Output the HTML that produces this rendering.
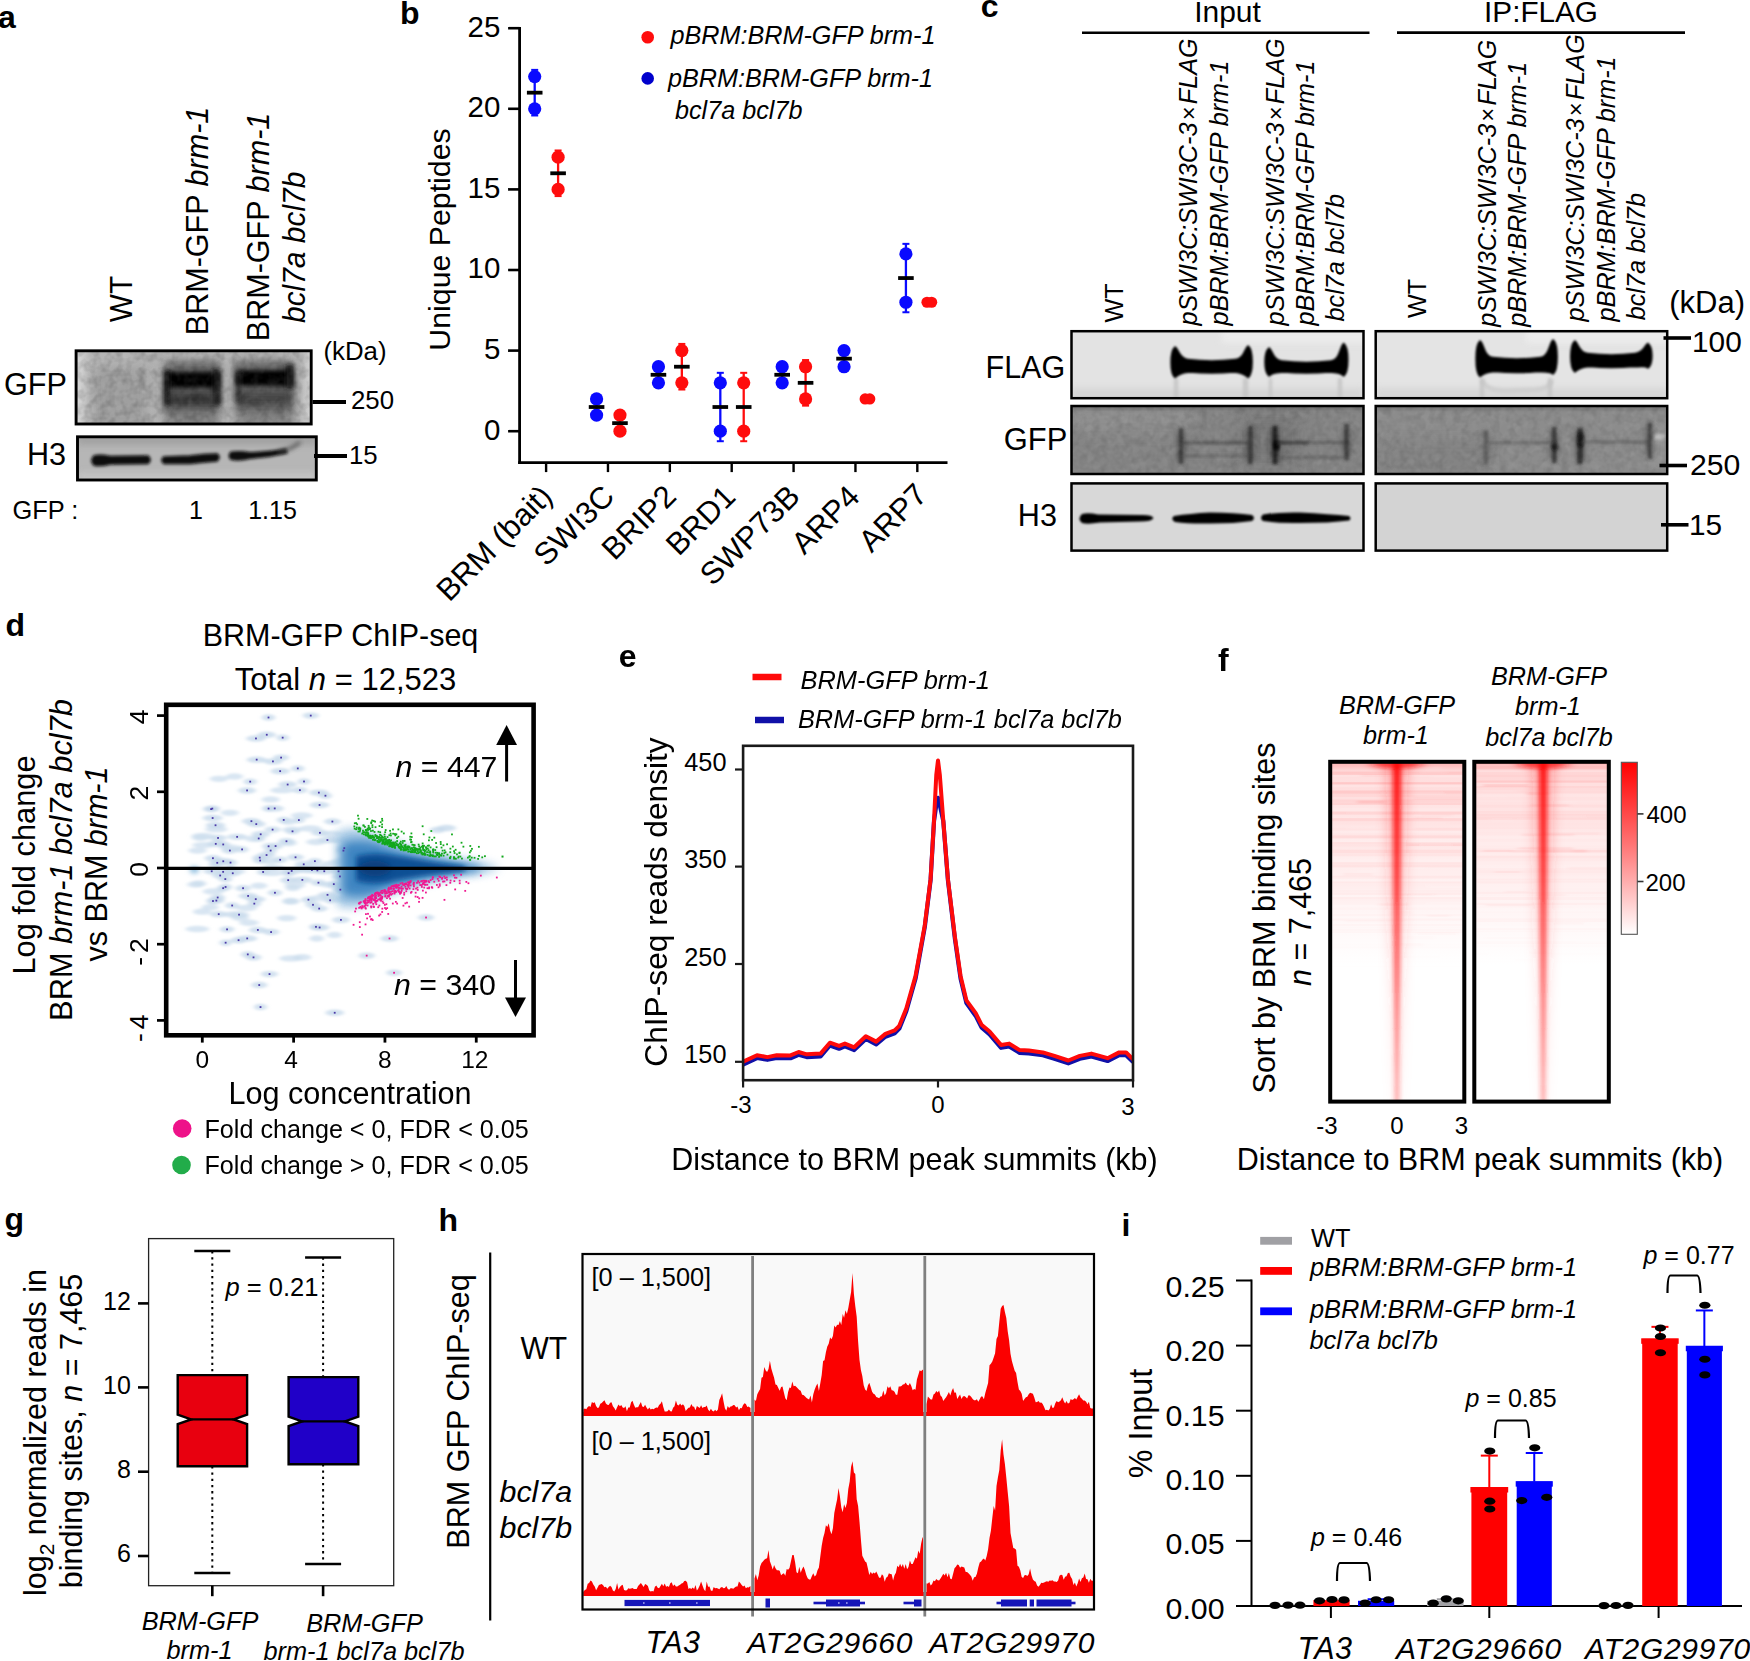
<!DOCTYPE html>
<html lang="en"><head><meta charset="utf-8"><title>Figure</title>
<style>
html,body{margin:0;padding:0;background:#fff;}
svg{display:block;}
text{font-family:'Liberation Sans', Arial, Helvetica, sans-serif;}
</style></head><body>
<svg width="1750" height="1661" viewBox="0 0 1750 1661">
<defs>
<filter id="fa1" filterUnits="userSpaceOnUse" x="50" y="330" width="300" height="170"><feGaussianBlur stdDeviation="1.5"/></filter>
<filter id="fa2" filterUnits="userSpaceOnUse" x="50" y="330" width="300" height="170"><feGaussianBlur stdDeviation="2.2"/></filter>
<filter id="fa3" filterUnits="userSpaceOnUse" x="50" y="330" width="300" height="170"><feGaussianBlur stdDeviation="3.2"/></filter>
<filter id="fa4" filterUnits="userSpaceOnUse" x="50" y="330" width="300" height="170"><feGaussianBlur stdDeviation="5"/></filter>
<filter id="bl2" x="-30%" y="-30%" width="160%" height="160%"><feGaussianBlur stdDeviation="2"/></filter>
<filter id="bl3" x="-30%" y="-30%" width="160%" height="160%"><feGaussianBlur stdDeviation="3"/></filter>
<filter id="bl1" x="-30%" y="-30%" width="160%" height="160%"><feGaussianBlur stdDeviation="1.2"/></filter>
<filter id="noiseA" x="0" y="0" width="100%" height="100%"><feTurbulence type="fractalNoise" baseFrequency="0.13" numOctaves="2" seed="4"/><feColorMatrix type="matrix" values="0 0 0 0 0  0 0 0 0 0  0 0 0 0 0  1.6 0 0 0 -0.62"/></filter>
<filter id="noiseW" x="0" y="0" width="100%" height="100%"><feTurbulence type="fractalNoise" baseFrequency="0.13" numOctaves="2" seed="9"/><feColorMatrix type="matrix" values="0 0 0 0 1  0 0 0 0 1  0 0 0 0 1  1.6 0 0 0 -0.62"/></filter>
<clipPath id="ca1"><rect x="76.1" y="350.8" width="235.1" height="73.2"/></clipPath>
<clipPath id="ca2"><rect x="77.5" y="436.8" width="238.8" height="43.2"/></clipPath>
<linearGradient id="ga1" x1="0" x2="1" y1="0" y2="0"><stop offset="0" stop-color="#dcdcdc"/><stop offset="0.06" stop-color="#b6b6b6"/><stop offset="0.34" stop-color="#b0b0b0"/><stop offset="0.95" stop-color="#b2b2b2"/><stop offset="1" stop-color="#d6d6d6"/></linearGradient>
<filter id="fc1" filterUnits="userSpaceOnUse" x="1060" y="320" width="620" height="240"><feGaussianBlur stdDeviation="1.3"/></filter>
<filter id="fc2" filterUnits="userSpaceOnUse" x="1060" y="320" width="620" height="240"><feGaussianBlur stdDeviation="1.8"/></filter>
<filter id="fc3" filterUnits="userSpaceOnUse" x="1060" y="320" width="620" height="240"><feGaussianBlur stdDeviation="3"/></filter>
<filter id="fc4" filterUnits="userSpaceOnUse" x="1060" y="320" width="620" height="240"><feGaussianBlur stdDeviation="7"/></filter>
<clipPath id="cc00"><rect x="1071.5" y="331.2" width="292.00" height="67.00"/></clipPath>
<clipPath id="cc01"><rect x="1375.7" y="331.2" width="291.50" height="67.00"/></clipPath>
<clipPath id="cc10"><rect x="1071.5" y="406.0" width="292.00" height="68.00"/></clipPath>
<clipPath id="cc11"><rect x="1375.7" y="406.0" width="291.50" height="68.00"/></clipPath>
<clipPath id="cc20"><rect x="1071.5" y="483.4" width="292.00" height="67.20"/></clipPath>
<clipPath id="cc21"><rect x="1375.7" y="483.4" width="291.50" height="67.20"/></clipPath>
<clipPath id="cd"><rect x="166.2" y="704.8" width="367.4" height="330.5"/></clipPath>
<filter id="fd1" filterUnits="userSpaceOnUse" x="146.2" y="684.8" width="407.4" height="370.5"><feGaussianBlur stdDeviation="2.2 1.3"/></filter>
<filter id="fd2" filterUnits="userSpaceOnUse" x="146.2" y="684.8" width="407.4" height="370.5"><feGaussianBlur stdDeviation="5"/></filter>
<filter id="fd3" filterUnits="userSpaceOnUse" x="146.2" y="684.8" width="407.4" height="370.5"><feGaussianBlur stdDeviation="2.5"/></filter>
<clipPath id="ce"><rect x="743.1" y="745.8" width="389.9" height="334.4"/></clipPath>
<linearGradient id="fbg" x1="0" x2="0" y1="0" y2="1"><stop offset="0" stop-color="#ff2020" stop-opacity="0.36"/><stop offset="0.03" stop-color="#ff3030" stop-opacity="0.21"/><stop offset="0.2" stop-color="#ff4040" stop-opacity="0.135"/><stop offset="0.4" stop-color="#ff5050" stop-opacity="0.07"/><stop offset="0.52" stop-color="#ff5050" stop-opacity="0.025"/><stop offset="0.6" stop-color="#ff5050" stop-opacity="0"/></linearGradient>
<linearGradient id="fst" x1="0" x2="0" y1="0" y2="1"><stop offset="0" stop-color="#ff0000" stop-opacity="1"/><stop offset="0.04" stop-color="#ff0808" stop-opacity="0.9"/><stop offset="0.3" stop-color="#ff1010" stop-opacity="0.78"/><stop offset="0.6" stop-color="#ff2020" stop-opacity="0.6"/><stop offset="1" stop-color="#ff3030" stop-opacity="0.36"/></linearGradient>
<linearGradient id="fst2" x1="0" x2="0" y1="0" y2="1"><stop offset="0" stop-color="#ff2020" stop-opacity="0.30"/><stop offset="0.35" stop-color="#ff3030" stop-opacity="0.2"/><stop offset="0.7" stop-color="#ff4040" stop-opacity="0.1"/><stop offset="1" stop-color="#ff4040" stop-opacity="0.03"/></linearGradient>
<linearGradient id="fcb" x1="0" x2="0" y1="0" y2="1"><stop offset="0" stop-color="#ff0000"/><stop offset="0.5" stop-color="#ff7a7a"/><stop offset="1" stop-color="#fff"/></linearGradient>
<filter id="ff1" filterUnits="userSpaceOnUse" x="1320" y="740" width="300" height="380"><feGaussianBlur stdDeviation="2 1"/></filter>
<filter id="ff3" filterUnits="userSpaceOnUse" x="1320" y="740" width="300" height="380"><feGaussianBlur stdDeviation="2.5 0.7"/></filter>
<filter id="ff2" filterUnits="userSpaceOnUse" x="1320" y="740" width="300" height="380"><feGaussianBlur stdDeviation="6 2"/></filter>
<clipPath id="cf0"><rect x="1330.2" y="761.8" width="134.1" height="339.8"/></clipPath>
<clipPath id="cf1"><rect x="1474.3" y="761.8" width="134.5" height="339.8"/></clipPath>
</defs>
<rect width="1750" height="1661" fill="#fff"/>
<g id="panel_a">
<text x="-2.00" y="27.50" font-size="32" font-weight="bold" xml:space="preserve">a</text>
<text transform="translate(132.10 322.30) rotate(-90) scale(0.935 1)" font-size="32" xml:space="preserve">WT</text>
<text transform="translate(208.10 335.20) rotate(-90) scale(0.955 1)" font-size="32" xml:space="preserve">BRM-GFP <tspan font-style="italic">brm-1</tspan></text>
<text transform="translate(269.20 341.20) rotate(-90) scale(0.955 1)" font-size="32" xml:space="preserve">BRM-GFP <tspan font-style="italic">brm-1</tspan></text>
<text transform="translate(305.10 323.00) rotate(-90) scale(0.935 1)" font-size="32" xml:space="preserve"><tspan font-style="italic">bcl7a bcl7b</tspan></text>
<g clip-path="url(#ca1)">
<rect x="76.10" y="350.80" width="235.10" height="73.20" fill="url(#ga1)"/>
<rect x="93.00" y="368.00" width="54.00" height="60.00" fill="#9a9a9a" filter="url(#fa4)" opacity="0.8"/>
<rect x="165.00" y="360.00" width="54.00" height="70.00" fill="#808080" filter="url(#fa3)" opacity="0.9"/>
<rect x="165.00" y="366.00" width="54.00" height="46.00" fill="#555" filter="url(#fa4)" opacity="0.9"/>
<rect x="166.00" y="372.50" width="53.00" height="15.00" fill="#060606" filter="url(#fa2)"/>
<rect x="164.00" y="371.00" width="7.00" height="34.00" fill="#161616" filter="url(#fa2)" opacity="0.92"/>
<rect x="212.50" y="369.00" width="8.00" height="36.00" fill="#161616" filter="url(#fa2)" opacity="0.92"/>
<rect x="167.00" y="394.00" width="52.00" height="10.00" fill="#2a2a2a" filter="url(#fa3)" opacity="0.8"/>
<rect x="236.00" y="360.00" width="57.00" height="70.00" fill="#848484" filter="url(#fa3)" opacity="0.9"/>
<rect x="236.00" y="364.00" width="57.00" height="48.00" fill="#5a5a5a" filter="url(#fa4)" opacity="0.9"/>
<rect x="236.00" y="370.50" width="56.00" height="15.00" fill="#060606" filter="url(#fa2)"/>
<rect x="285.00" y="365.00" width="8.50" height="24.00" fill="#121212" filter="url(#fa2)" opacity="0.92"/>
<rect x="236.00" y="372.00" width="6.00" height="30.00" fill="#222" filter="url(#fa2)" opacity="0.8"/>
<rect x="238.00" y="393.00" width="53.00" height="11.00" fill="#3a3a3a" filter="url(#fa3)" opacity="0.7"/>
<rect x="76.10" y="350.80" width="235.10" height="73.20" fill="#000" filter="url(#noiseA)" opacity="0.22"/>
<rect x="76.10" y="350.80" width="235.10" height="73.20" fill="#fff" filter="url(#noiseW)" opacity="0.09"/>
</g>
<rect x="76.10" y="350.80" width="235.10" height="73.20" fill="none" stroke="#000" stroke-width="2.9"/>
<g clip-path="url(#ca2)">
<rect x="77.50" y="436.80" width="238.80" height="43.20" fill="#b6b6b6"/>
<rect x="77.50" y="432.80" width="238.80" height="12.00" fill="#9c9c9c" filter="url(#fa3)" opacity="0.8"/>
<rect x="77.50" y="472.00" width="238.80" height="12.00" fill="#c6c6c6" filter="url(#fa3)" opacity="0.8"/>
<g filter="url(#fa1)">
<path d="M94 456 Q100 454.5 110 456.5 L148 456 Q152 460 148 463.5 L110 464 Q100 466.5 94 465 Q90 460.5 94 456 Z" fill="#0a0a0a" stroke="#0a0a0a" stroke-width="1.6"/>
<path d="M164 457 L190 456 Q205 454 217 454 Q221 457 217 461 Q205 462 190 463.5 L164 463.5 Q160 460 164 457 Z" fill="#0a0a0a" stroke="#0a0a0a" stroke-width="1.6"/>
<path d="M231 452 Q240 451 250 452.5 Q270 452 286 449 L287 453 Q270 457 250 458.5 Q240 461 231 459.5 Q227.5 456 231 452 Z" fill="#0e0e0e" stroke="#0e0e0e" stroke-width="1.2"/>
</g>
<path d="M280 451.5 Q292 449 299 443" stroke="#444" stroke-width="3.5" stroke-linecap="round" fill="none" filter="url(#fa2)" opacity="0.8"/>
</g>
<rect x="77.50" y="436.80" width="238.80" height="43.20" fill="none" stroke="#000" stroke-width="2.9"/>
<text x="4.00" y="394.80" font-size="30.6" xml:space="preserve">GFP</text>
<text x="27.00" y="465.30" font-size="30.6" xml:space="preserve">H3</text>
<text x="323.50" y="360.40" font-size="25.8" xml:space="preserve">(kDa)</text>
<line x1="312.50" y1="402.00" x2="346.00" y2="402.00" stroke="#000" stroke-width="4"/>
<text x="351.00" y="409.30" font-size="25.8" xml:space="preserve">250</text>
<line x1="314.00" y1="455.90" x2="347.00" y2="455.90" stroke="#000" stroke-width="4"/>
<text x="349.00" y="464.30" font-size="25.8" xml:space="preserve">15</text>
<text x="12.50" y="518.80" font-size="25.4" xml:space="preserve">GFP :</text>
<text x="196.00" y="518.80" font-size="25" text-anchor="middle" xml:space="preserve">1</text>
<text x="272.50" y="518.80" font-size="25" text-anchor="middle" xml:space="preserve">1.15</text>
</g>
<g id="panel_b">
<text x="400.00" y="23.60" font-size="32" font-weight="bold" xml:space="preserve">b</text>
<line x1="519.60" y1="26.90" x2="519.60" y2="463.90" stroke="#000" stroke-width="2.8"/>
<line x1="518.20" y1="462.60" x2="947.50" y2="462.60" stroke="#000" stroke-width="2.6"/>
<line x1="508.10" y1="431.20" x2="519.60" y2="431.20" stroke="#000" stroke-width="2.6"/>
<text x="500.30" y="439.50" font-size="29.5" text-anchor="end" xml:space="preserve">0</text>
<line x1="508.10" y1="350.60" x2="519.60" y2="350.60" stroke="#000" stroke-width="2.6"/>
<text x="500.30" y="358.90" font-size="29.5" text-anchor="end" xml:space="preserve">5</text>
<line x1="508.10" y1="270.00" x2="519.60" y2="270.00" stroke="#000" stroke-width="2.6"/>
<text x="500.30" y="278.30" font-size="29.5" text-anchor="end" xml:space="preserve">10</text>
<line x1="508.10" y1="189.40" x2="519.60" y2="189.40" stroke="#000" stroke-width="2.6"/>
<text x="500.30" y="197.70" font-size="29.5" text-anchor="end" xml:space="preserve">15</text>
<line x1="508.10" y1="108.80" x2="519.60" y2="108.80" stroke="#000" stroke-width="2.6"/>
<text x="500.30" y="117.10" font-size="29.5" text-anchor="end" xml:space="preserve">20</text>
<line x1="508.10" y1="28.20" x2="519.60" y2="28.20" stroke="#000" stroke-width="2.6"/>
<text x="500.30" y="36.50" font-size="29.5" text-anchor="end" xml:space="preserve">25</text>
<line x1="546.10" y1="462.60" x2="546.10" y2="472.10" stroke="#000" stroke-width="2.4"/>
<text transform="translate(554.10 498.10) rotate(-45)" font-size="31" text-anchor="end" xml:space="preserve">BRM (bait)</text>
<line x1="607.97" y1="462.60" x2="607.97" y2="472.10" stroke="#000" stroke-width="2.4"/>
<text transform="translate(615.97 498.10) rotate(-45)" font-size="31" text-anchor="end" xml:space="preserve">SWI3C</text>
<line x1="669.84" y1="462.60" x2="669.84" y2="472.10" stroke="#000" stroke-width="2.4"/>
<text transform="translate(677.84 498.10) rotate(-45)" font-size="31" text-anchor="end" xml:space="preserve">BRIP2</text>
<line x1="731.71" y1="462.60" x2="731.71" y2="472.10" stroke="#000" stroke-width="2.4"/>
<text transform="translate(737.21 498.60) rotate(-45)" font-size="31" text-anchor="end" xml:space="preserve">BRD1</text>
<line x1="793.58" y1="462.60" x2="793.58" y2="472.10" stroke="#000" stroke-width="2.4"/>
<text transform="translate(801.58 498.10) rotate(-45)" font-size="31" text-anchor="end" xml:space="preserve">SWP73B</text>
<line x1="855.45" y1="462.60" x2="855.45" y2="472.10" stroke="#000" stroke-width="2.4"/>
<text transform="translate(861.45 498.60) rotate(-45)" font-size="31" text-anchor="end" xml:space="preserve">ARP4</text>
<line x1="917.32" y1="462.60" x2="917.32" y2="472.10" stroke="#000" stroke-width="2.4"/>
<text transform="translate(928.82 496.60) rotate(-45)" font-size="31" text-anchor="end" xml:space="preserve">ARP7</text>
<text transform="translate(450.40 239.50) rotate(-90)" font-size="30.3" text-anchor="middle" xml:space="preserve">Unique Peptides</text>
<line x1="534.70" y1="69.88" x2="534.70" y2="115.48" stroke="#0a0aff" stroke-width="2.3"/>
<line x1="531.20" y1="69.88" x2="538.20" y2="69.88" stroke="#0a0aff" stroke-width="2"/>
<line x1="531.20" y1="115.48" x2="538.20" y2="115.48" stroke="#0a0aff" stroke-width="2"/>
<circle cx="534.70" cy="76.56" r="6.6" fill="#0a0aff"/>
<circle cx="534.70" cy="108.80" r="6.6" fill="#0a0aff"/>
<line x1="526.90" y1="92.68" x2="542.50" y2="92.68" stroke="#000" stroke-width="3.8"/>
<line x1="558.10" y1="150.48" x2="558.10" y2="196.08" stroke="#ff0d0d" stroke-width="2.3"/>
<line x1="554.60" y1="150.48" x2="561.60" y2="150.48" stroke="#ff0d0d" stroke-width="2"/>
<line x1="554.60" y1="196.08" x2="561.60" y2="196.08" stroke="#ff0d0d" stroke-width="2"/>
<circle cx="558.10" cy="157.16" r="6.6" fill="#ff0d0d"/>
<circle cx="558.10" cy="189.40" r="6.6" fill="#ff0d0d"/>
<line x1="550.30" y1="173.28" x2="565.90" y2="173.28" stroke="#000" stroke-width="3.8"/>
<line x1="596.57" y1="395.62" x2="596.57" y2="418.42" stroke="#0a0aff" stroke-width="2.3"/>
<line x1="593.07" y1="395.62" x2="600.07" y2="395.62" stroke="#0a0aff" stroke-width="2"/>
<line x1="593.07" y1="418.42" x2="600.07" y2="418.42" stroke="#0a0aff" stroke-width="2"/>
<circle cx="596.57" cy="398.96" r="6.6" fill="#0a0aff"/>
<circle cx="596.57" cy="415.08" r="6.6" fill="#0a0aff"/>
<line x1="588.77" y1="407.02" x2="604.37" y2="407.02" stroke="#000" stroke-width="3.8"/>
<line x1="619.97" y1="411.74" x2="619.97" y2="434.54" stroke="#ff0d0d" stroke-width="2.3"/>
<line x1="616.47" y1="411.74" x2="623.47" y2="411.74" stroke="#ff0d0d" stroke-width="2"/>
<line x1="616.47" y1="434.54" x2="623.47" y2="434.54" stroke="#ff0d0d" stroke-width="2"/>
<circle cx="619.97" cy="415.08" r="6.6" fill="#ff0d0d"/>
<circle cx="619.97" cy="431.20" r="6.6" fill="#ff0d0d"/>
<line x1="612.17" y1="423.14" x2="627.77" y2="423.14" stroke="#000" stroke-width="3.8"/>
<line x1="658.44" y1="363.38" x2="658.44" y2="386.18" stroke="#0a0aff" stroke-width="2.3"/>
<line x1="654.94" y1="363.38" x2="661.94" y2="363.38" stroke="#0a0aff" stroke-width="2"/>
<line x1="654.94" y1="386.18" x2="661.94" y2="386.18" stroke="#0a0aff" stroke-width="2"/>
<circle cx="658.44" cy="366.72" r="6.6" fill="#0a0aff"/>
<circle cx="658.44" cy="382.84" r="6.6" fill="#0a0aff"/>
<line x1="650.64" y1="374.78" x2="666.24" y2="374.78" stroke="#000" stroke-width="3.8"/>
<line x1="681.84" y1="343.92" x2="681.84" y2="389.52" stroke="#ff0d0d" stroke-width="2.3"/>
<line x1="678.34" y1="343.92" x2="685.34" y2="343.92" stroke="#ff0d0d" stroke-width="2"/>
<line x1="678.34" y1="389.52" x2="685.34" y2="389.52" stroke="#ff0d0d" stroke-width="2"/>
<circle cx="681.84" cy="350.60" r="6.6" fill="#ff0d0d"/>
<circle cx="681.84" cy="382.84" r="6.6" fill="#ff0d0d"/>
<line x1="674.04" y1="366.72" x2="689.64" y2="366.72" stroke="#000" stroke-width="3.8"/>
<line x1="720.31" y1="372.82" x2="720.31" y2="441.22" stroke="#0a0aff" stroke-width="2.3"/>
<line x1="716.81" y1="372.82" x2="723.81" y2="372.82" stroke="#0a0aff" stroke-width="2"/>
<line x1="716.81" y1="441.22" x2="723.81" y2="441.22" stroke="#0a0aff" stroke-width="2"/>
<circle cx="720.31" cy="382.84" r="6.6" fill="#0a0aff"/>
<circle cx="720.31" cy="431.20" r="6.6" fill="#0a0aff"/>
<line x1="712.51" y1="407.02" x2="728.11" y2="407.02" stroke="#000" stroke-width="3.8"/>
<line x1="743.71" y1="372.82" x2="743.71" y2="441.22" stroke="#ff0d0d" stroke-width="2.3"/>
<line x1="740.21" y1="372.82" x2="747.21" y2="372.82" stroke="#ff0d0d" stroke-width="2"/>
<line x1="740.21" y1="441.22" x2="747.21" y2="441.22" stroke="#ff0d0d" stroke-width="2"/>
<circle cx="743.71" cy="382.84" r="6.6" fill="#ff0d0d"/>
<circle cx="743.71" cy="431.20" r="6.6" fill="#ff0d0d"/>
<line x1="735.91" y1="407.02" x2="751.51" y2="407.02" stroke="#000" stroke-width="3.8"/>
<line x1="782.18" y1="363.38" x2="782.18" y2="386.18" stroke="#0a0aff" stroke-width="2.3"/>
<line x1="778.68" y1="363.38" x2="785.68" y2="363.38" stroke="#0a0aff" stroke-width="2"/>
<line x1="778.68" y1="386.18" x2="785.68" y2="386.18" stroke="#0a0aff" stroke-width="2"/>
<circle cx="782.18" cy="366.72" r="6.6" fill="#0a0aff"/>
<circle cx="782.18" cy="382.84" r="6.6" fill="#0a0aff"/>
<line x1="774.38" y1="374.78" x2="789.98" y2="374.78" stroke="#000" stroke-width="3.8"/>
<line x1="805.58" y1="360.04" x2="805.58" y2="405.64" stroke="#ff0d0d" stroke-width="2.3"/>
<line x1="802.08" y1="360.04" x2="809.08" y2="360.04" stroke="#ff0d0d" stroke-width="2"/>
<line x1="802.08" y1="405.64" x2="809.08" y2="405.64" stroke="#ff0d0d" stroke-width="2"/>
<circle cx="805.58" cy="366.72" r="6.6" fill="#ff0d0d"/>
<circle cx="805.58" cy="398.96" r="6.6" fill="#ff0d0d"/>
<line x1="797.78" y1="382.84" x2="813.38" y2="382.84" stroke="#000" stroke-width="3.8"/>
<line x1="844.05" y1="347.26" x2="844.05" y2="370.06" stroke="#0a0aff" stroke-width="2.3"/>
<line x1="840.55" y1="347.26" x2="847.55" y2="347.26" stroke="#0a0aff" stroke-width="2"/>
<line x1="840.55" y1="370.06" x2="847.55" y2="370.06" stroke="#0a0aff" stroke-width="2"/>
<circle cx="844.05" cy="350.60" r="6.6" fill="#0a0aff"/>
<circle cx="844.05" cy="366.72" r="6.6" fill="#0a0aff"/>
<line x1="836.25" y1="358.66" x2="851.85" y2="358.66" stroke="#000" stroke-width="3.8"/>
<circle cx="865.15" cy="398.96" r="5.6" fill="#ff0d0d"/>
<circle cx="869.75" cy="398.96" r="5.6" fill="#ff0d0d"/>
<line x1="905.92" y1="243.86" x2="905.92" y2="312.26" stroke="#0a0aff" stroke-width="2.3"/>
<line x1="902.42" y1="243.86" x2="909.42" y2="243.86" stroke="#0a0aff" stroke-width="2"/>
<line x1="902.42" y1="312.26" x2="909.42" y2="312.26" stroke="#0a0aff" stroke-width="2"/>
<circle cx="905.92" cy="253.88" r="6.6" fill="#0a0aff"/>
<circle cx="905.92" cy="302.24" r="6.6" fill="#0a0aff"/>
<line x1="898.12" y1="278.06" x2="913.72" y2="278.06" stroke="#000" stroke-width="3.8"/>
<circle cx="927.02" cy="302.24" r="5.6" fill="#ff0d0d"/>
<circle cx="931.62" cy="302.24" r="5.6" fill="#ff0d0d"/>
<circle cx="647.70" cy="37.30" r="6.3" fill="#ff0d0d"/>
<circle cx="647.70" cy="78.40" r="6.3" fill="#0000cc"/>
<text x="670.50" y="44.40" font-size="25.2" xml:space="preserve"><tspan font-style="italic">pBRM:BRM-GFP brm-1</tspan></text>
<text x="668.00" y="87.40" font-size="25.2" xml:space="preserve"><tspan font-style="italic">pBRM:BRM-GFP brm-1</tspan></text>
<text x="675.00" y="118.80" font-size="25.2" xml:space="preserve"><tspan font-style="italic">bcl7a bcl7b</tspan></text>
</g>
<g id="panel_c">
<text x="980.70" y="16.60" font-size="32" font-weight="bold" xml:space="preserve">c</text>
<text x="1227.50" y="21.60" font-size="30" text-anchor="middle" xml:space="preserve">Input</text>
<text x="1541.00" y="22.10" font-size="29.7" text-anchor="middle" xml:space="preserve">IP:FLAG</text>
<line x1="1082.00" y1="32.80" x2="1369.50" y2="32.80" stroke="#000" stroke-width="2.6"/>
<line x1="1397.00" y1="32.60" x2="1685.00" y2="32.60" stroke="#000" stroke-width="2.6"/>
<text transform="translate(1123.00 322.40) rotate(-90)" font-size="25.2" xml:space="preserve">WT</text>
<text transform="translate(1197.20 325.50) rotate(-90)" font-size="25.2" xml:space="preserve"><tspan font-style="italic">pSWI3C:SWI3C-3</tspan><tspan font-size="24" dx="2.2">×</tspan><tspan font-style="italic" dx="2.2">FLAG</tspan></text>
<text transform="translate(1227.50 325.50) rotate(-90)" font-size="25.2" xml:space="preserve"><tspan font-style="italic">pBRM:BRM-GFP brm-1</tspan></text>
<text transform="translate(1283.50 325.50) rotate(-90)" font-size="25.2" xml:space="preserve"><tspan font-style="italic">pSWI3C:SWI3C-3</tspan><tspan font-size="24" dx="2.2">×</tspan><tspan font-style="italic" dx="2.2">FLAG</tspan></text>
<text transform="translate(1313.80 325.50) rotate(-90)" font-size="25.2" xml:space="preserve"><tspan font-style="italic">pBRM:BRM-GFP brm-1</tspan></text>
<text transform="translate(1343.50 321.40) rotate(-90)" font-size="25.2" xml:space="preserve"><tspan font-style="italic">bcl7a bcl7b</tspan></text>
<text transform="translate(1426.00 318.10) rotate(-90)" font-size="25.2" xml:space="preserve">WT</text>
<text transform="translate(1496.00 326.80) rotate(-90)" font-size="25.2" xml:space="preserve"><tspan font-style="italic">pSWI3C:SWI3C-3</tspan><tspan font-size="24" dx="2.2">×</tspan><tspan font-style="italic" dx="2.2">FLAG</tspan></text>
<text transform="translate(1525.90 326.80) rotate(-90)" font-size="25.2" xml:space="preserve"><tspan font-style="italic">pBRM:BRM-GFP brm-1</tspan></text>
<text transform="translate(1583.90 321.40) rotate(-90)" font-size="25.2" xml:space="preserve"><tspan font-style="italic">pSWI3C:SWI3C-3</tspan><tspan font-size="24" dx="2.2">×</tspan><tspan font-style="italic" dx="2.2">FLAG</tspan></text>
<text transform="translate(1615.00 321.40) rotate(-90)" font-size="25.2" xml:space="preserve"><tspan font-style="italic">pBRM:BRM-GFP brm-1</tspan></text>
<text transform="translate(1644.70 320.30) rotate(-90)" font-size="25.2" xml:space="preserve"><tspan font-style="italic">bcl7a bcl7b</tspan></text>
<g clip-path="url(#cc00)">
<rect x="1071.50" y="331.20" width="292.00" height="67.00" fill="#e3e3e3"/>
<rect x="1071.50" y="388.20" width="292.00" height="14.00" fill="#d2d2d2" filter="url(#fc3)" opacity="0.8"/>
<rect x="1221.50" y="327.20" width="150.00" height="16.00" fill="#eeeeee" filter="url(#fc3)" opacity="0.8"/>
<rect x="1174.00" y="378.00" width="4.00" height="20.00" fill="#c4c4c4" filter="url(#fc2)" opacity="0.9"/>
<rect x="1243.00" y="378.00" width="5.00" height="20.00" fill="#c4c4c4" filter="url(#fc2)" opacity="0.9"/>
<rect x="1269.00" y="378.00" width="3.00" height="20.00" fill="#c4c4c4" filter="url(#fc2)" opacity="0.9"/>
<rect x="1338.00" y="378.00" width="4.00" height="20.00" fill="#c4c4c4" filter="url(#fc2)" opacity="0.9"/>
<g filter="url(#fc1)"><path d="M1175.0 347.0 C1178.8 349.0 1178.8 358.5 1187.8 359.5 Q1211.6 362.5 1235.4 359.5 C1244.4 358.5 1244.4 348.0 1248.2 346.0 C1253.4 350.0 1253.4 373.5 1248.2 377.5 C1244.4 374.5 1242.2 373.0 1233.9 372.0 Q1211.6 374.0 1189.3 372.0 C1181.0 373.0 1178.8 374.5 1175.0 377.5 C1169.8 373.5 1169.8 351.0 1175.0 347.0 Z" fill="#000" stroke="#000" stroke-width="1.5"/><path d="M1269.0 348.0 C1272.7 350.0 1272.7 360.0 1281.7 361.0 Q1306.4 364.0 1331.1 361.0 C1340.1 360.0 1340.1 345.5 1343.8 343.5 C1349.1 347.5 1349.1 372.0 1343.8 376.0 C1340.1 373.0 1337.8 373.0 1329.6 372.0 Q1306.4 374.0 1283.2 372.0 C1275.0 373.0 1272.7 373.0 1269.0 376.0 C1263.7 372.0 1263.7 352.0 1269.0 348.0 Z" fill="#000" stroke="#000" stroke-width="1.5"/></g>
</g>
<rect x="1071.50" y="331.20" width="292.00" height="67.00" fill="none" stroke="#000" stroke-width="2.5"/>
<g clip-path="url(#cc01)">
<rect x="1375.70" y="331.20" width="291.50" height="67.00" fill="#e4e4e4"/>
<rect x="1375.70" y="388.20" width="291.50" height="14.00" fill="#d2d2d2" filter="url(#fc3)" opacity="0.8"/>
<rect x="1525.70" y="327.20" width="150.00" height="16.00" fill="#eeeeee" filter="url(#fc3)" opacity="0.8"/>
<path d="M1482 380 Q1486 392 1510 391 L1535 390 Q1550 389 1552 380" stroke="#cfcfcf" stroke-width="5" fill="none" filter="url(#fc2)"/>
<rect x="1480.00" y="378.00" width="4.00" height="20.00" fill="#c4c4c4" filter="url(#fc2)" opacity="0.9"/>
<rect x="1548.00" y="378.00" width="4.00" height="20.00" fill="#c4c4c4" filter="url(#fc2)" opacity="0.9"/>
<g filter="url(#fc1)"><path d="M1480.0 341.0 C1483.8 343.0 1483.8 356.5 1492.8 357.5 Q1516.6 360.5 1540.4 357.5 C1549.4 356.5 1549.4 342.0 1553.2 340.0 C1558.4 344.0 1558.4 370.0 1553.2 374.0 C1549.4 371.0 1547.2 372.5 1538.9 371.5 Q1516.6 373.5 1494.3 371.5 C1486.0 372.5 1483.8 373.5 1480.0 376.5 C1474.8 372.5 1474.8 345.0 1480.0 341.0 Z" fill="#000" stroke="#000" stroke-width="1.5"/><path d="M1574.8 341.0 C1578.5 343.0 1578.5 352.5 1587.5 353.5 Q1611.3 356.5 1635.2 353.5 C1644.2 352.5 1644.2 345.5 1648.0 343.5 C1653.2 347.5 1653.2 364.0 1648.0 368.0 C1644.2 365.0 1642.0 367.5 1633.7 366.5 Q1611.3 368.5 1589.0 366.5 C1580.8 367.5 1578.5 369.0 1574.8 372.0 C1569.5 368.0 1569.5 345.0 1574.8 341.0 Z" fill="#000" stroke="#000" stroke-width="1.5"/></g>
</g>
<rect x="1375.70" y="331.20" width="291.50" height="67.00" fill="none" stroke="#000" stroke-width="2.5"/>
<g clip-path="url(#cc10)">
<rect x="1071.50" y="406.00" width="292.00" height="68.00" fill="#858585"/>
<rect x="1071.50" y="402.00" width="120.00" height="30.00" fill="#929292" filter="url(#fc4)" opacity="0.8"/>
<rect x="1240.00" y="415.00" width="60.00" height="50.00" fill="#777" filter="url(#fc4)" opacity="0.8"/>
<rect x="1071.50" y="403.00" width="292.00" height="7.00" fill="#6a6a6a" filter="url(#fc2)" opacity="0.7"/>
<rect x="1178.75" y="428.00" width="4.50" height="36.00" fill="#2a2a2a" filter="url(#fc2)" opacity="0.7"/>
<rect x="1176.50" y="431.00" width="9.00" height="30.00" fill="#2a2a2a" filter="url(#fc3)" opacity="0.315"/>
<rect x="1248.05" y="426.00" width="4.50" height="38.00" fill="#2a2a2a" filter="url(#fc2)" opacity="0.7"/>
<rect x="1245.80" y="429.00" width="9.00" height="32.00" fill="#2a2a2a" filter="url(#fc3)" opacity="0.315"/>
<rect x="1182.00" y="441.30" width="68.00" height="3.00" fill="#3a3a3a" filter="url(#fc2)" opacity="0.6"/>
<rect x="1184.00" y="454.50" width="65.00" height="3.00" fill="#484848" filter="url(#fc2)" opacity="0.45"/>
<rect x="1272.50" y="426.00" width="5.00" height="38.00" fill="#161616" filter="url(#fc2)" opacity="0.85"/>
<rect x="1270.00" y="429.00" width="10.00" height="32.00" fill="#161616" filter="url(#fc3)" opacity="0.3825"/>
<ellipse cx="1276.50" cy="445.50" rx="3.5" ry="6" fill="#000" filter="url(#fc2)" opacity="0.8"/>
<rect x="1344.45" y="424.00" width="4.50" height="36.00" fill="#2a2a2a" filter="url(#fc2)" opacity="0.7"/>
<rect x="1342.20" y="427.00" width="9.00" height="30.00" fill="#2a2a2a" filter="url(#fc3)" opacity="0.315"/>
<rect x="1277.00" y="441.10" width="31.00" height="3.40" fill="#2a2a2a" filter="url(#fc2)" opacity="0.65"/>
<rect x="1305.00" y="441.00" width="42.00" height="3.00" fill="#3a3a3a" filter="url(#fc2)" opacity="0.5"/>
<rect x="1279.00" y="456.00" width="67.00" height="3.00" fill="#484848" filter="url(#fc2)" opacity="0.45"/>
<rect x="1071.50" y="406.00" width="292.00" height="68.00" fill="#000" filter="url(#noiseA)" opacity="0.13"/>
<rect x="1071.50" y="406.00" width="292.00" height="68.00" fill="#fff" filter="url(#noiseW)" opacity="0.08"/>
</g>
<rect x="1071.50" y="406.00" width="292.00" height="68.00" fill="none" stroke="#000" stroke-width="2.5"/>
<g clip-path="url(#cc11)">
<rect x="1375.70" y="406.00" width="291.50" height="68.00" fill="#8c8c8c"/>
<rect x="1375.70" y="403.00" width="291.50" height="7.00" fill="#737373" filter="url(#fc2)" opacity="0.7"/>
<rect x="1380.00" y="440.00" width="110.00" height="40.00" fill="#808080" filter="url(#fc4)" opacity="0.7"/>
<rect x="1484.00" y="430.00" width="4.00" height="34.00" fill="#484848" filter="url(#fc2)" opacity="0.6"/>
<rect x="1482.00" y="433.00" width="8.00" height="28.00" fill="#484848" filter="url(#fc3)" opacity="0.27"/>
<rect x="1551.95" y="427.00" width="4.50" height="36.00" fill="#2a2a2a" filter="url(#fc2)" opacity="0.75"/>
<rect x="1549.70" y="430.00" width="9.00" height="30.00" fill="#2a2a2a" filter="url(#fc3)" opacity="0.3375"/>
<ellipse cx="1554.50" cy="446.30" rx="3.2" ry="5" fill="#111" filter="url(#fc2)" opacity="0.7"/>
<rect x="1487.00" y="441.40" width="67.00" height="2.80" fill="#484848" filter="url(#fc2)" opacity="0.5"/>
<rect x="1577.50" y="428.00" width="5.00" height="36.00" fill="#1c1c1c" filter="url(#fc2)" opacity="0.8"/>
<rect x="1575.00" y="431.00" width="10.00" height="30.00" fill="#1c1c1c" filter="url(#fc3)" opacity="0.36000000000000004"/>
<ellipse cx="1580.50" cy="440.00" rx="3.4" ry="8" fill="#0a0a0a" filter="url(#fc2)" opacity="0.7"/>
<rect x="1647.75" y="423.00" width="4.50" height="36.00" fill="#2a2a2a" filter="url(#fc2)" opacity="0.75"/>
<rect x="1645.50" y="426.00" width="9.00" height="30.00" fill="#2a2a2a" filter="url(#fc3)" opacity="0.3375"/>
<rect x="1582.00" y="440.60" width="68.00" height="2.80" fill="#484848" filter="url(#fc2)" opacity="0.5"/>
<rect x="1653.00" y="425.00" width="14.00" height="40.00" fill="#9a9a9a" filter="url(#fc3)" opacity="0.6"/>
<rect x="1655.00" y="433.50" width="10.00" height="6.00" fill="#c2c2c2" filter="url(#fc2)" opacity="0.9"/>
<rect x="1375.70" y="406.00" width="291.50" height="68.00" fill="#000" filter="url(#noiseA)" opacity="0.13"/>
<rect x="1375.70" y="406.00" width="291.50" height="68.00" fill="#fff" filter="url(#noiseW)" opacity="0.08"/>
</g>
<rect x="1375.70" y="406.00" width="291.50" height="68.00" fill="none" stroke="#000" stroke-width="2.5"/>
<g clip-path="url(#cc20)">
<rect x="1071.50" y="483.40" width="292.00" height="67.20" fill="#d8d8d8"/>
<g filter="url(#fc1)">
<path d="M1082 514 Q1088 512.5 1098 514.5 L1140 515 Q1152 514.5 1153.5 518 Q1152 521.5 1140 521.5 L1100 522.5 Q1088 524.5 1082 523 Q1077 518.5 1082 514 Z" fill="#000"/>
<path d="M1174 516 Q1190 513.5 1210 512.5 Q1235 512.5 1252 515 Q1256 518 1252 521 Q1235 523.5 1210 523.5 Q1190 524 1175 522 Q1170 519 1174 516 Z" fill="#000"/>
<path d="M1263 514.5 Q1280 512 1300 512.5 Q1330 514 1349 516 Q1352 518.5 1349 520.5 Q1330 523 1300 523 Q1280 523.5 1263 521 Q1259 518 1263 514.5 Z" fill="#000"/>
</g>
</g>
<rect x="1071.50" y="483.40" width="292.00" height="67.20" fill="none" stroke="#000" stroke-width="2.5"/>
<g clip-path="url(#cc21)">
<rect x="1375.70" y="483.40" width="291.50" height="67.20" fill="#d3d3d3"/>
</g>
<rect x="1375.70" y="483.40" width="291.50" height="67.20" fill="none" stroke="#000" stroke-width="2.5"/>
<text x="985.50" y="378.30" font-size="30.5" xml:space="preserve">FLAG</text>
<text x="1003.80" y="449.50" font-size="30.9" xml:space="preserve">GFP</text>
<text x="1017.80" y="526.40" font-size="30.6" xml:space="preserve">H3</text>
<text x="1669.30" y="312.80" font-size="31" xml:space="preserve">(kDa)</text>
<line x1="1663.50" y1="338.00" x2="1691.00" y2="338.00" stroke="#000" stroke-width="3.6"/>
<text x="1692.00" y="351.50" font-size="29.8" xml:space="preserve">100</text>
<line x1="1659.50" y1="465.50" x2="1687.00" y2="465.50" stroke="#000" stroke-width="3.6"/>
<text x="1690.00" y="475.40" font-size="30.2" xml:space="preserve">250</text>
<line x1="1661.00" y1="524.80" x2="1688.50" y2="524.80" stroke="#000" stroke-width="3.6"/>
<text x="1689.00" y="535.30" font-size="29.8" xml:space="preserve">15</text>
</g>
<g id="panel_d">
<text x="5.50" y="636.30" font-size="32" font-weight="bold" xml:space="preserve">d</text>
<text x="340.50" y="645.80" font-size="30.5" text-anchor="middle" xml:space="preserve">BRM-GFP ChIP-seq</text>
<text x="345.50" y="689.50" font-size="31" text-anchor="middle" xml:space="preserve">Total <tspan font-style="italic">n</tspan> = 12,523</text>
<g clip-path="url(#cd)">
<g filter="url(#fd1)"><ellipse cx="253.51" cy="957.37" rx="7.772993574309755" ry="3.2" fill="#c3d7ea" opacity="0.75"/>
<ellipse cx="215.76" cy="843.86" rx="8.450111537377841" ry="3.2" fill="#c3d7ea" opacity="0.75"/>
<ellipse cx="259.24" cy="985.04" rx="8.022212523404887" ry="3.2" fill="#c3d7ea" opacity="0.75"/>
<ellipse cx="238.56" cy="940.19" rx="8.048645889741277" ry="3.2" fill="#c3d7ea" opacity="0.75"/>
<ellipse cx="218.72" cy="914.16" rx="8.770924010192918" ry="3.2" fill="#c3d7ea" opacity="0.75"/>
<ellipse cx="217.25" cy="862.82" rx="7.809383169059639" ry="3.2" fill="#c3d7ea" opacity="0.75"/>
<ellipse cx="295.53" cy="857.29" rx="8.133141750316684" ry="3.2" fill="#c3d7ea" opacity="0.75"/>
<ellipse cx="288.20" cy="880.14" rx="7.912145272128339" ry="3.2" fill="#c3d7ea" opacity="0.75"/>
<ellipse cx="215.53" cy="825.25" rx="9.766004510154003" ry="3.2" fill="#c3d7ea" opacity="0.75"/>
<ellipse cx="266.56" cy="855.03" rx="8.796871528721143" ry="3.2" fill="#c3d7ea" opacity="0.75"/>
<ellipse cx="251.40" cy="821.16" rx="9.506141927122373" ry="3.2" fill="#c3d7ea" opacity="0.75"/>
<ellipse cx="223.27" cy="861.27" rx="9.768722353214303" ry="3.2" fill="#c3d7ea" opacity="0.75"/>
<ellipse cx="260.16" cy="860.53" rx="7.038369176470763" ry="3.2" fill="#c3d7ea" opacity="0.75"/>
<ellipse cx="286.46" cy="841.26" rx="8.238055225990859" ry="3.2" fill="#c3d7ea" opacity="0.75"/>
<ellipse cx="302.35" cy="879.87" rx="9.773068136053935" ry="3.2" fill="#c3d7ea" opacity="0.75"/>
<ellipse cx="272.93" cy="761.40" rx="9.359999133572824" ry="3.2" fill="#c3d7ea" opacity="0.75"/>
<ellipse cx="250.21" cy="781.63" rx="6.548537743587406" ry="3.2" fill="#c3d7ea" opacity="0.75"/>
<ellipse cx="315.97" cy="926.84" rx="6.486487817536723" ry="3.2" fill="#c3d7ea" opacity="0.75"/>
<ellipse cx="281.09" cy="757.61" rx="7.768472353100174" ry="3.2" fill="#c3d7ea" opacity="0.75"/>
<ellipse cx="270.63" cy="850.56" rx="6.290184398625954" ry="3.2" fill="#c3d7ea" opacity="0.75"/>
<ellipse cx="225.32" cy="879.08" rx="6.9625550338130795" ry="3.2" fill="#c3d7ea" opacity="0.75"/>
<ellipse cx="229.97" cy="869.04" rx="6.292483067890697" ry="3.2" fill="#c3d7ea" opacity="0.75"/>
<ellipse cx="340.93" cy="919.87" rx="8.677888581239582" ry="3.2" fill="#c3d7ea" opacity="0.75"/>
<ellipse cx="287.64" cy="784.54" rx="9.13574406869262" ry="3.2" fill="#c3d7ea" opacity="0.75"/>
<ellipse cx="255.74" cy="899.14" rx="9.588105731515068" ry="3.2" fill="#c3d7ea" opacity="0.75"/>
<ellipse cx="288.58" cy="873.13" rx="6.6177864950747685" ry="3.2" fill="#c3d7ea" opacity="0.75"/>
<ellipse cx="338.55" cy="871.31" rx="8.864479531152785" ry="3.2" fill="#c3d7ea" opacity="0.75"/>
<ellipse cx="218.05" cy="837.97" rx="8.641026060765483" ry="3.2" fill="#c3d7ea" opacity="0.75"/>
<ellipse cx="297.79" cy="768.42" rx="6.571915991696949" ry="3.2" fill="#c3d7ea" opacity="0.75"/>
<ellipse cx="248.13" cy="895.94" rx="9.531331334628302" ry="3.2" fill="#c3d7ea" opacity="0.75"/>
<ellipse cx="256.68" cy="759.64" rx="9.870179130665536" ry="3.2" fill="#c3d7ea" opacity="0.75"/>
<ellipse cx="232.17" cy="905.51" rx="6.878351323207679" ry="3.2" fill="#c3d7ea" opacity="0.75"/>
<ellipse cx="239.04" cy="914.65" rx="9.810016515675946" ry="3.2" fill="#c3d7ea" opacity="0.75"/>
<ellipse cx="243.07" cy="888.20" rx="7.593027498869088" ry="3.2" fill="#c3d7ea" opacity="0.75"/>
<ellipse cx="220.19" cy="875.49" rx="7.949043099963521" ry="3.2" fill="#c3d7ea" opacity="0.75"/>
<ellipse cx="247.21" cy="938.42" rx="9.959485818977146" ry="3.2" fill="#c3d7ea" opacity="0.75"/>
<ellipse cx="327.50" cy="894.83" rx="9.32977867793179" ry="3.2" fill="#c3d7ea" opacity="0.75"/>
<ellipse cx="344.28" cy="848.11" rx="6.645864239523517" ry="3.2" fill="#c3d7ea" opacity="0.75"/>
<ellipse cx="340.34" cy="889.65" rx="7.726087271990556" ry="3.2" fill="#c3d7ea" opacity="0.75"/>
<ellipse cx="229.87" cy="850.54" rx="8.062420231217436" ry="3.2" fill="#c3d7ea" opacity="0.75"/>
<ellipse cx="275.58" cy="846.04" rx="7.356464577355279" ry="3.2" fill="#c3d7ea" opacity="0.75"/>
<ellipse cx="247.77" cy="954.39" rx="6.782978664535724" ry="3.2" fill="#c3d7ea" opacity="0.75"/>
<ellipse cx="259.73" cy="857.64" rx="7.274102273350776" ry="3.2" fill="#c3d7ea" opacity="0.75"/>
<ellipse cx="303.73" cy="864.32" rx="8.888603340564742" ry="3.2" fill="#c3d7ea" opacity="0.75"/>
<ellipse cx="298.87" cy="820.09" rx="6.077931712209573" ry="3.2" fill="#c3d7ea" opacity="0.75"/>
<ellipse cx="332.37" cy="821.55" rx="8.216200991233311" ry="3.2" fill="#c3d7ea" opacity="0.75"/>
<ellipse cx="318.44" cy="882.69" rx="7.761832407210808" ry="3.2" fill="#c3d7ea" opacity="0.75"/>
<ellipse cx="263.14" cy="871.97" rx="6.07232792330815" ry="3.2" fill="#c3d7ea" opacity="0.75"/>
<ellipse cx="217.68" cy="897.50" rx="7.3259915565679625" ry="3.2" fill="#c3d7ea" opacity="0.75"/>
<ellipse cx="269.51" cy="974.08" rx="8.495708295567455" ry="3.2" fill="#c3d7ea" opacity="0.75"/>
<ellipse cx="216.35" cy="900.59" rx="8.049049137853823" ry="3.2" fill="#c3d7ea" opacity="0.75"/>
<ellipse cx="282.66" cy="737.65" rx="6.2571631703630075" ry="3.2" fill="#c3d7ea" opacity="0.75"/>
<ellipse cx="212.64" cy="818.03" rx="9.940332976536396" ry="3.2" fill="#c3d7ea" opacity="0.75"/>
<ellipse cx="260.68" cy="834.29" rx="9.153452224390323" ry="3.2" fill="#c3d7ea" opacity="0.75"/>
<ellipse cx="291.65" cy="870.94" rx="9.886783834588297" ry="3.2" fill="#c3d7ea" opacity="0.75"/>
<ellipse cx="325.44" cy="795.71" rx="6.419118377091326" ry="3.2" fill="#c3d7ea" opacity="0.75"/>
<ellipse cx="274.95" cy="892.76" rx="7.062257089374079" ry="3.2" fill="#c3d7ea" opacity="0.75"/>
<ellipse cx="223.15" cy="888.16" rx="6.158352759656271" ry="3.2" fill="#c3d7ea" opacity="0.75"/>
<ellipse cx="274.71" cy="808.42" rx="9.11598972027157" ry="3.2" fill="#c3d7ea" opacity="0.75"/>
<ellipse cx="212.31" cy="808.60" rx="7.081784390085236" ry="3.2" fill="#c3d7ea" opacity="0.75"/>
<ellipse cx="258.70" cy="838.47" rx="6.518222237222709" ry="3.2" fill="#c3d7ea" opacity="0.75"/>
<ellipse cx="313.00" cy="904.79" rx="7.689016725110644" ry="3.2" fill="#c3d7ea" opacity="0.75"/>
<ellipse cx="327.41" cy="840.01" rx="9.645655264734437" ry="3.2" fill="#c3d7ea" opacity="0.75"/>
<ellipse cx="280.16" cy="771.13" rx="9.275915919125126" ry="3.2" fill="#c3d7ea" opacity="0.75"/>
<ellipse cx="314.89" cy="861.17" rx="7.034436059175366" ry="3.2" fill="#c3d7ea" opacity="0.75"/>
<ellipse cx="254.31" cy="903.64" rx="6.597471789616312" ry="3.2" fill="#c3d7ea" opacity="0.75"/>
<ellipse cx="319.57" cy="804.99" rx="9.676686034047085" ry="3.2" fill="#c3d7ea" opacity="0.75"/>
<ellipse cx="319.19" cy="908.58" rx="8.282379701573015" ry="3.2" fill="#c3d7ea" opacity="0.75"/>
<ellipse cx="257.85" cy="929.93" rx="8.801669786186471" ry="3.2" fill="#c3d7ea" opacity="0.75"/>
<ellipse cx="317.38" cy="870.40" rx="6.357848831387231" ry="3.2" fill="#c3d7ea" opacity="0.75"/>
<ellipse cx="304.01" cy="781.49" rx="6.230106049763785" ry="3.2" fill="#c3d7ea" opacity="0.75"/>
<ellipse cx="319.91" cy="832.82" rx="8.752822285394192" ry="3.2" fill="#c3d7ea" opacity="0.75"/>
<ellipse cx="339.96" cy="876.45" rx="7.70126816318289" ry="3.2" fill="#c3d7ea" opacity="0.75"/>
<ellipse cx="223.14" cy="871.83" rx="6.2896563788927615" ry="3.2" fill="#c3d7ea" opacity="0.75"/>
<ellipse cx="237.14" cy="836.86" rx="9.75339883616065" ry="3.2" fill="#c3d7ea" opacity="0.75"/>
<ellipse cx="324.27" cy="871.25" rx="8.537758025186239" ry="3.2" fill="#c3d7ea" opacity="0.75"/>
<ellipse cx="256.27" cy="824.11" rx="9.206514366285559" ry="3.2" fill="#c3d7ea" opacity="0.75"/>
<ellipse cx="225.57" cy="886.97" rx="6.334970104938073" ry="3.2" fill="#c3d7ea" opacity="0.75"/>
<ellipse cx="311.90" cy="870.03" rx="9.424914545488596" ry="3.2" fill="#c3d7ea" opacity="0.75"/>
<ellipse cx="268.59" cy="846.28" rx="6.266490139497845" ry="3.2" fill="#c3d7ea" opacity="0.75"/>
<ellipse cx="318.85" cy="792.63" rx="9.451099876215384" ry="3.2" fill="#c3d7ea" opacity="0.75"/>
<ellipse cx="272.59" cy="829.61" rx="7.815094083891699" ry="3.2" fill="#c3d7ea" opacity="0.75"/>
<ellipse cx="308.43" cy="899.67" rx="7.356607109138545" ry="3.2" fill="#c3d7ea" opacity="0.75"/>
<ellipse cx="212.92" cy="858.19" rx="8.21225647383214" ry="3.2" fill="#c3d7ea" opacity="0.75"/>
<ellipse cx="319.62" cy="927.49" rx="9.70667713628491" ry="3.2" fill="#c3d7ea" opacity="0.75"/>
<ellipse cx="343.43" cy="850.61" rx="7.071438986709817" ry="3.2" fill="#c3d7ea" opacity="0.75"/>
<ellipse cx="230.51" cy="862.61" rx="6.5168991995813155" ry="3.2" fill="#c3d7ea" opacity="0.75"/>
<ellipse cx="211.10" cy="809.10" rx="8.107660106108687" ry="3.2" fill="#c3d7ea" opacity="0.75"/>
<ellipse cx="223.23" cy="844.45" rx="6.953744677845416" ry="3.2" fill="#c3d7ea" opacity="0.75"/>
<ellipse cx="268.57" cy="808.57" rx="6.437805860317136" ry="3.2" fill="#c3d7ea" opacity="0.75"/>
<ellipse cx="212.98" cy="901.04" rx="6.645796366390446" ry="3.2" fill="#c3d7ea" opacity="0.75"/>
<ellipse cx="242.10" cy="849.39" rx="6.20151886883813" ry="3.2" fill="#c3d7ea" opacity="0.75"/>
<ellipse cx="283.71" cy="819.93" rx="6.807072995074" ry="3.2" fill="#c3d7ea" opacity="0.75"/>
<ellipse cx="333.80" cy="884.14" rx="7.247969616313908" ry="3.2" fill="#c3d7ea" opacity="0.75"/>
<ellipse cx="299.89" cy="790.13" rx="7.2200215915169075" ry="3.2" fill="#c3d7ea" opacity="0.75"/>
<ellipse cx="266.77" cy="734.75" rx="9.037993019994245" ry="3.2" fill="#c3d7ea" opacity="0.75"/>
<ellipse cx="227.06" cy="929.36" rx="7.159843338897433" ry="3.2" fill="#c3d7ea" opacity="0.75"/>
<ellipse cx="211.71" cy="871.27" rx="8.000354399447357" ry="3.2" fill="#c3d7ea" opacity="0.75"/>
<ellipse cx="292.51" cy="831.33" rx="6.711599536851715" ry="3.2" fill="#c3d7ea" opacity="0.75"/>
<ellipse cx="232.76" cy="873.25" rx="7.388004088511435" ry="3.2" fill="#c3d7ea" opacity="0.75"/>
<ellipse cx="225.63" cy="942.71" rx="6.072652429178326" ry="3.2" fill="#c3d7ea" opacity="0.75"/>
<ellipse cx="280.15" cy="859.78" rx="7.001795024780909" ry="3.2" fill="#c3d7ea" opacity="0.75"/>
<ellipse cx="330.13" cy="900.30" rx="6.061384469820078" ry="3.2" fill="#c3d7ea" opacity="0.75"/>
<ellipse cx="247.08" cy="790.44" rx="8.932321533729255" ry="3.2" fill="#c3d7ea" opacity="0.75"/>
<ellipse cx="271.09" cy="932.07" rx="8.204196512045014" ry="3.2" fill="#c3d7ea" opacity="0.75"/>
<ellipse cx="268.51" cy="717.50" rx="6.7578259859751135" ry="3.2" fill="#c3d7ea" opacity="0.75"/>
<ellipse cx="310.74" cy="715.60" rx="7.899042554070935" ry="3.2" fill="#c3d7ea" opacity="0.75"/>
<ellipse cx="255.95" cy="738.46" rx="9.738571359129416" ry="3.2" fill="#c3d7ea" opacity="0.75"/>
<ellipse cx="260.52" cy="1007.07" rx="6.425125380108366" ry="3.2" fill="#c3d7ea" opacity="0.75"/>
<ellipse cx="334.71" cy="1012.78" rx="9.275680561366855" ry="3.2" fill="#c3d7ea" opacity="0.75"/>
<ellipse cx="394.07" cy="972.77" rx="7.7287103431376645" ry="3.2" fill="#c3d7ea" opacity="0.75"/>
<ellipse cx="366.68" cy="955.63" rx="7.980006293830462" ry="3.2" fill="#c3d7ea" opacity="0.75"/>
<ellipse cx="446.58" cy="828.00" rx="9.338455733320892" ry="3.2" fill="#c3d7ea" opacity="0.75"/>
<ellipse cx="437.45" cy="829.90" rx="7.572344302246344" ry="3.2" fill="#c3d7ea" opacity="0.75"/>
<ellipse cx="426.03" cy="917.53" rx="8.026743808620662" ry="3.2" fill="#c3d7ea" opacity="0.75"/>
<ellipse cx="389.51" cy="938.49" rx="8.750966942762766" ry="3.2" fill="#c3d7ea" opacity="0.75"/>
<ellipse cx="341.24" cy="899.16" rx="10.644220852701997" ry="3.2" fill="#c9dbec" opacity="0.7"/>
<ellipse cx="216.18" cy="829.21" rx="11.184941691525973" ry="3.2" fill="#c9dbec" opacity="0.7"/>
<ellipse cx="197.57" cy="850.60" rx="9.15370353919441" ry="3.2" fill="#c9dbec" opacity="0.7"/>
<ellipse cx="203.67" cy="845.09" rx="11.352689106238742" ry="3.2" fill="#c9dbec" opacity="0.7"/>
<ellipse cx="294.96" cy="885.28" rx="10.463427584359739" ry="3.2" fill="#c9dbec" opacity="0.7"/>
<ellipse cx="202.16" cy="911.64" rx="9.229123041168702" ry="3.2" fill="#c9dbec" opacity="0.7"/>
<ellipse cx="234.51" cy="776.51" rx="8.617669472263994" ry="3.2" fill="#c9dbec" opacity="0.7"/>
<ellipse cx="200.56" cy="837.70" rx="8.782919585069935" ry="3.2" fill="#c9dbec" opacity="0.7"/>
<ellipse cx="195.61" cy="884.42" rx="8.394644361092299" ry="3.2" fill="#c9dbec" opacity="0.7"/>
<ellipse cx="292.80" cy="887.96" rx="7.454258481568422" ry="3.2" fill="#c9dbec" opacity="0.7"/>
<ellipse cx="316.70" cy="938.56" rx="7.208334788455764" ry="3.2" fill="#c9dbec" opacity="0.7"/>
<ellipse cx="198.79" cy="883.51" rx="7.4224135572308025" ry="3.2" fill="#c9dbec" opacity="0.7"/>
<ellipse cx="337.56" cy="840.01" rx="10.287718366563364" ry="3.2" fill="#c9dbec" opacity="0.7"/>
<ellipse cx="301.70" cy="815.43" rx="10.82155672930683" ry="3.2" fill="#c9dbec" opacity="0.7"/>
<ellipse cx="302.40" cy="868.81" rx="10.620778866809129" ry="3.2" fill="#c9dbec" opacity="0.7"/>
<ellipse cx="290.90" cy="958.38" rx="11.459711779392556" ry="3.2" fill="#c9dbec" opacity="0.7"/>
<ellipse cx="288.54" cy="821.67" rx="7.696538050096022" ry="3.2" fill="#c9dbec" opacity="0.7"/>
<ellipse cx="273.17" cy="867.65" rx="11.132045607509902" ry="3.2" fill="#c9dbec" opacity="0.7"/>
<ellipse cx="282.12" cy="790.17" rx="11.780388537545731" ry="3.2" fill="#c9dbec" opacity="0.7"/>
<ellipse cx="290.85" cy="900.88" rx="7.665465989601607" ry="3.2" fill="#c9dbec" opacity="0.7"/>
<ellipse cx="248.98" cy="922.79" rx="9.792636232479673" ry="3.2" fill="#c9dbec" opacity="0.7"/>
<ellipse cx="288.61" cy="842.99" rx="8.2227983955031" ry="3.2" fill="#c9dbec" opacity="0.7"/>
<ellipse cx="234.60" cy="871.41" rx="10.74132685111853" ry="3.2" fill="#c9dbec" opacity="0.7"/>
<ellipse cx="270.09" cy="861.03" rx="9.62995075680503" ry="3.2" fill="#c9dbec" opacity="0.7"/>
<ellipse cx="306.11" cy="870.07" rx="11.23066814488017" ry="3.2" fill="#c9dbec" opacity="0.7"/>
<ellipse cx="230.29" cy="847.68" rx="10.69914295710371" ry="3.2" fill="#c9dbec" opacity="0.7"/>
<ellipse cx="340.25" cy="868.84" rx="7.383699367903551" ry="3.2" fill="#c9dbec" opacity="0.7"/>
<ellipse cx="330.56" cy="884.85" rx="10.08487007889125" ry="3.2" fill="#c9dbec" opacity="0.7"/>
<ellipse cx="290.83" cy="901.48" rx="8.658864701313536" ry="3.2" fill="#c9dbec" opacity="0.7"/>
<ellipse cx="292.14" cy="829.79" rx="9.83880848934654" ry="3.2" fill="#c9dbec" opacity="0.7"/>
<ellipse cx="197.30" cy="928.93" rx="11.862545045912324" ry="3.2" fill="#c9dbec" opacity="0.7"/>
<ellipse cx="210.22" cy="907.15" rx="8.454282392146846" ry="3.2" fill="#c9dbec" opacity="0.7"/>
<ellipse cx="272.10" cy="872.90" rx="10.835848797801988" ry="3.2" fill="#c9dbec" opacity="0.7"/>
<ellipse cx="342.85" cy="861.19" rx="11.890628683785135" ry="3.2" fill="#c9dbec" opacity="0.7"/>
<ellipse cx="334.39" cy="934.91" rx="7.382321209456685" ry="3.2" fill="#c9dbec" opacity="0.7"/>
<ellipse cx="270.63" cy="799.41" rx="8.93424173481156" ry="3.2" fill="#c9dbec" opacity="0.7"/>
<ellipse cx="331.46" cy="833.88" rx="9.90736183860537" ry="3.2" fill="#c9dbec" opacity="0.7"/>
<ellipse cx="216.48" cy="864.66" rx="7.66302536440513" ry="3.2" fill="#c9dbec" opacity="0.7"/>
<ellipse cx="317.17" cy="867.31" rx="10.516685193970371" ry="3.2" fill="#c9dbec" opacity="0.7"/>
<ellipse cx="229.79" cy="812.84" rx="8.970402599306196" ry="3.2" fill="#c9dbec" opacity="0.7"/>
<ellipse cx="219.06" cy="778.85" rx="9.253801502489274" ry="3.2" fill="#c9dbec" opacity="0.7"/>
<ellipse cx="240.26" cy="917.83" rx="8.880530726763533" ry="3.2" fill="#c9dbec" opacity="0.7"/>
<ellipse cx="213.39" cy="891.39" rx="10.753670205856585" ry="3.2" fill="#c9dbec" opacity="0.7"/>
<ellipse cx="319.97" cy="898.11" rx="10.565117828984619" ry="3.2" fill="#c9dbec" opacity="0.7"/>
<ellipse cx="329.24" cy="897.15" rx="7.32488675389064" ry="3.2" fill="#c9dbec" opacity="0.7"/>
<ellipse cx="253.35" cy="838.68" rx="8.803546619617025" ry="3.2" fill="#c9dbec" opacity="0.7"/>
<ellipse cx="258.97" cy="885.82" rx="8.403188522968808" ry="3.2" fill="#c9dbec" opacity="0.7"/>
<ellipse cx="203.11" cy="835.91" rx="11.677949441556423" ry="3.2" fill="#c9dbec" opacity="0.7"/>
<ellipse cx="232.45" cy="914.41" rx="8.578006863215903" ry="3.2" fill="#c9dbec" opacity="0.7"/>
<ellipse cx="310.19" cy="828.46" rx="11.421332777627233" ry="3.2" fill="#c9dbec" opacity="0.7"/>
<ellipse cx="315.94" cy="842.07" rx="9.746140740939818" ry="3.2" fill="#c9dbec" opacity="0.7"/>
<ellipse cx="302.23" cy="957.26" rx="9.054430076884493" ry="3.2" fill="#c9dbec" opacity="0.7"/>
<ellipse cx="286.70" cy="918.12" rx="9.42787540141407" ry="3.2" fill="#c9dbec" opacity="0.7"/>
<ellipse cx="330.77" cy="864.03" rx="9.360920437234142" ry="3.2" fill="#c9dbec" opacity="0.7"/>
<ellipse cx="246.45" cy="908.07" rx="10.69372639716775" ry="3.2" fill="#c9dbec" opacity="0.7"/>
</g>
<ellipse cx="194.31" cy="869.90" rx="5" ry="3.5" fill="#8fbfe0" filter="url(#fd3)"/>
<path d="M337 832 Q356 824 380 836 Q430 856 488 864 L500 868 L488 872 Q430 878 380 898 Q356 912 337 906 Z" fill="#9cc3e2" filter="url(#fd2)" opacity="0.95"/>
<path d="M342 844 Q362 836 390 848 Q430 860 480 866 L480 871 Q430 876 390 888 Q362 902 342 894 Z" fill="#3f86c2" filter="url(#fd2)"/>
<path d="M356 856 Q375 851 395 856 Q430 862 465 866 L465 871 Q430 874 395 880 Q375 887 356 881 Z" fill="#0c4f94" filter="url(#fd3)"/>
<ellipse cx="375.00" cy="868.50" rx="16" ry="8" fill="#083f7e" filter="url(#fd3)"/>
<rect x="252.61" y="956.47" width="1.80" height="1.80" fill="#4b3aa8"/>
<rect x="214.86" y="842.96" width="1.80" height="1.80" fill="#4b3aa8"/>
<rect x="258.34" y="984.14" width="1.80" height="1.80" fill="#4b3aa8"/>
<rect x="237.66" y="939.29" width="1.80" height="1.80" fill="#4b3aa8"/>
<rect x="217.82" y="913.26" width="1.80" height="1.80" fill="#4b3aa8"/>
<rect x="216.35" y="861.92" width="1.80" height="1.80" fill="#4b3aa8"/>
<rect x="294.63" y="856.39" width="1.80" height="1.80" fill="#4b3aa8"/>
<rect x="287.30" y="879.24" width="1.80" height="1.80" fill="#4b3aa8"/>
<rect x="214.63" y="824.35" width="1.80" height="1.80" fill="#4b3aa8"/>
<rect x="265.66" y="854.13" width="1.80" height="1.80" fill="#4b3aa8"/>
<rect x="250.50" y="820.26" width="1.80" height="1.80" fill="#4b3aa8"/>
<rect x="222.37" y="860.37" width="1.80" height="1.80" fill="#4b3aa8"/>
<rect x="259.26" y="859.63" width="1.80" height="1.80" fill="#4b3aa8"/>
<rect x="285.56" y="840.36" width="1.80" height="1.80" fill="#4b3aa8"/>
<rect x="301.45" y="878.97" width="1.80" height="1.80" fill="#4b3aa8"/>
<rect x="272.03" y="760.50" width="1.80" height="1.80" fill="#4b3aa8"/>
<rect x="249.31" y="780.73" width="1.80" height="1.80" fill="#4b3aa8"/>
<rect x="315.07" y="925.94" width="1.80" height="1.80" fill="#4b3aa8"/>
<rect x="280.19" y="756.71" width="1.80" height="1.80" fill="#4b3aa8"/>
<rect x="269.73" y="849.66" width="1.80" height="1.80" fill="#4b3aa8"/>
<rect x="224.42" y="878.18" width="1.80" height="1.80" fill="#4b3aa8"/>
<rect x="229.07" y="868.14" width="1.80" height="1.80" fill="#4b3aa8"/>
<rect x="340.03" y="918.97" width="1.80" height="1.80" fill="#4b3aa8"/>
<rect x="286.74" y="783.64" width="1.80" height="1.80" fill="#4b3aa8"/>
<rect x="254.84" y="898.24" width="1.80" height="1.80" fill="#4b3aa8"/>
<rect x="287.68" y="872.23" width="1.80" height="1.80" fill="#4b3aa8"/>
<rect x="337.65" y="870.41" width="1.80" height="1.80" fill="#4b3aa8"/>
<rect x="217.15" y="837.07" width="1.80" height="1.80" fill="#4b3aa8"/>
<rect x="296.89" y="767.52" width="1.80" height="1.80" fill="#4b3aa8"/>
<rect x="247.23" y="895.04" width="1.80" height="1.80" fill="#4b3aa8"/>
<rect x="255.78" y="758.74" width="1.80" height="1.80" fill="#4b3aa8"/>
<rect x="231.27" y="904.61" width="1.80" height="1.80" fill="#4b3aa8"/>
<rect x="238.14" y="913.75" width="1.80" height="1.80" fill="#4b3aa8"/>
<rect x="242.17" y="887.30" width="1.80" height="1.80" fill="#4b3aa8"/>
<rect x="219.29" y="874.59" width="1.80" height="1.80" fill="#4b3aa8"/>
<rect x="246.31" y="937.52" width="1.80" height="1.80" fill="#4b3aa8"/>
<rect x="326.60" y="893.93" width="1.80" height="1.80" fill="#4b3aa8"/>
<rect x="343.38" y="847.21" width="1.80" height="1.80" fill="#4b3aa8"/>
<rect x="339.44" y="888.75" width="1.80" height="1.80" fill="#4b3aa8"/>
<rect x="228.97" y="849.64" width="1.80" height="1.80" fill="#4b3aa8"/>
<rect x="274.68" y="845.14" width="1.80" height="1.80" fill="#4b3aa8"/>
<rect x="246.87" y="953.49" width="1.80" height="1.80" fill="#4b3aa8"/>
<rect x="258.83" y="856.74" width="1.80" height="1.80" fill="#4b3aa8"/>
<rect x="302.83" y="863.42" width="1.80" height="1.80" fill="#4b3aa8"/>
<rect x="297.97" y="819.19" width="1.80" height="1.80" fill="#4b3aa8"/>
<rect x="331.47" y="820.65" width="1.80" height="1.80" fill="#4b3aa8"/>
<rect x="317.54" y="881.79" width="1.80" height="1.80" fill="#4b3aa8"/>
<rect x="262.24" y="871.07" width="1.80" height="1.80" fill="#4b3aa8"/>
<rect x="216.78" y="896.60" width="1.80" height="1.80" fill="#4b3aa8"/>
<rect x="268.61" y="973.18" width="1.80" height="1.80" fill="#4b3aa8"/>
<rect x="215.45" y="899.69" width="1.80" height="1.80" fill="#4b3aa8"/>
<rect x="281.76" y="736.75" width="1.80" height="1.80" fill="#4b3aa8"/>
<rect x="211.74" y="817.13" width="1.80" height="1.80" fill="#4b3aa8"/>
<rect x="259.78" y="833.39" width="1.80" height="1.80" fill="#4b3aa8"/>
<rect x="290.75" y="870.04" width="1.80" height="1.80" fill="#4b3aa8"/>
<rect x="324.54" y="794.81" width="1.80" height="1.80" fill="#4b3aa8"/>
<rect x="274.05" y="891.86" width="1.80" height="1.80" fill="#4b3aa8"/>
<rect x="222.25" y="887.26" width="1.80" height="1.80" fill="#4b3aa8"/>
<rect x="273.81" y="807.52" width="1.80" height="1.80" fill="#4b3aa8"/>
<rect x="211.41" y="807.70" width="1.80" height="1.80" fill="#4b3aa8"/>
<rect x="257.80" y="837.57" width="1.80" height="1.80" fill="#4b3aa8"/>
<rect x="312.10" y="903.89" width="1.80" height="1.80" fill="#4b3aa8"/>
<rect x="326.51" y="839.11" width="1.80" height="1.80" fill="#4b3aa8"/>
<rect x="279.26" y="770.23" width="1.80" height="1.80" fill="#4b3aa8"/>
<rect x="313.99" y="860.27" width="1.80" height="1.80" fill="#4b3aa8"/>
<rect x="253.41" y="902.74" width="1.80" height="1.80" fill="#4b3aa8"/>
<rect x="318.67" y="804.09" width="1.80" height="1.80" fill="#4b3aa8"/>
<rect x="318.29" y="907.68" width="1.80" height="1.80" fill="#4b3aa8"/>
<rect x="256.95" y="929.03" width="1.80" height="1.80" fill="#4b3aa8"/>
<rect x="316.48" y="869.50" width="1.80" height="1.80" fill="#4b3aa8"/>
<rect x="303.11" y="780.59" width="1.80" height="1.80" fill="#4b3aa8"/>
<rect x="319.01" y="831.92" width="1.80" height="1.80" fill="#4b3aa8"/>
<rect x="339.06" y="875.55" width="1.80" height="1.80" fill="#4b3aa8"/>
<rect x="222.24" y="870.93" width="1.80" height="1.80" fill="#4b3aa8"/>
<rect x="236.24" y="835.96" width="1.80" height="1.80" fill="#4b3aa8"/>
<rect x="323.37" y="870.35" width="1.80" height="1.80" fill="#4b3aa8"/>
<rect x="255.37" y="823.21" width="1.80" height="1.80" fill="#4b3aa8"/>
<rect x="224.67" y="886.07" width="1.80" height="1.80" fill="#4b3aa8"/>
<rect x="311.00" y="869.13" width="1.80" height="1.80" fill="#4b3aa8"/>
<rect x="267.69" y="845.38" width="1.80" height="1.80" fill="#4b3aa8"/>
<rect x="317.95" y="791.73" width="1.80" height="1.80" fill="#4b3aa8"/>
<rect x="271.69" y="828.71" width="1.80" height="1.80" fill="#4b3aa8"/>
<rect x="307.53" y="898.77" width="1.80" height="1.80" fill="#4b3aa8"/>
<rect x="212.02" y="857.29" width="1.80" height="1.80" fill="#4b3aa8"/>
<rect x="318.72" y="926.59" width="1.80" height="1.80" fill="#4b3aa8"/>
<rect x="342.53" y="849.71" width="1.80" height="1.80" fill="#4b3aa8"/>
<rect x="229.61" y="861.71" width="1.80" height="1.80" fill="#4b3aa8"/>
<rect x="210.20" y="808.20" width="1.80" height="1.80" fill="#4b3aa8"/>
<rect x="222.33" y="843.55" width="1.80" height="1.80" fill="#4b3aa8"/>
<rect x="267.67" y="807.67" width="1.80" height="1.80" fill="#4b3aa8"/>
<rect x="212.08" y="900.14" width="1.80" height="1.80" fill="#4b3aa8"/>
<rect x="241.20" y="848.49" width="1.80" height="1.80" fill="#4b3aa8"/>
<rect x="282.81" y="819.03" width="1.80" height="1.80" fill="#4b3aa8"/>
<rect x="332.90" y="883.24" width="1.80" height="1.80" fill="#4b3aa8"/>
<rect x="298.99" y="789.23" width="1.80" height="1.80" fill="#4b3aa8"/>
<rect x="265.87" y="733.85" width="1.80" height="1.80" fill="#4b3aa8"/>
<rect x="226.16" y="928.46" width="1.80" height="1.80" fill="#4b3aa8"/>
<rect x="210.81" y="870.37" width="1.80" height="1.80" fill="#4b3aa8"/>
<rect x="291.61" y="830.43" width="1.80" height="1.80" fill="#4b3aa8"/>
<rect x="231.86" y="872.35" width="1.80" height="1.80" fill="#4b3aa8"/>
<rect x="224.73" y="941.81" width="1.80" height="1.80" fill="#4b3aa8"/>
<rect x="279.25" y="858.88" width="1.80" height="1.80" fill="#4b3aa8"/>
<rect x="329.23" y="899.40" width="1.80" height="1.80" fill="#4b3aa8"/>
<rect x="246.18" y="789.54" width="1.80" height="1.80" fill="#4b3aa8"/>
<rect x="270.19" y="931.17" width="1.80" height="1.80" fill="#4b3aa8"/>
<rect x="267.61" y="716.61" width="1.80" height="1.80" fill="#4b3aa8"/>
<rect x="309.84" y="714.70" width="1.80" height="1.80" fill="#4b3aa8"/>
<rect x="255.05" y="737.56" width="1.80" height="1.80" fill="#4b3aa8"/>
<rect x="259.62" y="1006.17" width="1.80" height="1.80" fill="#4b3aa8"/>
<rect x="333.81" y="1011.88" width="1.80" height="1.80" fill="#4b3aa8"/>
<rect x="387.97" y="841.85" width="1.80" height="1.80" fill="#12a81c"/>
<rect x="410.71" y="847.50" width="1.80" height="1.80" fill="#12a81c"/>
<rect x="414.59" y="850.99" width="1.80" height="1.80" fill="#12a81c"/>
<rect x="394.03" y="846.38" width="1.80" height="1.80" fill="#12a81c"/>
<rect x="422.82" y="833.40" width="1.80" height="1.80" fill="#12a81c"/>
<rect x="422.64" y="849.26" width="1.80" height="1.80" fill="#12a81c"/>
<rect x="429.44" y="854.94" width="1.80" height="1.80" fill="#12a81c"/>
<rect x="380.24" y="834.62" width="1.80" height="1.80" fill="#12a81c"/>
<rect x="392.54" y="843.32" width="1.80" height="1.80" fill="#12a81c"/>
<rect x="404.48" y="847.00" width="1.80" height="1.80" fill="#12a81c"/>
<rect x="388.26" y="845.35" width="1.80" height="1.80" fill="#12a81c"/>
<rect x="423.22" y="853.11" width="1.80" height="1.80" fill="#12a81c"/>
<rect x="391.17" y="846.06" width="1.80" height="1.80" fill="#12a81c"/>
<rect x="382.73" y="840.23" width="1.80" height="1.80" fill="#12a81c"/>
<rect x="377.25" y="840.78" width="1.80" height="1.80" fill="#12a81c"/>
<rect x="422.13" y="847.89" width="1.80" height="1.80" fill="#12a81c"/>
<rect x="389.77" y="845.01" width="1.80" height="1.80" fill="#12a81c"/>
<rect x="393.25" y="843.79" width="1.80" height="1.80" fill="#12a81c"/>
<rect x="420.56" y="852.69" width="1.80" height="1.80" fill="#12a81c"/>
<rect x="400.06" y="848.09" width="1.80" height="1.80" fill="#12a81c"/>
<rect x="365.99" y="831.57" width="1.80" height="1.80" fill="#12a81c"/>
<rect x="368.69" y="828.41" width="1.80" height="1.80" fill="#12a81c"/>
<rect x="371.52" y="824.28" width="1.80" height="1.80" fill="#12a81c"/>
<rect x="377.46" y="836.96" width="1.80" height="1.80" fill="#12a81c"/>
<rect x="420.05" y="849.43" width="1.80" height="1.80" fill="#12a81c"/>
<rect x="435.88" y="853.55" width="1.80" height="1.80" fill="#12a81c"/>
<rect x="410.15" y="841.31" width="1.80" height="1.80" fill="#12a81c"/>
<rect x="365.13" y="829.09" width="1.80" height="1.80" fill="#12a81c"/>
<rect x="389.47" y="840.19" width="1.80" height="1.80" fill="#12a81c"/>
<rect x="383.96" y="836.01" width="1.80" height="1.80" fill="#12a81c"/>
<rect x="378.62" y="841.03" width="1.80" height="1.80" fill="#12a81c"/>
<rect x="367.33" y="832.54" width="1.80" height="1.80" fill="#12a81c"/>
<rect x="428.16" y="851.38" width="1.80" height="1.80" fill="#12a81c"/>
<rect x="399.49" y="842.74" width="1.80" height="1.80" fill="#12a81c"/>
<rect x="397.44" y="845.28" width="1.80" height="1.80" fill="#12a81c"/>
<rect x="386.46" y="843.79" width="1.80" height="1.80" fill="#12a81c"/>
<rect x="421.91" y="844.85" width="1.80" height="1.80" fill="#12a81c"/>
<rect x="404.53" y="848.57" width="1.80" height="1.80" fill="#12a81c"/>
<rect x="384.29" y="831.28" width="1.80" height="1.80" fill="#12a81c"/>
<rect x="457.34" y="856.66" width="1.80" height="1.80" fill="#12a81c"/>
<rect x="395.36" y="844.07" width="1.80" height="1.80" fill="#12a81c"/>
<rect x="367.02" y="834.22" width="1.80" height="1.80" fill="#12a81c"/>
<rect x="375.82" y="835.14" width="1.80" height="1.80" fill="#12a81c"/>
<rect x="426.16" y="851.18" width="1.80" height="1.80" fill="#12a81c"/>
<rect x="376.37" y="840.01" width="1.80" height="1.80" fill="#12a81c"/>
<rect x="374.62" y="826.27" width="1.80" height="1.80" fill="#12a81c"/>
<rect x="391.78" y="844.68" width="1.80" height="1.80" fill="#12a81c"/>
<rect x="365.04" y="831.99" width="1.80" height="1.80" fill="#12a81c"/>
<rect x="358.87" y="827.38" width="1.80" height="1.80" fill="#12a81c"/>
<rect x="382.70" y="841.97" width="1.80" height="1.80" fill="#12a81c"/>
<rect x="431.96" y="854.38" width="1.80" height="1.80" fill="#12a81c"/>
<rect x="469.19" y="858.87" width="1.80" height="1.80" fill="#12a81c"/>
<rect x="381.43" y="840.84" width="1.80" height="1.80" fill="#12a81c"/>
<rect x="367.71" y="824.93" width="1.80" height="1.80" fill="#12a81c"/>
<rect x="364.85" y="829.20" width="1.80" height="1.80" fill="#12a81c"/>
<rect x="366.39" y="818.06" width="1.80" height="1.80" fill="#12a81c"/>
<rect x="453.08" y="856.21" width="1.80" height="1.80" fill="#12a81c"/>
<rect x="406.43" y="847.91" width="1.80" height="1.80" fill="#12a81c"/>
<rect x="421.56" y="853.60" width="1.80" height="1.80" fill="#12a81c"/>
<rect x="400.73" y="844.93" width="1.80" height="1.80" fill="#12a81c"/>
<rect x="439.88" y="843.18" width="1.80" height="1.80" fill="#12a81c"/>
<rect x="394.56" y="844.58" width="1.80" height="1.80" fill="#12a81c"/>
<rect x="392.12" y="843.43" width="1.80" height="1.80" fill="#12a81c"/>
<rect x="368.42" y="835.48" width="1.80" height="1.80" fill="#12a81c"/>
<rect x="357.08" y="814.75" width="1.80" height="1.80" fill="#12a81c"/>
<rect x="423.84" y="850.82" width="1.80" height="1.80" fill="#12a81c"/>
<rect x="373.62" y="831.06" width="1.80" height="1.80" fill="#12a81c"/>
<rect x="367.11" y="829.09" width="1.80" height="1.80" fill="#12a81c"/>
<rect x="473.64" y="856.91" width="1.80" height="1.80" fill="#12a81c"/>
<rect x="437.16" y="852.67" width="1.80" height="1.80" fill="#12a81c"/>
<rect x="409.28" y="838.61" width="1.80" height="1.80" fill="#12a81c"/>
<rect x="381.74" y="836.44" width="1.80" height="1.80" fill="#12a81c"/>
<rect x="451.08" y="833.50" width="1.80" height="1.80" fill="#12a81c"/>
<rect x="407.68" y="845.70" width="1.80" height="1.80" fill="#12a81c"/>
<rect x="466.96" y="856.73" width="1.80" height="1.80" fill="#12a81c"/>
<rect x="358.20" y="827.31" width="1.80" height="1.80" fill="#12a81c"/>
<rect x="410.22" y="851.23" width="1.80" height="1.80" fill="#12a81c"/>
<rect x="410.18" y="838.80" width="1.80" height="1.80" fill="#12a81c"/>
<rect x="425.53" y="848.75" width="1.80" height="1.80" fill="#12a81c"/>
<rect x="441.69" y="849.72" width="1.80" height="1.80" fill="#12a81c"/>
<rect x="364.01" y="825.97" width="1.80" height="1.80" fill="#12a81c"/>
<rect x="432.28" y="850.82" width="1.80" height="1.80" fill="#12a81c"/>
<rect x="399.04" y="846.48" width="1.80" height="1.80" fill="#12a81c"/>
<rect x="372.39" y="836.20" width="1.80" height="1.80" fill="#12a81c"/>
<rect x="400.35" y="843.94" width="1.80" height="1.80" fill="#12a81c"/>
<rect x="422.64" y="852.85" width="1.80" height="1.80" fill="#12a81c"/>
<rect x="383.88" y="841.89" width="1.80" height="1.80" fill="#12a81c"/>
<rect x="389.77" y="842.36" width="1.80" height="1.80" fill="#12a81c"/>
<rect x="470.83" y="856.74" width="1.80" height="1.80" fill="#12a81c"/>
<rect x="399.89" y="840.72" width="1.80" height="1.80" fill="#12a81c"/>
<rect x="362.09" y="829.75" width="1.80" height="1.80" fill="#12a81c"/>
<rect x="366.73" y="834.81" width="1.80" height="1.80" fill="#12a81c"/>
<rect x="376.00" y="835.90" width="1.80" height="1.80" fill="#12a81c"/>
<rect x="468.73" y="855.22" width="1.80" height="1.80" fill="#12a81c"/>
<rect x="378.31" y="836.03" width="1.80" height="1.80" fill="#12a81c"/>
<rect x="428.06" y="844.65" width="1.80" height="1.80" fill="#12a81c"/>
<rect x="382.70" y="838.65" width="1.80" height="1.80" fill="#12a81c"/>
<rect x="400.24" y="845.85" width="1.80" height="1.80" fill="#12a81c"/>
<rect x="386.60" y="836.17" width="1.80" height="1.80" fill="#12a81c"/>
<rect x="387.05" y="842.18" width="1.80" height="1.80" fill="#12a81c"/>
<rect x="411.45" y="843.78" width="1.80" height="1.80" fill="#12a81c"/>
<rect x="418.18" y="851.52" width="1.80" height="1.80" fill="#12a81c"/>
<rect x="389.30" y="845.38" width="1.80" height="1.80" fill="#12a81c"/>
<rect x="416.12" y="848.74" width="1.80" height="1.80" fill="#12a81c"/>
<rect x="408.12" y="846.30" width="1.80" height="1.80" fill="#12a81c"/>
<rect x="438.72" y="853.98" width="1.80" height="1.80" fill="#12a81c"/>
<rect x="410.65" y="850.63" width="1.80" height="1.80" fill="#12a81c"/>
<rect x="387.04" y="842.88" width="1.80" height="1.80" fill="#12a81c"/>
<rect x="449.37" y="851.30" width="1.80" height="1.80" fill="#12a81c"/>
<rect x="436.61" y="854.08" width="1.80" height="1.80" fill="#12a81c"/>
<rect x="412.07" y="851.29" width="1.80" height="1.80" fill="#12a81c"/>
<rect x="399.92" y="848.87" width="1.80" height="1.80" fill="#12a81c"/>
<rect x="420.85" y="845.78" width="1.80" height="1.80" fill="#12a81c"/>
<rect x="444.62" y="851.34" width="1.80" height="1.80" fill="#12a81c"/>
<rect x="420.89" y="852.08" width="1.80" height="1.80" fill="#12a81c"/>
<rect x="404.67" y="849.37" width="1.80" height="1.80" fill="#12a81c"/>
<rect x="415.61" y="847.94" width="1.80" height="1.80" fill="#12a81c"/>
<rect x="391.15" y="844.68" width="1.80" height="1.80" fill="#12a81c"/>
<rect x="403.53" y="844.53" width="1.80" height="1.80" fill="#12a81c"/>
<rect x="412.83" y="846.49" width="1.80" height="1.80" fill="#12a81c"/>
<rect x="422.07" y="846.42" width="1.80" height="1.80" fill="#12a81c"/>
<rect x="353.41" y="825.54" width="1.80" height="1.80" fill="#12a81c"/>
<rect x="364.64" y="833.41" width="1.80" height="1.80" fill="#12a81c"/>
<rect x="427.68" y="849.24" width="1.80" height="1.80" fill="#12a81c"/>
<rect x="370.51" y="821.30" width="1.80" height="1.80" fill="#12a81c"/>
<rect x="441.03" y="852.72" width="1.80" height="1.80" fill="#12a81c"/>
<rect x="355.22" y="822.18" width="1.80" height="1.80" fill="#12a81c"/>
<rect x="378.01" y="841.33" width="1.80" height="1.80" fill="#12a81c"/>
<rect x="399.27" y="847.26" width="1.80" height="1.80" fill="#12a81c"/>
<rect x="357.70" y="817.84" width="1.80" height="1.80" fill="#12a81c"/>
<rect x="426.84" y="844.86" width="1.80" height="1.80" fill="#12a81c"/>
<rect x="393.54" y="846.00" width="1.80" height="1.80" fill="#12a81c"/>
<rect x="429.69" y="846.50" width="1.80" height="1.80" fill="#12a81c"/>
<rect x="381.17" y="826.21" width="1.80" height="1.80" fill="#12a81c"/>
<rect x="429.30" y="850.63" width="1.80" height="1.80" fill="#12a81c"/>
<rect x="379.77" y="821.28" width="1.80" height="1.80" fill="#12a81c"/>
<rect x="443.69" y="849.50" width="1.80" height="1.80" fill="#12a81c"/>
<rect x="372.72" y="838.59" width="1.80" height="1.80" fill="#12a81c"/>
<rect x="423.48" y="852.43" width="1.80" height="1.80" fill="#12a81c"/>
<rect x="359.22" y="829.05" width="1.80" height="1.80" fill="#12a81c"/>
<rect x="407.32" y="850.69" width="1.80" height="1.80" fill="#12a81c"/>
<rect x="388.42" y="834.30" width="1.80" height="1.80" fill="#12a81c"/>
<rect x="368.05" y="826.57" width="1.80" height="1.80" fill="#12a81c"/>
<rect x="396.23" y="840.14" width="1.80" height="1.80" fill="#12a81c"/>
<rect x="371.26" y="819.62" width="1.80" height="1.80" fill="#12a81c"/>
<rect x="381.42" y="819.76" width="1.80" height="1.80" fill="#12a81c"/>
<rect x="403.57" y="848.79" width="1.80" height="1.80" fill="#12a81c"/>
<rect x="356.23" y="823.37" width="1.80" height="1.80" fill="#12a81c"/>
<rect x="384.44" y="838.79" width="1.80" height="1.80" fill="#12a81c"/>
<rect x="426.92" y="847.59" width="1.80" height="1.80" fill="#12a81c"/>
<rect x="370.76" y="836.38" width="1.80" height="1.80" fill="#12a81c"/>
<rect x="390.69" y="844.34" width="1.80" height="1.80" fill="#12a81c"/>
<rect x="389.19" y="841.87" width="1.80" height="1.80" fill="#12a81c"/>
<rect x="425.36" y="847.15" width="1.80" height="1.80" fill="#12a81c"/>
<rect x="412.70" y="844.06" width="1.80" height="1.80" fill="#12a81c"/>
<rect x="383.65" y="833.74" width="1.80" height="1.80" fill="#12a81c"/>
<rect x="395.43" y="833.38" width="1.80" height="1.80" fill="#12a81c"/>
<rect x="398.29" y="845.74" width="1.80" height="1.80" fill="#12a81c"/>
<rect x="393.57" y="842.56" width="1.80" height="1.80" fill="#12a81c"/>
<rect x="385.31" y="840.70" width="1.80" height="1.80" fill="#12a81c"/>
<rect x="429.35" y="852.01" width="1.80" height="1.80" fill="#12a81c"/>
<rect x="385.60" y="840.52" width="1.80" height="1.80" fill="#12a81c"/>
<rect x="413.89" y="851.14" width="1.80" height="1.80" fill="#12a81c"/>
<rect x="373.09" y="836.82" width="1.80" height="1.80" fill="#12a81c"/>
<rect x="414.58" y="847.48" width="1.80" height="1.80" fill="#12a81c"/>
<rect x="454.99" y="857.83" width="1.80" height="1.80" fill="#12a81c"/>
<rect x="371.64" y="835.79" width="1.80" height="1.80" fill="#12a81c"/>
<rect x="392.11" y="842.38" width="1.80" height="1.80" fill="#12a81c"/>
<rect x="387.04" y="842.00" width="1.80" height="1.80" fill="#12a81c"/>
<rect x="382.09" y="841.77" width="1.80" height="1.80" fill="#12a81c"/>
<rect x="411.75" y="850.37" width="1.80" height="1.80" fill="#12a81c"/>
<rect x="425.09" y="846.27" width="1.80" height="1.80" fill="#12a81c"/>
<rect x="421.74" y="842.55" width="1.80" height="1.80" fill="#12a81c"/>
<rect x="366.66" y="833.48" width="1.80" height="1.80" fill="#12a81c"/>
<rect x="410.71" y="840.95" width="1.80" height="1.80" fill="#12a81c"/>
<rect x="390.06" y="842.04" width="1.80" height="1.80" fill="#12a81c"/>
<rect x="397.43" y="835.83" width="1.80" height="1.80" fill="#12a81c"/>
<rect x="389.86" y="841.79" width="1.80" height="1.80" fill="#12a81c"/>
<rect x="367.35" y="833.64" width="1.80" height="1.80" fill="#12a81c"/>
<rect x="388.93" y="842.56" width="1.80" height="1.80" fill="#12a81c"/>
<rect x="424.44" y="853.28" width="1.80" height="1.80" fill="#12a81c"/>
<rect x="402.92" y="832.50" width="1.80" height="1.80" fill="#12a81c"/>
<rect x="453.21" y="857.80" width="1.80" height="1.80" fill="#12a81c"/>
<rect x="382.08" y="839.31" width="1.80" height="1.80" fill="#12a81c"/>
<rect x="391.61" y="843.34" width="1.80" height="1.80" fill="#12a81c"/>
<rect x="366.77" y="827.64" width="1.80" height="1.80" fill="#12a81c"/>
<rect x="396.65" y="844.22" width="1.80" height="1.80" fill="#12a81c"/>
<rect x="380.68" y="837.04" width="1.80" height="1.80" fill="#12a81c"/>
<rect x="374.19" y="820.72" width="1.80" height="1.80" fill="#12a81c"/>
<rect x="414.63" y="849.27" width="1.80" height="1.80" fill="#12a81c"/>
<rect x="378.33" y="840.91" width="1.80" height="1.80" fill="#12a81c"/>
<rect x="420.80" y="851.77" width="1.80" height="1.80" fill="#12a81c"/>
<rect x="404.72" y="843.86" width="1.80" height="1.80" fill="#12a81c"/>
<rect x="406.13" y="846.20" width="1.80" height="1.80" fill="#12a81c"/>
<rect x="389.18" y="829.90" width="1.80" height="1.80" fill="#12a81c"/>
<rect x="393.77" y="844.47" width="1.80" height="1.80" fill="#12a81c"/>
<rect x="371.99" y="838.75" width="1.80" height="1.80" fill="#12a81c"/>
<rect x="431.84" y="855.29" width="1.80" height="1.80" fill="#12a81c"/>
<rect x="371.82" y="834.82" width="1.80" height="1.80" fill="#12a81c"/>
<rect x="434.90" y="855.52" width="1.80" height="1.80" fill="#12a81c"/>
<rect x="420.12" y="851.12" width="1.80" height="1.80" fill="#12a81c"/>
<rect x="449.22" y="857.09" width="1.80" height="1.80" fill="#12a81c"/>
<rect x="401.28" y="846.08" width="1.80" height="1.80" fill="#12a81c"/>
<rect x="362.44" y="824.50" width="1.80" height="1.80" fill="#12a81c"/>
<rect x="413.54" y="846.62" width="1.80" height="1.80" fill="#12a81c"/>
<rect x="422.43" y="845.63" width="1.80" height="1.80" fill="#12a81c"/>
<rect x="468.51" y="855.85" width="1.80" height="1.80" fill="#12a81c"/>
<rect x="395.77" y="842.58" width="1.80" height="1.80" fill="#12a81c"/>
<rect x="417.74" y="843.69" width="1.80" height="1.80" fill="#12a81c"/>
<rect x="394.01" y="833.12" width="1.80" height="1.80" fill="#12a81c"/>
<rect x="453.40" y="856.81" width="1.80" height="1.80" fill="#12a81c"/>
<rect x="384.35" y="841.14" width="1.80" height="1.80" fill="#12a81c"/>
<rect x="453.18" y="850.28" width="1.80" height="1.80" fill="#12a81c"/>
<rect x="403.72" y="845.15" width="1.80" height="1.80" fill="#12a81c"/>
<rect x="422.89" y="848.91" width="1.80" height="1.80" fill="#12a81c"/>
<rect x="373.39" y="836.59" width="1.80" height="1.80" fill="#12a81c"/>
<rect x="363.66" y="831.28" width="1.80" height="1.80" fill="#12a81c"/>
<rect x="454.73" y="848.88" width="1.80" height="1.80" fill="#12a81c"/>
<rect x="428.47" y="854.86" width="1.80" height="1.80" fill="#12a81c"/>
<rect x="388.35" y="838.97" width="1.80" height="1.80" fill="#12a81c"/>
<rect x="435.00" y="851.78" width="1.80" height="1.80" fill="#12a81c"/>
<rect x="411.90" y="848.41" width="1.80" height="1.80" fill="#12a81c"/>
<rect x="409.56" y="848.32" width="1.80" height="1.80" fill="#12a81c"/>
<rect x="392.24" y="832.83" width="1.80" height="1.80" fill="#12a81c"/>
<rect x="375.62" y="835.24" width="1.80" height="1.80" fill="#12a81c"/>
<rect x="362.84" y="824.73" width="1.80" height="1.80" fill="#12a81c"/>
<rect x="379.16" y="836.86" width="1.80" height="1.80" fill="#12a81c"/>
<rect x="374.39" y="838.87" width="1.80" height="1.80" fill="#12a81c"/>
<rect x="399.35" y="847.33" width="1.80" height="1.80" fill="#12a81c"/>
<rect x="431.23" y="838.96" width="1.80" height="1.80" fill="#12a81c"/>
<rect x="451.93" y="845.64" width="1.80" height="1.80" fill="#12a81c"/>
<rect x="418.37" y="848.37" width="1.80" height="1.80" fill="#12a81c"/>
<rect x="417.85" y="848.51" width="1.80" height="1.80" fill="#12a81c"/>
<rect x="370.22" y="835.30" width="1.80" height="1.80" fill="#12a81c"/>
<rect x="401.80" y="842.05" width="1.80" height="1.80" fill="#12a81c"/>
<rect x="428.52" y="836.57" width="1.80" height="1.80" fill="#12a81c"/>
<rect x="477.21" y="857.99" width="1.80" height="1.80" fill="#12a81c"/>
<rect x="358.30" y="826.72" width="1.80" height="1.80" fill="#12a81c"/>
<rect x="390.19" y="839.49" width="1.80" height="1.80" fill="#12a81c"/>
<rect x="410.24" y="850.77" width="1.80" height="1.80" fill="#12a81c"/>
<rect x="459.49" y="855.65" width="1.80" height="1.80" fill="#12a81c"/>
<rect x="438.28" y="852.30" width="1.80" height="1.80" fill="#12a81c"/>
<rect x="402.95" y="847.04" width="1.80" height="1.80" fill="#12a81c"/>
<rect x="400.71" y="830.68" width="1.80" height="1.80" fill="#12a81c"/>
<rect x="371.54" y="835.96" width="1.80" height="1.80" fill="#12a81c"/>
<rect x="362.31" y="831.28" width="1.80" height="1.80" fill="#12a81c"/>
<rect x="389.72" y="832.64" width="1.80" height="1.80" fill="#12a81c"/>
<rect x="384.77" y="829.16" width="1.80" height="1.80" fill="#12a81c"/>
<rect x="391.71" y="846.32" width="1.80" height="1.80" fill="#12a81c"/>
<rect x="428.02" y="839.42" width="1.80" height="1.80" fill="#12a81c"/>
<rect x="413.56" y="851.39" width="1.80" height="1.80" fill="#12a81c"/>
<rect x="398.46" y="845.83" width="1.80" height="1.80" fill="#12a81c"/>
<rect x="407.39" y="846.15" width="1.80" height="1.80" fill="#12a81c"/>
<rect x="457.76" y="855.66" width="1.80" height="1.80" fill="#12a81c"/>
<rect x="410.88" y="836.10" width="1.80" height="1.80" fill="#12a81c"/>
<rect x="394.17" y="846.94" width="1.80" height="1.80" fill="#12a81c"/>
<rect x="432.40" y="848.74" width="1.80" height="1.80" fill="#12a81c"/>
<rect x="392.34" y="841.62" width="1.80" height="1.80" fill="#12a81c"/>
<rect x="389.07" y="840.98" width="1.80" height="1.80" fill="#12a81c"/>
<rect x="387.96" y="842.56" width="1.80" height="1.80" fill="#12a81c"/>
<rect x="432.56" y="851.63" width="1.80" height="1.80" fill="#12a81c"/>
<rect x="443.46" y="852.12" width="1.80" height="1.80" fill="#12a81c"/>
<rect x="446.18" y="843.39" width="1.80" height="1.80" fill="#12a81c"/>
<rect x="370.08" y="830.12" width="1.80" height="1.80" fill="#12a81c"/>
<rect x="460.62" y="841.82" width="1.80" height="1.80" fill="#12a81c"/>
<rect x="376.72" y="836.56" width="1.80" height="1.80" fill="#12a81c"/>
<rect x="419.40" y="850.27" width="1.80" height="1.80" fill="#12a81c"/>
<rect x="377.32" y="841.07" width="1.80" height="1.80" fill="#12a81c"/>
<rect x="400.17" y="843.97" width="1.80" height="1.80" fill="#12a81c"/>
<rect x="369.33" y="836.14" width="1.80" height="1.80" fill="#12a81c"/>
<rect x="433.42" y="836.77" width="1.80" height="1.80" fill="#12a81c"/>
<rect x="393.73" y="846.44" width="1.80" height="1.80" fill="#12a81c"/>
<rect x="458.54" y="852.15" width="1.80" height="1.80" fill="#12a81c"/>
<rect x="413.70" y="848.98" width="1.80" height="1.80" fill="#12a81c"/>
<rect x="401.69" y="846.25" width="1.80" height="1.80" fill="#12a81c"/>
<rect x="404.21" y="845.28" width="1.80" height="1.80" fill="#12a81c"/>
<rect x="407.76" y="845.91" width="1.80" height="1.80" fill="#12a81c"/>
<rect x="381.33" y="842.78" width="1.80" height="1.80" fill="#12a81c"/>
<rect x="377.86" y="838.91" width="1.80" height="1.80" fill="#12a81c"/>
<rect x="383.99" y="843.57" width="1.80" height="1.80" fill="#12a81c"/>
<rect x="417.43" y="848.61" width="1.80" height="1.80" fill="#12a81c"/>
<rect x="358.81" y="830.55" width="1.80" height="1.80" fill="#12a81c"/>
<rect x="355.19" y="828.36" width="1.80" height="1.80" fill="#12a81c"/>
<rect x="469.38" y="845.09" width="1.80" height="1.80" fill="#12a81c"/>
<rect x="413.94" y="850.42" width="1.80" height="1.80" fill="#12a81c"/>
<rect x="402.62" y="848.13" width="1.80" height="1.80" fill="#12a81c"/>
<rect x="436.56" y="854.17" width="1.80" height="1.80" fill="#12a81c"/>
<rect x="434.33" y="849.14" width="1.80" height="1.80" fill="#12a81c"/>
<rect x="403.54" y="849.20" width="1.80" height="1.80" fill="#12a81c"/>
<rect x="453.70" y="852.12" width="1.80" height="1.80" fill="#12a81c"/>
<rect x="385.96" y="840.72" width="1.80" height="1.80" fill="#12a81c"/>
<rect x="430.46" y="854.44" width="1.80" height="1.80" fill="#12a81c"/>
<rect x="461.04" y="857.67" width="1.80" height="1.80" fill="#12a81c"/>
<rect x="449.27" y="857.04" width="1.80" height="1.80" fill="#12a81c"/>
<rect x="385.27" y="842.23" width="1.80" height="1.80" fill="#12a81c"/>
<rect x="456.05" y="853.46" width="1.80" height="1.80" fill="#12a81c"/>
<rect x="416.13" y="848.39" width="1.80" height="1.80" fill="#12a81c"/>
<rect x="412.51" y="849.17" width="1.80" height="1.80" fill="#12a81c"/>
<rect x="419.47" y="846.76" width="1.80" height="1.80" fill="#12a81c"/>
<rect x="406.87" y="845.57" width="1.80" height="1.80" fill="#12a81c"/>
<rect x="435.16" y="842.11" width="1.80" height="1.80" fill="#12a81c"/>
<rect x="410.40" y="851.28" width="1.80" height="1.80" fill="#12a81c"/>
<rect x="404.79" y="848.64" width="1.80" height="1.80" fill="#12a81c"/>
<rect x="429.53" y="853.91" width="1.80" height="1.80" fill="#12a81c"/>
<rect x="458.66" y="851.71" width="1.80" height="1.80" fill="#12a81c"/>
<rect x="377.99" y="836.64" width="1.80" height="1.80" fill="#12a81c"/>
<rect x="399.37" y="842.84" width="1.80" height="1.80" fill="#12a81c"/>
<rect x="379.16" y="834.01" width="1.80" height="1.80" fill="#12a81c"/>
<rect x="416.88" y="850.21" width="1.80" height="1.80" fill="#12a81c"/>
<rect x="380.19" y="838.42" width="1.80" height="1.80" fill="#12a81c"/>
<rect x="435.69" y="846.31" width="1.80" height="1.80" fill="#12a81c"/>
<rect x="371.53" y="826.23" width="1.80" height="1.80" fill="#12a81c"/>
<rect x="381.02" y="839.12" width="1.80" height="1.80" fill="#12a81c"/>
<rect x="410.49" y="832.50" width="1.80" height="1.80" fill="#12a81c"/>
<rect x="377.55" y="830.85" width="1.80" height="1.80" fill="#12a81c"/>
<rect x="422.69" y="848.95" width="1.80" height="1.80" fill="#12a81c"/>
<rect x="383.75" y="838.70" width="1.80" height="1.80" fill="#12a81c"/>
<rect x="368.23" y="836.99" width="1.80" height="1.80" fill="#12a81c"/>
<rect x="440.63" y="846.66" width="1.80" height="1.80" fill="#12a81c"/>
<rect x="385.01" y="842.91" width="1.80" height="1.80" fill="#12a81c"/>
<rect x="478.13" y="854.99" width="1.80" height="1.80" fill="#12a81c"/>
<rect x="387.70" y="839.49" width="1.80" height="1.80" fill="#12a81c"/>
<rect x="355.84" y="826.62" width="1.80" height="1.80" fill="#12a81c"/>
<rect x="373.85" y="839.30" width="1.80" height="1.80" fill="#12a81c"/>
<rect x="374.58" y="835.04" width="1.80" height="1.80" fill="#12a81c"/>
<rect x="357.49" y="828.05" width="1.80" height="1.80" fill="#12a81c"/>
<rect x="469.33" y="858.80" width="1.80" height="1.80" fill="#12a81c"/>
<rect x="468.94" y="851.47" width="1.80" height="1.80" fill="#12a81c"/>
<rect x="407.20" y="848.62" width="1.80" height="1.80" fill="#12a81c"/>
<rect x="370.65" y="836.96" width="1.80" height="1.80" fill="#12a81c"/>
<rect x="398.53" y="845.78" width="1.80" height="1.80" fill="#12a81c"/>
<rect x="408.30" y="845.85" width="1.80" height="1.80" fill="#12a81c"/>
<rect x="410.71" y="850.23" width="1.80" height="1.80" fill="#12a81c"/>
<rect x="367.20" y="835.63" width="1.80" height="1.80" fill="#12a81c"/>
<rect x="387.42" y="840.21" width="1.80" height="1.80" fill="#12a81c"/>
<rect x="369.27" y="827.68" width="1.80" height="1.80" fill="#12a81c"/>
<rect x="406.50" y="846.64" width="1.80" height="1.80" fill="#12a81c"/>
<rect x="418.88" y="848.36" width="1.80" height="1.80" fill="#12a81c"/>
<rect x="404.67" y="845.56" width="1.80" height="1.80" fill="#12a81c"/>
<rect x="353.89" y="822.38" width="1.80" height="1.80" fill="#12a81c"/>
<rect x="364.79" y="834.02" width="1.80" height="1.80" fill="#12a81c"/>
<rect x="385.11" y="838.09" width="1.80" height="1.80" fill="#12a81c"/>
<rect x="382.64" y="842.44" width="1.80" height="1.80" fill="#12a81c"/>
<rect x="384.16" y="837.76" width="1.80" height="1.80" fill="#12a81c"/>
<rect x="406.95" y="848.43" width="1.80" height="1.80" fill="#12a81c"/>
<rect x="442.53" y="844.41" width="1.80" height="1.80" fill="#12a81c"/>
<rect x="392.05" y="828.52" width="1.80" height="1.80" fill="#12a81c"/>
<rect x="469.98" y="849.87" width="1.80" height="1.80" fill="#12a81c"/>
<rect x="365.41" y="829.93" width="1.80" height="1.80" fill="#12a81c"/>
<rect x="409.33" y="835.84" width="1.80" height="1.80" fill="#12a81c"/>
<rect x="440.19" y="854.55" width="1.80" height="1.80" fill="#12a81c"/>
<rect x="433.32" y="855.50" width="1.80" height="1.80" fill="#12a81c"/>
<rect x="388.82" y="844.84" width="1.80" height="1.80" fill="#12a81c"/>
<rect x="414.63" y="848.50" width="1.80" height="1.80" fill="#12a81c"/>
<rect x="411.19" y="850.86" width="1.80" height="1.80" fill="#12a81c"/>
<rect x="446.52" y="853.74" width="1.80" height="1.80" fill="#12a81c"/>
<rect x="417.28" y="852.28" width="1.80" height="1.80" fill="#12a81c"/>
<rect x="449.14" y="857.32" width="1.80" height="1.80" fill="#12a81c"/>
<rect x="379.40" y="839.61" width="1.80" height="1.80" fill="#12a81c"/>
<rect x="402.72" y="849.55" width="1.80" height="1.80" fill="#12a81c"/>
<rect x="379.52" y="839.98" width="1.80" height="1.80" fill="#12a81c"/>
<rect x="390.00" y="834.55" width="1.80" height="1.80" fill="#12a81c"/>
<rect x="414.15" y="847.49" width="1.80" height="1.80" fill="#12a81c"/>
<rect x="438.18" y="855.97" width="1.80" height="1.80" fill="#12a81c"/>
<rect x="418.95" y="848.37" width="1.80" height="1.80" fill="#12a81c"/>
<rect x="409.61" y="848.39" width="1.80" height="1.80" fill="#12a81c"/>
<rect x="462.49" y="845.76" width="1.80" height="1.80" fill="#12a81c"/>
<rect x="415.85" y="852.30" width="1.80" height="1.80" fill="#12a81c"/>
<rect x="403.65" y="840.02" width="1.80" height="1.80" fill="#12a81c"/>
<rect x="402.08" y="840.07" width="1.80" height="1.80" fill="#12a81c"/>
<rect x="426.68" y="853.97" width="1.80" height="1.80" fill="#12a81c"/>
<rect x="374.51" y="834.07" width="1.80" height="1.80" fill="#12a81c"/>
<rect x="376.08" y="837.21" width="1.80" height="1.80" fill="#12a81c"/>
<rect x="372.82" y="820.05" width="1.80" height="1.80" fill="#12a81c"/>
<rect x="408.66" y="850.49" width="1.80" height="1.80" fill="#12a81c"/>
<rect x="477.97" y="845.92" width="1.80" height="1.80" fill="#12a81c"/>
<rect x="386.23" y="839.36" width="1.80" height="1.80" fill="#12a81c"/>
<rect x="370.45" y="835.94" width="1.80" height="1.80" fill="#12a81c"/>
<rect x="389.31" y="845.10" width="1.80" height="1.80" fill="#12a81c"/>
<rect x="370.02" y="837.21" width="1.80" height="1.80" fill="#12a81c"/>
<rect x="436.50" y="851.94" width="1.80" height="1.80" fill="#12a81c"/>
<rect x="408.84" y="846.64" width="1.80" height="1.80" fill="#12a81c"/>
<rect x="396.16" y="837.09" width="1.80" height="1.80" fill="#12a81c"/>
<rect x="387.22" y="839.81" width="1.80" height="1.80" fill="#12a81c"/>
<rect x="381.20" y="817.94" width="1.80" height="1.80" fill="#12a81c"/>
<rect x="397.46" y="828.50" width="1.80" height="1.80" fill="#12a81c"/>
<rect x="391.67" y="841.74" width="1.80" height="1.80" fill="#12a81c"/>
<rect x="423.11" y="844.86" width="1.80" height="1.80" fill="#12a81c"/>
<rect x="382.50" y="842.29" width="1.80" height="1.80" fill="#12a81c"/>
<rect x="397.28" y="843.72" width="1.80" height="1.80" fill="#12a81c"/>
<rect x="432.14" y="849.04" width="1.80" height="1.80" fill="#12a81c"/>
<rect x="378.59" y="825.13" width="1.80" height="1.80" fill="#12a81c"/>
<rect x="481.33" y="856.46" width="1.80" height="1.80" fill="#12a81c"/>
<rect x="370.29" y="822.26" width="1.80" height="1.80" fill="#12a81c"/>
<rect x="381.21" y="823.54" width="1.80" height="1.80" fill="#12a81c"/>
<rect x="369.39" y="834.76" width="1.80" height="1.80" fill="#12a81c"/>
<rect x="371.99" y="829.78" width="1.80" height="1.80" fill="#12a81c"/>
<rect x="369.27" y="835.47" width="1.80" height="1.80" fill="#12a81c"/>
<rect x="440.28" y="854.58" width="1.80" height="1.80" fill="#12a81c"/>
<rect x="394.45" y="834.45" width="1.80" height="1.80" fill="#12a81c"/>
<rect x="406.13" y="848.33" width="1.80" height="1.80" fill="#12a81c"/>
<rect x="449.69" y="855.81" width="1.80" height="1.80" fill="#12a81c"/>
<rect x="432.39" y="848.54" width="1.80" height="1.80" fill="#12a81c"/>
<rect x="424.19" y="849.72" width="1.80" height="1.80" fill="#12a81c"/>
<rect x="382.09" y="836.77" width="1.80" height="1.80" fill="#12a81c"/>
<rect x="424.38" y="853.79" width="1.80" height="1.80" fill="#12a81c"/>
<rect x="388.40" y="842.38" width="1.80" height="1.80" fill="#12a81c"/>
<rect x="392.25" y="845.09" width="1.80" height="1.80" fill="#12a81c"/>
<rect x="423.57" y="853.76" width="1.80" height="1.80" fill="#12a81c"/>
<rect x="368.61" y="834.89" width="1.80" height="1.80" fill="#12a81c"/>
<rect x="393.71" y="842.43" width="1.80" height="1.80" fill="#12a81c"/>
<rect x="359.44" y="827.71" width="1.80" height="1.80" fill="#12a81c"/>
<rect x="379.28" y="831.37" width="1.80" height="1.80" fill="#12a81c"/>
<rect x="411.12" y="847.22" width="1.80" height="1.80" fill="#12a81c"/>
<rect x="404.88" y="849.31" width="1.80" height="1.80" fill="#12a81c"/>
<rect x="400.74" y="848.57" width="1.80" height="1.80" fill="#12a81c"/>
<rect x="394.57" y="841.34" width="1.80" height="1.80" fill="#12a81c"/>
<rect x="379.30" y="838.64" width="1.80" height="1.80" fill="#12a81c"/>
<rect x="415.66" y="848.61" width="1.80" height="1.80" fill="#12a81c"/>
<rect x="382.76" y="842.47" width="1.80" height="1.80" fill="#12a81c"/>
<rect x="389.11" y="844.58" width="1.80" height="1.80" fill="#12a81c"/>
<rect x="389.07" y="844.15" width="1.80" height="1.80" fill="#12a81c"/>
<rect x="381.19" y="835.69" width="1.80" height="1.80" fill="#12a81c"/>
<rect x="484.04" y="855.29" width="1.80" height="1.80" fill="#12a81c"/>
<rect x="366.87" y="827.88" width="1.80" height="1.80" fill="#12a81c"/>
<rect x="418.24" y="845.47" width="1.80" height="1.80" fill="#12a81c"/>
<rect x="421.71" y="825.34" width="1.80" height="1.80" fill="#12a81c"/>
<rect x="384.87" y="840.51" width="1.80" height="1.80" fill="#12a81c"/>
<rect x="389.69" y="844.72" width="1.80" height="1.80" fill="#12a81c"/>
<rect x="430.40" y="830.14" width="1.80" height="1.80" fill="#12a81c"/>
<rect x="397.91" y="846.62" width="1.80" height="1.80" fill="#12a81c"/>
<rect x="398.91" y="842.48" width="1.80" height="1.80" fill="#12a81c"/>
<rect x="413.78" y="844.28" width="1.80" height="1.80" fill="#12a81c"/>
<rect x="353.75" y="827.75" width="1.80" height="1.80" fill="#12a81c"/>
<rect x="366.84" y="831.53" width="1.80" height="1.80" fill="#12a81c"/>
<rect x="365.17" y="834.53" width="1.80" height="1.80" fill="#12a81c"/>
<rect x="357.47" y="830.60" width="1.80" height="1.80" fill="#12a81c"/>
<rect x="362.95" y="833.38" width="1.80" height="1.80" fill="#12a81c"/>
<rect x="439.76" y="841.11" width="1.80" height="1.80" fill="#12a81c"/>
<rect x="368.58" y="835.55" width="1.80" height="1.80" fill="#12a81c"/>
<rect x="471.05" y="847.94" width="1.80" height="1.80" fill="#12a81c"/>
<rect x="385.65" y="841.55" width="1.80" height="1.80" fill="#12a81c"/>
<rect x="361.32" y="832.66" width="1.80" height="1.80" fill="#12a81c"/>
<rect x="390.13" y="842.99" width="1.80" height="1.80" fill="#12a81c"/>
<rect x="449.48" y="847.76" width="1.80" height="1.80" fill="#12a81c"/>
<rect x="376.82" y="836.69" width="1.80" height="1.80" fill="#12a81c"/>
<rect x="442.68" y="854.74" width="1.80" height="1.80" fill="#12a81c"/>
<rect x="501.51" y="855.57" width="2.00" height="2.00" fill="#12a81c"/>
<rect x="366.22" y="917.51" width="1.80" height="1.80" fill="#f01890"/>
<rect x="387.94" y="886.72" width="1.80" height="1.80" fill="#f01890"/>
<rect x="413.00" y="881.89" width="1.80" height="1.80" fill="#f01890"/>
<rect x="367.82" y="899.63" width="1.80" height="1.80" fill="#f01890"/>
<rect x="426.37" y="883.88" width="1.80" height="1.80" fill="#f01890"/>
<rect x="378.19" y="914.68" width="1.80" height="1.80" fill="#f01890"/>
<rect x="392.31" y="887.63" width="1.80" height="1.80" fill="#f01890"/>
<rect x="369.29" y="895.73" width="1.80" height="1.80" fill="#f01890"/>
<rect x="377.51" y="893.58" width="1.80" height="1.80" fill="#f01890"/>
<rect x="402.52" y="904.76" width="1.80" height="1.80" fill="#f01890"/>
<rect x="359.48" y="905.92" width="1.80" height="1.80" fill="#f01890"/>
<rect x="406.74" y="884.63" width="1.80" height="1.80" fill="#f01890"/>
<rect x="438.87" y="884.86" width="1.80" height="1.80" fill="#f01890"/>
<rect x="369.46" y="901.83" width="1.80" height="1.80" fill="#f01890"/>
<rect x="443.55" y="898.95" width="1.80" height="1.80" fill="#f01890"/>
<rect x="397.10" y="889.73" width="1.80" height="1.80" fill="#f01890"/>
<rect x="390.02" y="886.63" width="1.80" height="1.80" fill="#f01890"/>
<rect x="412.48" y="888.25" width="1.80" height="1.80" fill="#f01890"/>
<rect x="404.92" y="887.71" width="1.80" height="1.80" fill="#f01890"/>
<rect x="400.77" y="887.88" width="1.80" height="1.80" fill="#f01890"/>
<rect x="388.43" y="890.65" width="1.80" height="1.80" fill="#f01890"/>
<rect x="412.59" y="882.95" width="1.80" height="1.80" fill="#f01890"/>
<rect x="366.96" y="897.48" width="1.80" height="1.80" fill="#f01890"/>
<rect x="358.89" y="901.78" width="1.80" height="1.80" fill="#f01890"/>
<rect x="446.00" y="878.81" width="1.80" height="1.80" fill="#f01890"/>
<rect x="455.52" y="876.86" width="1.80" height="1.80" fill="#f01890"/>
<rect x="358.68" y="902.71" width="1.80" height="1.80" fill="#f01890"/>
<rect x="444.28" y="877.15" width="1.80" height="1.80" fill="#f01890"/>
<rect x="405.11" y="882.43" width="1.80" height="1.80" fill="#f01890"/>
<rect x="431.82" y="876.37" width="1.80" height="1.80" fill="#f01890"/>
<rect x="383.63" y="889.90" width="1.80" height="1.80" fill="#f01890"/>
<rect x="407.88" y="884.55" width="1.80" height="1.80" fill="#f01890"/>
<rect x="393.53" y="891.88" width="1.80" height="1.80" fill="#f01890"/>
<rect x="406.98" y="884.15" width="1.80" height="1.80" fill="#f01890"/>
<rect x="423.90" y="879.91" width="1.80" height="1.80" fill="#f01890"/>
<rect x="408.10" y="882.94" width="1.80" height="1.80" fill="#f01890"/>
<rect x="408.03" y="881.70" width="1.80" height="1.80" fill="#f01890"/>
<rect x="377.88" y="891.95" width="1.80" height="1.80" fill="#f01890"/>
<rect x="372.95" y="894.68" width="1.80" height="1.80" fill="#f01890"/>
<rect x="368.96" y="899.03" width="1.80" height="1.80" fill="#f01890"/>
<rect x="418.29" y="897.48" width="1.80" height="1.80" fill="#f01890"/>
<rect x="375.09" y="894.41" width="1.80" height="1.80" fill="#f01890"/>
<rect x="393.59" y="890.30" width="1.80" height="1.80" fill="#f01890"/>
<rect x="415.12" y="887.67" width="1.80" height="1.80" fill="#f01890"/>
<rect x="405.50" y="883.15" width="1.80" height="1.80" fill="#f01890"/>
<rect x="385.77" y="892.28" width="1.80" height="1.80" fill="#f01890"/>
<rect x="366.36" y="901.94" width="1.80" height="1.80" fill="#f01890"/>
<rect x="377.34" y="906.34" width="1.80" height="1.80" fill="#f01890"/>
<rect x="394.51" y="889.88" width="1.80" height="1.80" fill="#f01890"/>
<rect x="357.95" y="902.49" width="1.80" height="1.80" fill="#f01890"/>
<rect x="454.03" y="876.73" width="1.80" height="1.80" fill="#f01890"/>
<rect x="406.08" y="901.78" width="1.80" height="1.80" fill="#f01890"/>
<rect x="386.80" y="895.10" width="1.80" height="1.80" fill="#f01890"/>
<rect x="441.33" y="877.02" width="1.80" height="1.80" fill="#f01890"/>
<rect x="367.10" y="912.90" width="1.80" height="1.80" fill="#f01890"/>
<rect x="449.68" y="879.65" width="1.80" height="1.80" fill="#f01890"/>
<rect x="371.09" y="895.54" width="1.80" height="1.80" fill="#f01890"/>
<rect x="425.00" y="891.63" width="1.80" height="1.80" fill="#f01890"/>
<rect x="424.17" y="880.21" width="1.80" height="1.80" fill="#f01890"/>
<rect x="396.42" y="885.42" width="1.80" height="1.80" fill="#f01890"/>
<rect x="364.10" y="901.44" width="1.80" height="1.80" fill="#f01890"/>
<rect x="381.25" y="911.07" width="1.80" height="1.80" fill="#f01890"/>
<rect x="367.29" y="896.54" width="1.80" height="1.80" fill="#f01890"/>
<rect x="436.89" y="877.99" width="1.80" height="1.80" fill="#f01890"/>
<rect x="437.60" y="886.38" width="1.80" height="1.80" fill="#f01890"/>
<rect x="418.13" y="900.94" width="1.80" height="1.80" fill="#f01890"/>
<rect x="382.58" y="902.15" width="1.80" height="1.80" fill="#f01890"/>
<rect x="378.19" y="893.96" width="1.80" height="1.80" fill="#f01890"/>
<rect x="370.22" y="897.97" width="1.80" height="1.80" fill="#f01890"/>
<rect x="363.61" y="900.95" width="1.80" height="1.80" fill="#f01890"/>
<rect x="394.22" y="890.61" width="1.80" height="1.80" fill="#f01890"/>
<rect x="431.56" y="878.16" width="1.80" height="1.80" fill="#f01890"/>
<rect x="467.54" y="882.35" width="1.80" height="1.80" fill="#f01890"/>
<rect x="383.77" y="889.18" width="1.80" height="1.80" fill="#f01890"/>
<rect x="416.52" y="886.74" width="1.80" height="1.80" fill="#f01890"/>
<rect x="369.06" y="897.11" width="1.80" height="1.80" fill="#f01890"/>
<rect x="371.32" y="893.87" width="1.80" height="1.80" fill="#f01890"/>
<rect x="377.34" y="898.56" width="1.80" height="1.80" fill="#f01890"/>
<rect x="406.37" y="887.94" width="1.80" height="1.80" fill="#f01890"/>
<rect x="358.87" y="921.28" width="1.80" height="1.80" fill="#f01890"/>
<rect x="372.27" y="898.50" width="1.80" height="1.80" fill="#f01890"/>
<rect x="377.25" y="893.00" width="1.80" height="1.80" fill="#f01890"/>
<rect x="384.48" y="895.07" width="1.80" height="1.80" fill="#f01890"/>
<rect x="397.45" y="884.17" width="1.80" height="1.80" fill="#f01890"/>
<rect x="394.72" y="884.69" width="1.80" height="1.80" fill="#f01890"/>
<rect x="364.88" y="907.72" width="1.80" height="1.80" fill="#f01890"/>
<rect x="368.16" y="896.46" width="1.80" height="1.80" fill="#f01890"/>
<rect x="384.20" y="892.78" width="1.80" height="1.80" fill="#f01890"/>
<rect x="385.48" y="903.31" width="1.80" height="1.80" fill="#f01890"/>
<rect x="383.91" y="903.94" width="1.80" height="1.80" fill="#f01890"/>
<rect x="375.19" y="900.21" width="1.80" height="1.80" fill="#f01890"/>
<rect x="370.52" y="898.59" width="1.80" height="1.80" fill="#f01890"/>
<rect x="366.35" y="899.63" width="1.80" height="1.80" fill="#f01890"/>
<rect x="379.83" y="891.43" width="1.80" height="1.80" fill="#f01890"/>
<rect x="426.57" y="887.31" width="1.80" height="1.80" fill="#f01890"/>
<rect x="373.99" y="892.76" width="1.80" height="1.80" fill="#f01890"/>
<rect x="428.27" y="881.31" width="1.80" height="1.80" fill="#f01890"/>
<rect x="396.25" y="902.65" width="1.80" height="1.80" fill="#f01890"/>
<rect x="376.39" y="899.85" width="1.80" height="1.80" fill="#f01890"/>
<rect x="381.47" y="892.14" width="1.80" height="1.80" fill="#f01890"/>
<rect x="368.34" y="896.15" width="1.80" height="1.80" fill="#f01890"/>
<rect x="433.36" y="880.84" width="1.80" height="1.80" fill="#f01890"/>
<rect x="370.79" y="895.46" width="1.80" height="1.80" fill="#f01890"/>
<rect x="371.78" y="919.16" width="1.80" height="1.80" fill="#f01890"/>
<rect x="410.01" y="891.87" width="1.80" height="1.80" fill="#f01890"/>
<rect x="404.49" y="902.46" width="1.80" height="1.80" fill="#f01890"/>
<rect x="449.37" y="881.88" width="1.80" height="1.80" fill="#f01890"/>
<rect x="390.35" y="893.79" width="1.80" height="1.80" fill="#f01890"/>
<rect x="428.10" y="887.41" width="1.80" height="1.80" fill="#f01890"/>
<rect x="425.50" y="880.58" width="1.80" height="1.80" fill="#f01890"/>
<rect x="392.37" y="884.96" width="1.80" height="1.80" fill="#f01890"/>
<rect x="425.31" y="880.46" width="1.80" height="1.80" fill="#f01890"/>
<rect x="369.75" y="895.67" width="1.80" height="1.80" fill="#f01890"/>
<rect x="379.00" y="898.75" width="1.80" height="1.80" fill="#f01890"/>
<rect x="423.84" y="881.01" width="1.80" height="1.80" fill="#f01890"/>
<rect x="438.45" y="875.59" width="1.80" height="1.80" fill="#f01890"/>
<rect x="364.44" y="899.47" width="1.80" height="1.80" fill="#f01890"/>
<rect x="385.32" y="891.52" width="1.80" height="1.80" fill="#f01890"/>
<rect x="363.31" y="905.31" width="1.80" height="1.80" fill="#f01890"/>
<rect x="381.08" y="897.81" width="1.80" height="1.80" fill="#f01890"/>
<rect x="416.08" y="881.93" width="1.80" height="1.80" fill="#f01890"/>
<rect x="373.95" y="893.48" width="1.80" height="1.80" fill="#f01890"/>
<rect x="364.39" y="902.45" width="1.80" height="1.80" fill="#f01890"/>
<rect x="400.78" y="889.91" width="1.80" height="1.80" fill="#f01890"/>
<rect x="374.75" y="896.00" width="1.80" height="1.80" fill="#f01890"/>
<rect x="403.27" y="893.71" width="1.80" height="1.80" fill="#f01890"/>
<rect x="399.13" y="892.15" width="1.80" height="1.80" fill="#f01890"/>
<rect x="395.67" y="883.82" width="1.80" height="1.80" fill="#f01890"/>
<rect x="363.76" y="901.83" width="1.80" height="1.80" fill="#f01890"/>
<rect x="386.08" y="897.23" width="1.80" height="1.80" fill="#f01890"/>
<rect x="405.38" y="890.34" width="1.80" height="1.80" fill="#f01890"/>
<rect x="419.31" y="884.14" width="1.80" height="1.80" fill="#f01890"/>
<rect x="370.49" y="899.89" width="1.80" height="1.80" fill="#f01890"/>
<rect x="425.12" y="879.90" width="1.80" height="1.80" fill="#f01890"/>
<rect x="370.12" y="918.56" width="1.80" height="1.80" fill="#f01890"/>
<rect x="361.29" y="905.16" width="1.80" height="1.80" fill="#f01890"/>
<rect x="374.48" y="896.24" width="1.80" height="1.80" fill="#f01890"/>
<rect x="368.31" y="897.18" width="1.80" height="1.80" fill="#f01890"/>
<rect x="458.83" y="882.34" width="1.80" height="1.80" fill="#f01890"/>
<rect x="375.03" y="897.42" width="1.80" height="1.80" fill="#f01890"/>
<rect x="401.85" y="883.69" width="1.80" height="1.80" fill="#f01890"/>
<rect x="399.18" y="892.86" width="1.80" height="1.80" fill="#f01890"/>
<rect x="379.12" y="897.45" width="1.80" height="1.80" fill="#f01890"/>
<rect x="398.02" y="884.47" width="1.80" height="1.80" fill="#f01890"/>
<rect x="453.08" y="874.34" width="1.80" height="1.80" fill="#f01890"/>
<rect x="374.95" y="891.99" width="1.80" height="1.80" fill="#f01890"/>
<rect x="362.75" y="900.69" width="1.80" height="1.80" fill="#f01890"/>
<rect x="418.39" y="881.77" width="1.80" height="1.80" fill="#f01890"/>
<rect x="378.97" y="893.73" width="1.80" height="1.80" fill="#f01890"/>
<rect x="404.69" y="883.33" width="1.80" height="1.80" fill="#f01890"/>
<rect x="367.74" y="901.29" width="1.80" height="1.80" fill="#f01890"/>
<rect x="401.40" y="882.04" width="1.80" height="1.80" fill="#f01890"/>
<rect x="372.86" y="899.06" width="1.80" height="1.80" fill="#f01890"/>
<rect x="403.91" y="883.61" width="1.80" height="1.80" fill="#f01890"/>
<rect x="373.07" y="906.10" width="1.80" height="1.80" fill="#f01890"/>
<rect x="374.19" y="896.34" width="1.80" height="1.80" fill="#f01890"/>
<rect x="423.89" y="883.85" width="1.80" height="1.80" fill="#f01890"/>
<rect x="403.37" y="891.91" width="1.80" height="1.80" fill="#f01890"/>
<rect x="366.69" y="904.56" width="1.80" height="1.80" fill="#f01890"/>
<rect x="380.04" y="898.71" width="1.80" height="1.80" fill="#f01890"/>
<rect x="402.03" y="887.69" width="1.80" height="1.80" fill="#f01890"/>
<rect x="389.31" y="887.61" width="1.80" height="1.80" fill="#f01890"/>
<rect x="364.54" y="907.09" width="1.80" height="1.80" fill="#f01890"/>
<rect x="381.20" y="896.83" width="1.80" height="1.80" fill="#f01890"/>
<rect x="387.45" y="891.71" width="1.80" height="1.80" fill="#f01890"/>
<rect x="370.00" y="895.85" width="1.80" height="1.80" fill="#f01890"/>
<rect x="381.46" y="895.87" width="1.80" height="1.80" fill="#f01890"/>
<rect x="380.29" y="897.70" width="1.80" height="1.80" fill="#f01890"/>
<rect x="390.16" y="887.92" width="1.80" height="1.80" fill="#f01890"/>
<rect x="369.08" y="915.62" width="1.80" height="1.80" fill="#f01890"/>
<rect x="374.25" y="897.68" width="1.80" height="1.80" fill="#f01890"/>
<rect x="421.97" y="889.74" width="1.80" height="1.80" fill="#f01890"/>
<rect x="408.20" y="881.43" width="1.80" height="1.80" fill="#f01890"/>
<rect x="393.40" y="885.09" width="1.80" height="1.80" fill="#f01890"/>
<rect x="422.61" y="882.10" width="1.80" height="1.80" fill="#f01890"/>
<rect x="371.50" y="897.39" width="1.80" height="1.80" fill="#f01890"/>
<rect x="377.18" y="892.15" width="1.80" height="1.80" fill="#f01890"/>
<rect x="400.11" y="891.22" width="1.80" height="1.80" fill="#f01890"/>
<rect x="381.37" y="892.11" width="1.80" height="1.80" fill="#f01890"/>
<rect x="454.29" y="888.52" width="1.80" height="1.80" fill="#f01890"/>
<rect x="385.18" y="908.11" width="1.80" height="1.80" fill="#f01890"/>
<rect x="443.43" y="875.54" width="1.80" height="1.80" fill="#f01890"/>
<rect x="388.62" y="893.99" width="1.80" height="1.80" fill="#f01890"/>
<rect x="435.98" y="884.07" width="1.80" height="1.80" fill="#f01890"/>
<rect x="437.79" y="879.91" width="1.80" height="1.80" fill="#f01890"/>
<rect x="421.11" y="880.14" width="1.80" height="1.80" fill="#f01890"/>
<rect x="422.22" y="882.47" width="1.80" height="1.80" fill="#f01890"/>
<rect x="375.58" y="899.94" width="1.80" height="1.80" fill="#f01890"/>
<rect x="392.75" y="888.41" width="1.80" height="1.80" fill="#f01890"/>
<rect x="465.44" y="881.00" width="1.80" height="1.80" fill="#f01890"/>
<rect x="395.26" y="886.78" width="1.80" height="1.80" fill="#f01890"/>
<rect x="375.21" y="900.78" width="1.80" height="1.80" fill="#f01890"/>
<rect x="410.66" y="890.99" width="1.80" height="1.80" fill="#f01890"/>
<rect x="360.31" y="906.75" width="1.80" height="1.80" fill="#f01890"/>
<rect x="423.50" y="881.71" width="1.80" height="1.80" fill="#f01890"/>
<rect x="387.18" y="890.09" width="1.80" height="1.80" fill="#f01890"/>
<rect x="359.91" y="901.33" width="1.80" height="1.80" fill="#f01890"/>
<rect x="443.55" y="880.50" width="1.80" height="1.80" fill="#f01890"/>
<rect x="427.63" y="880.23" width="1.80" height="1.80" fill="#f01890"/>
<rect x="372.25" y="903.02" width="1.80" height="1.80" fill="#f01890"/>
<rect x="431.97" y="876.50" width="1.80" height="1.80" fill="#f01890"/>
<rect x="397.62" y="887.01" width="1.80" height="1.80" fill="#f01890"/>
<rect x="364.60" y="898.15" width="1.80" height="1.80" fill="#f01890"/>
<rect x="360.72" y="907.56" width="1.80" height="1.80" fill="#f01890"/>
<rect x="409.69" y="879.97" width="1.80" height="1.80" fill="#f01890"/>
<rect x="363.14" y="900.25" width="1.80" height="1.80" fill="#f01890"/>
<rect x="409.30" y="881.45" width="1.80" height="1.80" fill="#f01890"/>
<rect x="369.57" y="896.34" width="1.80" height="1.80" fill="#f01890"/>
<rect x="391.59" y="890.30" width="1.80" height="1.80" fill="#f01890"/>
<rect x="372.52" y="905.51" width="1.80" height="1.80" fill="#f01890"/>
<rect x="422.08" y="883.22" width="1.80" height="1.80" fill="#f01890"/>
<rect x="400.63" y="885.83" width="1.80" height="1.80" fill="#f01890"/>
<rect x="386.28" y="907.22" width="1.80" height="1.80" fill="#f01890"/>
<rect x="373.97" y="899.81" width="1.80" height="1.80" fill="#f01890"/>
<rect x="421.66" y="896.96" width="1.80" height="1.80" fill="#f01890"/>
<rect x="376.16" y="891.58" width="1.80" height="1.80" fill="#f01890"/>
<rect x="417.22" y="880.27" width="1.80" height="1.80" fill="#f01890"/>
<rect x="430.97" y="886.25" width="1.80" height="1.80" fill="#f01890"/>
<rect x="464.32" y="889.97" width="1.80" height="1.80" fill="#f01890"/>
<rect x="352.66" y="923.90" width="1.80" height="1.80" fill="#f01890"/>
<rect x="378.47" y="892.59" width="1.80" height="1.80" fill="#f01890"/>
<rect x="384.11" y="907.11" width="1.80" height="1.80" fill="#f01890"/>
<rect x="364.42" y="902.34" width="1.80" height="1.80" fill="#f01890"/>
<rect x="422.63" y="879.79" width="1.80" height="1.80" fill="#f01890"/>
<rect x="365.04" y="913.22" width="1.80" height="1.80" fill="#f01890"/>
<rect x="388.66" y="891.27" width="1.80" height="1.80" fill="#f01890"/>
<rect x="361.99" y="906.55" width="1.80" height="1.80" fill="#f01890"/>
<rect x="445.84" y="876.54" width="1.80" height="1.80" fill="#f01890"/>
<rect x="391.89" y="902.61" width="1.80" height="1.80" fill="#f01890"/>
<rect x="370.19" y="905.53" width="1.80" height="1.80" fill="#f01890"/>
<rect x="400.27" y="887.57" width="1.80" height="1.80" fill="#f01890"/>
<rect x="364.76" y="902.86" width="1.80" height="1.80" fill="#f01890"/>
<rect x="387.98" y="888.26" width="1.80" height="1.80" fill="#f01890"/>
<rect x="416.83" y="889.01" width="1.80" height="1.80" fill="#f01890"/>
<rect x="413.02" y="885.56" width="1.80" height="1.80" fill="#f01890"/>
<rect x="394.73" y="886.01" width="1.80" height="1.80" fill="#f01890"/>
<rect x="377.07" y="891.78" width="1.80" height="1.80" fill="#f01890"/>
<rect x="460.22" y="873.86" width="1.80" height="1.80" fill="#f01890"/>
<rect x="364.63" y="923.50" width="1.80" height="1.80" fill="#f01890"/>
<rect x="424.84" y="883.88" width="1.80" height="1.80" fill="#f01890"/>
<rect x="414.77" y="891.82" width="1.80" height="1.80" fill="#f01890"/>
<rect x="398.33" y="890.70" width="1.80" height="1.80" fill="#f01890"/>
<rect x="370.67" y="901.36" width="1.80" height="1.80" fill="#f01890"/>
<rect x="439.35" y="876.19" width="1.80" height="1.80" fill="#f01890"/>
<rect x="370.94" y="894.95" width="1.80" height="1.80" fill="#f01890"/>
<rect x="400.12" y="891.91" width="1.80" height="1.80" fill="#f01890"/>
<rect x="358.27" y="906.93" width="1.80" height="1.80" fill="#f01890"/>
<rect x="387.38" y="888.13" width="1.80" height="1.80" fill="#f01890"/>
<rect x="420.94" y="886.01" width="1.80" height="1.80" fill="#f01890"/>
<rect x="380.08" y="899.84" width="1.80" height="1.80" fill="#f01890"/>
<rect x="384.95" y="890.41" width="1.80" height="1.80" fill="#f01890"/>
<rect x="408.52" y="882.17" width="1.80" height="1.80" fill="#f01890"/>
<rect x="393.63" y="892.70" width="1.80" height="1.80" fill="#f01890"/>
<rect x="389.17" y="897.80" width="1.80" height="1.80" fill="#f01890"/>
<rect x="393.53" y="884.71" width="1.80" height="1.80" fill="#f01890"/>
<rect x="370.41" y="906.51" width="1.80" height="1.80" fill="#f01890"/>
<rect x="393.43" y="884.67" width="1.80" height="1.80" fill="#f01890"/>
<rect x="429.72" y="879.20" width="1.80" height="1.80" fill="#f01890"/>
<rect x="394.95" y="900.96" width="1.80" height="1.80" fill="#f01890"/>
<rect x="395.01" y="884.48" width="1.80" height="1.80" fill="#f01890"/>
<rect x="416.75" y="896.14" width="1.80" height="1.80" fill="#f01890"/>
<rect x="363.84" y="905.57" width="1.80" height="1.80" fill="#f01890"/>
<rect x="383.27" y="891.00" width="1.80" height="1.80" fill="#f01890"/>
<rect x="393.67" y="890.55" width="1.80" height="1.80" fill="#f01890"/>
<rect x="441.13" y="877.91" width="1.80" height="1.80" fill="#f01890"/>
<rect x="368.56" y="899.99" width="1.80" height="1.80" fill="#f01890"/>
<rect x="381.73" y="900.66" width="1.80" height="1.80" fill="#f01890"/>
<rect x="408.27" y="905.75" width="1.80" height="1.80" fill="#f01890"/>
<rect x="375.26" y="897.02" width="1.80" height="1.80" fill="#f01890"/>
<rect x="428.31" y="886.48" width="1.80" height="1.80" fill="#f01890"/>
<rect x="379.49" y="913.53" width="1.80" height="1.80" fill="#f01890"/>
<rect x="408.76" y="887.63" width="1.80" height="1.80" fill="#f01890"/>
<rect x="387.93" y="888.83" width="1.80" height="1.80" fill="#f01890"/>
<rect x="388.01" y="895.81" width="1.80" height="1.80" fill="#f01890"/>
<rect x="381.69" y="889.76" width="1.80" height="1.80" fill="#f01890"/>
<rect x="383.82" y="889.42" width="1.80" height="1.80" fill="#f01890"/>
<rect x="363.85" y="900.46" width="1.80" height="1.80" fill="#f01890"/>
<rect x="378.50" y="894.22" width="1.80" height="1.80" fill="#f01890"/>
<rect x="396.65" y="885.51" width="1.80" height="1.80" fill="#f01890"/>
<rect x="403.09" y="884.23" width="1.80" height="1.80" fill="#f01890"/>
<rect x="398.86" y="887.11" width="1.80" height="1.80" fill="#f01890"/>
<rect x="366.76" y="901.35" width="1.80" height="1.80" fill="#f01890"/>
<rect x="453.43" y="880.22" width="1.80" height="1.80" fill="#f01890"/>
<rect x="420.23" y="880.46" width="1.80" height="1.80" fill="#f01890"/>
<rect x="403.39" y="883.00" width="1.80" height="1.80" fill="#f01890"/>
<rect x="407.08" y="881.49" width="1.80" height="1.80" fill="#f01890"/>
<rect x="414.64" y="895.66" width="1.80" height="1.80" fill="#f01890"/>
<rect x="407.47" y="886.09" width="1.80" height="1.80" fill="#f01890"/>
<rect x="431.37" y="886.88" width="1.80" height="1.80" fill="#f01890"/>
<rect x="409.68" y="884.49" width="1.80" height="1.80" fill="#f01890"/>
<rect x="385.76" y="892.54" width="1.80" height="1.80" fill="#f01890"/>
<rect x="389.28" y="892.87" width="1.80" height="1.80" fill="#f01890"/>
<rect x="404.43" y="885.89" width="1.80" height="1.80" fill="#f01890"/>
<rect x="364.92" y="904.26" width="1.80" height="1.80" fill="#f01890"/>
<rect x="369.32" y="897.36" width="1.80" height="1.80" fill="#f01890"/>
<rect x="367.88" y="897.32" width="1.80" height="1.80" fill="#f01890"/>
<rect x="375.13" y="892.31" width="1.80" height="1.80" fill="#f01890"/>
<rect x="355.06" y="907.70" width="1.80" height="1.80" fill="#f01890"/>
<rect x="354.26" y="910.53" width="1.80" height="1.80" fill="#f01890"/>
<rect x="375.16" y="892.21" width="1.80" height="1.80" fill="#f01890"/>
<rect x="395.91" y="886.75" width="1.80" height="1.80" fill="#f01890"/>
<rect x="381.43" y="907.75" width="1.80" height="1.80" fill="#f01890"/>
<rect x="379.90" y="894.75" width="1.80" height="1.80" fill="#f01890"/>
<rect x="391.36" y="892.86" width="1.80" height="1.80" fill="#f01890"/>
<rect x="392.46" y="885.16" width="1.80" height="1.80" fill="#f01890"/>
<rect x="406.07" y="887.98" width="1.80" height="1.80" fill="#f01890"/>
<rect x="420.84" y="884.15" width="1.80" height="1.80" fill="#f01890"/>
<rect x="394.61" y="885.41" width="1.80" height="1.80" fill="#f01890"/>
<rect x="412.85" y="884.09" width="1.80" height="1.80" fill="#f01890"/>
<rect x="409.62" y="880.83" width="1.80" height="1.80" fill="#f01890"/>
<rect x="378.16" y="893.35" width="1.80" height="1.80" fill="#f01890"/>
<rect x="370.57" y="895.57" width="1.80" height="1.80" fill="#f01890"/>
<rect x="394.71" y="890.97" width="1.80" height="1.80" fill="#f01890"/>
<rect x="384.46" y="895.68" width="1.80" height="1.80" fill="#f01890"/>
<rect x="364.57" y="901.55" width="1.80" height="1.80" fill="#f01890"/>
<rect x="397.91" y="890.84" width="1.80" height="1.80" fill="#f01890"/>
<rect x="392.24" y="885.42" width="1.80" height="1.80" fill="#f01890"/>
<rect x="380.59" y="890.00" width="1.80" height="1.80" fill="#f01890"/>
<rect x="423.31" y="886.65" width="1.80" height="1.80" fill="#f01890"/>
<rect x="370.74" y="918.11" width="1.80" height="1.80" fill="#f01890"/>
<rect x="442.12" y="880.66" width="1.80" height="1.80" fill="#f01890"/>
<rect x="378.44" y="904.68" width="1.80" height="1.80" fill="#f01890"/>
<rect x="397.80" y="888.85" width="1.80" height="1.80" fill="#f01890"/>
<rect x="387.33" y="913.04" width="1.80" height="1.80" fill="#f01890"/>
<rect x="390.20" y="890.83" width="1.80" height="1.80" fill="#f01890"/>
<rect x="392.99" y="887.60" width="1.80" height="1.80" fill="#f01890"/>
<rect x="377.64" y="895.18" width="1.80" height="1.80" fill="#f01890"/>
<rect x="458.74" y="879.77" width="1.80" height="1.80" fill="#f01890"/>
<rect x="369.34" y="898.10" width="1.80" height="1.80" fill="#f01890"/>
<rect x="387.98" y="894.62" width="1.80" height="1.80" fill="#f01890"/>
<rect x="401.74" y="897.05" width="1.80" height="1.80" fill="#f01890"/>
<rect x="395.29" y="890.82" width="1.80" height="1.80" fill="#f01890"/>
<rect x="374.45" y="901.75" width="1.80" height="1.80" fill="#f01890"/>
<rect x="390.73" y="885.31" width="1.80" height="1.80" fill="#f01890"/>
<rect x="380.26" y="896.43" width="1.80" height="1.80" fill="#f01890"/>
<rect x="438.81" y="883.37" width="1.80" height="1.80" fill="#f01890"/>
<rect x="375.41" y="903.30" width="1.80" height="1.80" fill="#f01890"/>
<rect x="373.96" y="898.82" width="1.80" height="1.80" fill="#f01890"/>
<rect x="445.54" y="884.21" width="1.80" height="1.80" fill="#f01890"/>
<rect x="399.60" y="882.63" width="1.80" height="1.80" fill="#f01890"/>
<rect x="479.93" y="874.72" width="1.80" height="1.80" fill="#f01890"/>
<rect x="495.91" y="876.62" width="1.80" height="1.80" fill="#f01890"/>
<rect x="365.78" y="954.73" width="1.80" height="1.80" fill="#f01890"/>
<rect x="393.17" y="971.88" width="1.80" height="1.80" fill="#f01890"/>
<rect x="388.61" y="937.59" width="1.80" height="1.80" fill="#f01890"/>
<rect x="425.13" y="916.63" width="1.80" height="1.80" fill="#f01890"/>
<rect x="361.21" y="933.77" width="1.80" height="1.80" fill="#f01890"/>
<rect x="358.93" y="926.16" width="1.80" height="1.80" fill="#f01890"/>
</g>
<line x1="166.20" y1="868.30" x2="533.60" y2="868.30" stroke="#000" stroke-width="3.2"/>
<rect x="166.20" y="704.80" width="367.40" height="330.50" fill="none" stroke="#000" stroke-width="4.6"/>
<line x1="157.00" y1="1020.40" x2="166.20" y2="1020.40" stroke="#000" stroke-width="2.7"/>
<text transform="translate(148.30 1041.90) rotate(-90)" font-size="26.5" xml:space="preserve">-<tspan dx="3.8">4</tspan></text>
<line x1="157.00" y1="944.20" x2="166.20" y2="944.20" stroke="#000" stroke-width="2.7"/>
<text transform="translate(148.30 965.70) rotate(-90)" font-size="26.5" xml:space="preserve">-<tspan dx="3.8">2</tspan></text>
<line x1="157.00" y1="868.00" x2="166.20" y2="868.00" stroke="#000" stroke-width="2.7"/>
<text transform="translate(148.30 869.30) rotate(-90)" font-size="26.5" text-anchor="middle" xml:space="preserve">0</text>
<line x1="157.00" y1="791.80" x2="166.20" y2="791.80" stroke="#000" stroke-width="2.7"/>
<text transform="translate(148.30 793.10) rotate(-90)" font-size="26.5" text-anchor="middle" xml:space="preserve">2</text>
<line x1="157.00" y1="715.60" x2="166.20" y2="715.60" stroke="#000" stroke-width="2.7"/>
<text transform="translate(148.30 716.90) rotate(-90)" font-size="26.5" text-anchor="middle" xml:space="preserve">4</text>
<line x1="202.30" y1="1035.30" x2="202.30" y2="1042.60" stroke="#000" stroke-width="2.8"/>
<text x="202.30" y="1068.20" font-size="24.5" text-anchor="middle" xml:space="preserve">0</text>
<line x1="293.62" y1="1035.30" x2="293.62" y2="1042.60" stroke="#000" stroke-width="2.8"/>
<text x="291.12" y="1068.20" font-size="24.5" text-anchor="middle" xml:space="preserve">4</text>
<line x1="384.94" y1="1035.30" x2="384.94" y2="1042.60" stroke="#000" stroke-width="2.8"/>
<text x="384.94" y="1068.20" font-size="24.5" text-anchor="middle" xml:space="preserve">8</text>
<line x1="476.26" y1="1035.30" x2="476.26" y2="1042.60" stroke="#000" stroke-width="2.8"/>
<text x="474.76" y="1068.20" font-size="24.5" text-anchor="middle" xml:space="preserve">12</text>
<text x="350.00" y="1103.60" font-size="30.6" text-anchor="middle" xml:space="preserve">Log concentration</text>
<text transform="translate(35.00 865.00) rotate(-90)" font-size="30.8" text-anchor="middle" xml:space="preserve">Log fold change</text>
<text transform="translate(71.50 860.00) rotate(-90)" font-size="30.8" text-anchor="middle" xml:space="preserve">BRM <tspan font-style="italic">brm-1 bcl7a bcl7b</tspan></text>
<text transform="translate(107.00 864.00) rotate(-90)" font-size="30.5" text-anchor="middle" xml:space="preserve">vs BRM <tspan font-style="italic">brm-1</tspan></text>
<text x="395.50" y="777.00" font-size="30.3" xml:space="preserve"><tspan font-style="italic">n</tspan> = 447</text>
<text x="394.00" y="995.30" font-size="30.3" xml:space="preserve"><tspan font-style="italic">n</tspan> = 340</text>
<line x1="506.60" y1="781.50" x2="506.60" y2="742.00" stroke="#000" stroke-width="3"/>
<path d="M506.6 725 L517 745 L496.2 745 Z" fill="#000"/>
<line x1="515.50" y1="960.00" x2="515.50" y2="1000.00" stroke="#000" stroke-width="3"/>
<path d="M515.5 1017 L526 997.5 L505 997.5 Z" fill="#000"/>
<circle cx="182.20" cy="1128.50" r="9.3" fill="#ee1289"/>
<circle cx="181.50" cy="1165.00" r="9.3" fill="#22ac4a"/>
<text x="204.50" y="1137.50" font-size="25.15" xml:space="preserve">Fold change &lt; 0, FDR &lt; 0.05</text>
<text x="204.50" y="1174.00" font-size="25.15" xml:space="preserve">Fold change &gt; 0, FDR &lt; 0.05</text>
</g>
<g id="panel_e">
<text x="618.70" y="666.50" font-size="32" font-weight="bold" xml:space="preserve">e</text>
<g clip-path="url(#ce)"><path d="M743.1 1064.5 L757.0 1058.0 L767.4 1059.8 L776.7 1058.0 L790.5 1058.2 L798.6 1054.7 L806.7 1057.1 L820.6 1056.4 L829.9 1045.5 L839.1 1048.7 L844.9 1046.4 L854.2 1050.1 L865.8 1039.0 L876.2 1044.3 L885.4 1036.7 L894.7 1033.2 L899.3 1028.6 L906.3 1011.2 L915.5 978.8 L924.8 927.0 L930.6 879.9 L934.0 821.1 L936.3 805.0 L938.0 797.9 L939.8 805.0 L943.3 821.1 L947.9 879.9 L954.9 938.8 L960.6 978.8 L966.4 1003.1 L975.7 1015.9 L981.5 1027.4 L989.6 1034.4 L1001.1 1047.8 L1009.2 1046.4 L1019.7 1052.9 L1028.9 1053.4 L1042.8 1055.2 L1054.4 1058.7 L1068.3 1063.3 L1079.8 1058.7 L1091.4 1056.4 L1107.6 1061.0 L1119.2 1055.2 L1126.1 1055.2 L1133.1 1062.1" fill="none" stroke="#1010a8" stroke-width="4.2" stroke-linejoin="round"/>
<path d="M743.1 1061.7 L757.0 1055.2 L767.4 1057.1 L776.7 1055.2 L790.5 1055.4 L798.6 1052.0 L806.7 1054.3 L820.6 1053.6 L829.9 1042.7 L839.1 1045.9 L844.9 1043.6 L854.2 1047.3 L865.8 1036.2 L876.2 1041.6 L885.4 1033.9 L894.7 1030.4 L899.3 1025.8 L906.3 1008.5 L915.5 976.1 L924.8 925.1 L930.6 878.9 L934.0 821.0 L936.3 774.7 L938.0 760.4 L939.8 774.7 L943.3 821.0 L947.9 878.9 L954.9 936.7 L960.6 976.1 L966.4 1000.4 L975.7 1013.1 L981.5 1024.7 L989.6 1031.6 L1001.1 1045.0 L1009.2 1043.6 L1019.7 1050.1 L1028.9 1050.6 L1042.8 1052.4 L1054.4 1055.9 L1068.3 1060.5 L1079.8 1055.9 L1091.4 1053.6 L1107.6 1058.2 L1119.2 1052.4 L1126.1 1052.4 L1133.1 1059.4" fill="none" stroke="#ff0a0a" stroke-width="4" stroke-linejoin="round"/></g>
<rect x="743.10" y="745.80" width="389.90" height="334.40" fill="none" stroke="#1a1a1a" stroke-width="2.6"/>
<line x1="735.00" y1="769.50" x2="743.00" y2="769.50" stroke="#1a1a1a" stroke-width="2.2"/>
<text x="726.50" y="771.00" font-size="25.3" text-anchor="end" xml:space="preserve">450</text>
<line x1="735.00" y1="866.60" x2="743.00" y2="866.60" stroke="#1a1a1a" stroke-width="2.2"/>
<text x="726.50" y="868.10" font-size="25.3" text-anchor="end" xml:space="preserve">350</text>
<line x1="735.00" y1="964.00" x2="743.00" y2="964.00" stroke="#1a1a1a" stroke-width="2.2"/>
<text x="726.50" y="965.50" font-size="25.3" text-anchor="end" xml:space="preserve">250</text>
<line x1="735.00" y1="1061.80" x2="743.00" y2="1061.80" stroke="#1a1a1a" stroke-width="2.2"/>
<text x="726.50" y="1063.30" font-size="25.3" text-anchor="end" xml:space="preserve">150</text>
<line x1="743.10" y1="1080.00" x2="743.10" y2="1087.50" stroke="#1a1a1a" stroke-width="2.2"/>
<line x1="938.00" y1="1080.00" x2="938.00" y2="1087.50" stroke="#1a1a1a" stroke-width="2.2"/>
<line x1="1133.00" y1="1080.00" x2="1133.00" y2="1087.50" stroke="#1a1a1a" stroke-width="2.2"/>
<text x="741.00" y="1113.00" font-size="24" text-anchor="middle" xml:space="preserve">-3</text>
<text x="938.00" y="1113.00" font-size="24" text-anchor="middle" xml:space="preserve">0</text>
<text x="1128.00" y="1114.50" font-size="24" text-anchor="middle" xml:space="preserve">3</text>
<text transform="translate(667.00 902.00) rotate(-90)" font-size="31.7" text-anchor="middle" xml:space="preserve">ChIP-seq reads density</text>
<text x="914.50" y="1170.00" font-size="30.5" text-anchor="middle" xml:space="preserve">Distance to BRM peak summits (kb)</text>
<line x1="752.50" y1="677.00" x2="781.50" y2="677.00" stroke="#ff0a0a" stroke-width="6.5"/>
<line x1="755.00" y1="720.00" x2="784.00" y2="720.00" stroke="#1010a8" stroke-width="6.5"/>
<text x="800.50" y="688.50" font-size="25.4" xml:space="preserve"><tspan font-style="italic">BRM-GFP brm-1</tspan></text>
<text x="798.00" y="727.50" font-size="25.3" xml:space="preserve"><tspan font-style="italic">BRM-GFP brm-1 bcl7a bcl7b</tspan></text>
</g>
<g id="panel_f">
<text x="1218.00" y="671.00" font-size="32" font-weight="bold" xml:space="preserve">f</text>
<g clip-path="url(#cf0)">
<rect x="1330.20" y="761.80" width="134.10" height="339.80" fill="url(#fbg)"/>
<g filter="url(#ff3)"><rect x="1330.20" y="761.80" width="134.10" height="2.38" fill="#ffffff" opacity="0.129"/>
<rect x="1330.20" y="764.18" width="134.10" height="2.97" fill="#ffffff" opacity="0.023"/>
<rect x="1330.20" y="767.15" width="134.10" height="2.02" fill="#ffffff" opacity="0.088"/>
<rect x="1330.20" y="769.17" width="134.10" height="2.37" fill="#ffffff" opacity="0.159"/>
<rect x="1330.20" y="771.54" width="134.10" height="3.34" fill="#ff2a2a" opacity="0.055"/>
<rect x="1330.20" y="774.88" width="134.10" height="2.24" fill="#ffffff" opacity="0.285"/>
<rect x="1330.20" y="777.12" width="134.10" height="2.84" fill="#ffffff" opacity="0.218"/>
<rect x="1330.20" y="779.96" width="134.10" height="2.10" fill="#ffffff" opacity="0.189"/>
<rect x="1330.20" y="782.06" width="134.10" height="2.48" fill="#ff2a2a" opacity="0.070"/>
<rect x="1330.20" y="784.54" width="134.10" height="2.76" fill="#ffffff" opacity="0.274"/>
<rect x="1330.20" y="787.30" width="134.10" height="3.14" fill="#ffffff" opacity="0.122"/>
<rect x="1330.20" y="790.44" width="134.10" height="3.28" fill="#ff2a2a" opacity="0.073"/>
<rect x="1330.20" y="793.72" width="134.10" height="3.41" fill="#ff2a2a" opacity="0.010"/>
<rect x="1330.20" y="797.13" width="134.10" height="2.35" fill="#ffffff" opacity="0.127"/>
<rect x="1330.20" y="799.48" width="134.10" height="3.00" fill="#ff2a2a" opacity="0.037"/>
<rect x="1330.20" y="802.48" width="134.10" height="2.62" fill="#ff2a2a" opacity="0.042"/>
<rect x="1330.20" y="805.10" width="134.10" height="2.93" fill="#ffffff" opacity="0.190"/>
<rect x="1330.20" y="808.03" width="134.10" height="3.49" fill="#ffffff" opacity="0.271"/>
<rect x="1330.20" y="811.52" width="134.10" height="3.07" fill="#ff2a2a" opacity="0.059"/>
<rect x="1330.20" y="814.59" width="134.10" height="3.54" fill="#ffffff" opacity="0.149"/>
<rect x="1330.20" y="818.14" width="134.10" height="3.14" fill="#ff2a2a" opacity="0.055"/>
<rect x="1330.20" y="821.28" width="134.10" height="2.92" fill="#ff2a2a" opacity="0.004"/>
<rect x="1330.20" y="824.20" width="134.10" height="3.37" fill="#ffffff" opacity="0.022"/>
<rect x="1330.20" y="827.56" width="134.10" height="3.28" fill="#ff2a2a" opacity="0.009"/>
<rect x="1330.20" y="830.84" width="134.10" height="2.47" fill="#ffffff" opacity="0.205"/>
<rect x="1330.20" y="833.31" width="134.10" height="2.07" fill="#ffffff" opacity="0.010"/>
<rect x="1330.20" y="835.38" width="134.10" height="3.15" fill="#ff2a2a" opacity="0.052"/>
<rect x="1330.20" y="838.53" width="134.10" height="3.57" fill="#ffffff" opacity="0.222"/>
<rect x="1330.20" y="842.10" width="134.10" height="2.50" fill="#ff2a2a" opacity="0.033"/>
<rect x="1330.20" y="844.60" width="134.10" height="2.05" fill="#ff2a2a" opacity="0.022"/>
<rect x="1330.20" y="846.65" width="134.10" height="2.98" fill="#ff2a2a" opacity="0.002"/>
<rect x="1330.20" y="849.63" width="134.10" height="3.39" fill="#ff2a2a" opacity="0.050"/>
<rect x="1330.20" y="853.01" width="134.10" height="3.43" fill="#ff2a2a" opacity="0.023"/>
<rect x="1330.20" y="856.45" width="134.10" height="2.83" fill="#ffffff" opacity="0.115"/>
<rect x="1330.20" y="859.28" width="134.10" height="2.89" fill="#ffffff" opacity="0.177"/>
<rect x="1330.20" y="862.18" width="134.10" height="2.81" fill="#ff2a2a" opacity="0.034"/>
<rect x="1330.20" y="864.99" width="134.10" height="2.38" fill="#ff2a2a" opacity="0.045"/>
<rect x="1330.20" y="867.37" width="134.10" height="2.83" fill="#ffffff" opacity="0.002"/>
<rect x="1330.20" y="870.20" width="134.10" height="2.66" fill="#ffffff" opacity="0.003"/>
<rect x="1330.20" y="872.86" width="134.10" height="2.99" fill="#ffffff" opacity="0.010"/>
<rect x="1330.20" y="875.85" width="134.10" height="3.00" fill="#ff2a2a" opacity="0.028"/>
<rect x="1330.20" y="878.85" width="134.10" height="2.56" fill="#ffffff" opacity="0.115"/>
<rect x="1330.20" y="881.42" width="134.10" height="2.04" fill="#ff2a2a" opacity="0.026"/>
<rect x="1330.20" y="883.45" width="134.10" height="3.54" fill="#ff2a2a" opacity="0.017"/>
<rect x="1330.20" y="886.99" width="134.10" height="2.95" fill="#ff2a2a" opacity="0.013"/>
<rect x="1330.20" y="889.94" width="134.10" height="2.50" fill="#ff2a2a" opacity="0.021"/>
<rect x="1330.20" y="892.44" width="134.10" height="2.48" fill="#ff2a2a" opacity="0.026"/>
<rect x="1330.20" y="894.92" width="134.10" height="2.04" fill="#ffffff" opacity="0.095"/>
<rect x="1330.20" y="896.97" width="134.10" height="2.50" fill="#ff2a2a" opacity="0.026"/>
<rect x="1330.20" y="899.46" width="134.10" height="2.38" fill="#ff2a2a" opacity="0.014"/>
<rect x="1330.20" y="901.84" width="134.10" height="3.12" fill="#ff2a2a" opacity="0.010"/>
<rect x="1330.20" y="904.96" width="134.10" height="2.53" fill="#ffffff" opacity="0.049"/>
<rect x="1330.20" y="907.50" width="134.10" height="3.37" fill="#ff2a2a" opacity="0.009"/>
<rect x="1330.20" y="910.86" width="134.10" height="3.04" fill="#ffffff" opacity="0.046"/>
<rect x="1330.20" y="913.91" width="134.10" height="2.36" fill="#ff2a2a" opacity="0.013"/>
<rect x="1330.20" y="916.27" width="134.10" height="2.31" fill="#ffffff" opacity="0.078"/>
<rect x="1330.20" y="918.57" width="134.10" height="2.29" fill="#ff2a2a" opacity="0.019"/>
<rect x="1330.20" y="920.86" width="134.10" height="3.03" fill="#ffffff" opacity="0.030"/>
<rect x="1330.20" y="923.89" width="134.10" height="2.21" fill="#ff2a2a" opacity="0.016"/>
<rect x="1330.20" y="926.10" width="134.10" height="2.43" fill="#ff2a2a" opacity="0.008"/>
<rect x="1330.20" y="928.53" width="134.10" height="2.67" fill="#ff2a2a" opacity="0.017"/>
<rect x="1330.20" y="931.20" width="134.10" height="2.25" fill="#ff2a2a" opacity="0.017"/>
<rect x="1330.20" y="933.45" width="134.10" height="3.41" fill="#ffffff" opacity="0.028"/>
<rect x="1330.20" y="936.86" width="134.10" height="3.52" fill="#ffffff" opacity="0.013"/>
<rect x="1330.20" y="940.38" width="134.10" height="3.19" fill="#ffffff" opacity="0.035"/>
<rect x="1330.20" y="943.57" width="134.10" height="2.83" fill="#ff2a2a" opacity="0.004"/>
<rect x="1330.20" y="946.41" width="134.10" height="2.36" fill="#ff2a2a" opacity="0.007"/>
<rect x="1330.20" y="948.77" width="134.10" height="2.46" fill="#ffffff" opacity="0.002"/>
<rect x="1330.20" y="951.23" width="134.10" height="3.45" fill="#ffffff" opacity="0.033"/>
<rect x="1330.20" y="954.67" width="134.10" height="3.43" fill="#ffffff" opacity="0.017"/>
<rect x="1330.20" y="958.11" width="134.10" height="2.02" fill="#ffffff" opacity="0.004"/>
<rect x="1330.20" y="960.13" width="134.10" height="2.48" fill="#ffffff" opacity="0.011"/>
<rect x="1330.20" y="962.61" width="134.10" height="2.66" fill="#ffffff" opacity="0.010"/>
<rect x="1330.20" y="965.27" width="134.10" height="2.55" fill="#ff2a2a" opacity="0.003"/>
<rect x="1330.20" y="967.82" width="134.10" height="2.76" fill="#ffffff" opacity="0.003"/>
<rect x="1330.20" y="970.58" width="134.10" height="2.32" fill="#ffffff" opacity="0.003"/>
<rect x="1412.61" y="796.73" width="56.87" height="3.21" fill="#ff3030" opacity="0.062"/>
<rect x="1371.87" y="878.19" width="50.26" height="2.37" fill="#ffffff" opacity="0.015"/>
<rect x="1415.51" y="827.68" width="54.28" height="3.16" fill="#ff3030" opacity="0.028"/>
<rect x="1431.67" y="775.75" width="54.18" height="2.13" fill="#ffffff" opacity="0.055"/>
<rect x="1366.77" y="825.94" width="45.88" height="2.88" fill="#ffffff" opacity="0.037"/>
<rect x="1374.83" y="963.24" width="25.10" height="2.01" fill="#ffffff" opacity="0.004"/>
<rect x="1334.67" y="877.35" width="38.43" height="2.98" fill="#ffffff" opacity="0.039"/>
<rect x="1422.49" y="770.66" width="22.12" height="2.94" fill="#ffffff" opacity="0.065"/>
<rect x="1378.17" y="903.32" width="29.80" height="2.80" fill="#ff3030" opacity="0.034"/>
<rect x="1343.77" y="807.56" width="21.12" height="2.49" fill="#ffffff" opacity="0.032"/>
<rect x="1427.96" y="902.59" width="49.26" height="3.27" fill="#ffffff" opacity="0.030"/>
<rect x="1388.90" y="911.39" width="24.13" height="2.88" fill="#ff3030" opacity="0.021"/>
<rect x="1370.66" y="809.91" width="41.09" height="2.85" fill="#ffffff" opacity="0.036"/>
<rect x="1417.80" y="766.59" width="24.85" height="3.27" fill="#ffffff" opacity="0.103"/>
<rect x="1390.48" y="955.98" width="51.95" height="2.05" fill="#ff3030" opacity="0.003"/>
<rect x="1427.49" y="914.50" width="22.45" height="2.49" fill="#ff3030" opacity="0.029"/>
<rect x="1348.91" y="811.16" width="30.00" height="2.92" fill="#ffffff" opacity="0.040"/>
<rect x="1427.93" y="884.02" width="42.27" height="3.45" fill="#ffffff" opacity="0.032"/>
<rect x="1373.18" y="960.19" width="49.90" height="2.24" fill="#ffffff" opacity="0.003"/>
<rect x="1422.59" y="843.57" width="26.50" height="2.75" fill="#ffffff" opacity="0.069"/>
<rect x="1376.32" y="867.26" width="48.76" height="2.28" fill="#ffffff" opacity="0.049"/>
<rect x="1383.88" y="791.68" width="57.39" height="3.28" fill="#ffffff" opacity="0.078"/>
<rect x="1392.16" y="936.18" width="43.38" height="3.48" fill="#ff3030" opacity="0.010"/>
<rect x="1413.91" y="816.46" width="28.02" height="2.85" fill="#ff3030" opacity="0.044"/>
<rect x="1345.15" y="919.64" width="59.65" height="2.72" fill="#ff3030" opacity="0.018"/>
<rect x="1415.73" y="931.96" width="42.28" height="2.72" fill="#ff3030" opacity="0.021"/>
<rect x="1406.57" y="843.41" width="58.41" height="2.70" fill="#ff3030" opacity="0.068"/>
<rect x="1411.12" y="893.97" width="22.77" height="2.33" fill="#ffffff" opacity="0.019"/>
<rect x="1357.12" y="800.46" width="27.49" height="3.06" fill="#ff3030" opacity="0.091"/>
<rect x="1420.26" y="813.79" width="32.54" height="2.63" fill="#ff3030" opacity="0.031"/>
<rect x="1425.32" y="815.66" width="21.45" height="2.68" fill="#ffffff" opacity="0.023"/>
<rect x="1375.61" y="830.06" width="39.44" height="2.32" fill="#ffffff" opacity="0.044"/>
<rect x="1342.61" y="872.78" width="30.99" height="3.00" fill="#ff3030" opacity="0.033"/>
<rect x="1356.32" y="869.34" width="41.11" height="3.05" fill="#ffffff" opacity="0.048"/>
<rect x="1400.56" y="822.05" width="46.16" height="3.21" fill="#ffffff" opacity="0.028"/>
<rect x="1365.44" y="954.35" width="42.64" height="2.79" fill="#ffffff" opacity="0.007"/>
<rect x="1360.85" y="773.94" width="49.12" height="3.11" fill="#ff3030" opacity="0.043"/>
<rect x="1398.42" y="943.24" width="24.93" height="3.40" fill="#ff3030" opacity="0.016"/>
<rect x="1397.82" y="893.30" width="36.81" height="2.45" fill="#ff3030" opacity="0.027"/>
<rect x="1348.56" y="825.50" width="22.74" height="3.07" fill="#ffffff" opacity="0.043"/>
</g>
<path d="M1385.9 756.8 L1407.9 756.8 L1401.4 1106.6 L1392.4 1106.6 Z" fill="url(#fst2)" filter="url(#ff2)"/>
<path d="M1392.9 756.8 L1400.9 756.8 L1399.3000000000002 1106.6 L1394.5 1106.6 Z" fill="url(#fst)" filter="url(#ff1)"/>
<ellipse cx="1396.90" cy="763.80" rx="26" ry="5" fill="#ff1010" opacity="0.7" filter="url(#ff2)"/>
</g>
<rect x="1330.20" y="761.80" width="134.10" height="339.80" fill="none" stroke="#000" stroke-width="4"/>
<g clip-path="url(#cf1)">
<rect x="1474.30" y="761.80" width="134.50" height="339.80" fill="url(#fbg)"/>
<g filter="url(#ff3)"><rect x="1474.30" y="761.80" width="134.50" height="2.43" fill="#ff2a2a" opacity="0.079"/>
<rect x="1474.30" y="764.23" width="134.50" height="2.07" fill="#ffffff" opacity="0.086"/>
<rect x="1474.30" y="766.29" width="134.50" height="3.23" fill="#ff2a2a" opacity="0.029"/>
<rect x="1474.30" y="769.52" width="134.50" height="2.65" fill="#ffffff" opacity="0.260"/>
<rect x="1474.30" y="772.17" width="134.50" height="2.56" fill="#ffffff" opacity="0.037"/>
<rect x="1474.30" y="774.73" width="134.50" height="2.43" fill="#ff2a2a" opacity="0.010"/>
<rect x="1474.30" y="777.17" width="134.50" height="3.25" fill="#ffffff" opacity="0.060"/>
<rect x="1474.30" y="780.41" width="134.50" height="2.30" fill="#ff2a2a" opacity="0.061"/>
<rect x="1474.30" y="782.71" width="134.50" height="3.31" fill="#ffffff" opacity="0.187"/>
<rect x="1474.30" y="786.02" width="134.50" height="2.23" fill="#ff2a2a" opacity="0.015"/>
<rect x="1474.30" y="788.25" width="134.50" height="2.84" fill="#ffffff" opacity="0.062"/>
<rect x="1474.30" y="791.10" width="134.50" height="2.40" fill="#ffffff" opacity="0.009"/>
<rect x="1474.30" y="793.50" width="134.50" height="3.29" fill="#ffffff" opacity="0.282"/>
<rect x="1474.30" y="796.78" width="134.50" height="2.61" fill="#ffffff" opacity="0.170"/>
<rect x="1474.30" y="799.40" width="134.50" height="3.01" fill="#ffffff" opacity="0.197"/>
<rect x="1474.30" y="802.41" width="134.50" height="2.48" fill="#ffffff" opacity="0.137"/>
<rect x="1474.30" y="804.89" width="134.50" height="2.96" fill="#ffffff" opacity="0.001"/>
<rect x="1474.30" y="807.85" width="134.50" height="3.23" fill="#ffffff" opacity="0.135"/>
<rect x="1474.30" y="811.08" width="134.50" height="2.84" fill="#ff2a2a" opacity="0.013"/>
<rect x="1474.30" y="813.92" width="134.50" height="2.85" fill="#ff2a2a" opacity="0.034"/>
<rect x="1474.30" y="816.77" width="134.50" height="3.03" fill="#ff2a2a" opacity="0.038"/>
<rect x="1474.30" y="819.80" width="134.50" height="3.53" fill="#ffffff" opacity="0.034"/>
<rect x="1474.30" y="823.34" width="134.50" height="3.27" fill="#ffffff" opacity="0.013"/>
<rect x="1474.30" y="826.61" width="134.50" height="2.58" fill="#ff2a2a" opacity="0.005"/>
<rect x="1474.30" y="829.18" width="134.50" height="2.86" fill="#ffffff" opacity="0.077"/>
<rect x="1474.30" y="832.04" width="134.50" height="3.39" fill="#ffffff" opacity="0.031"/>
<rect x="1474.30" y="835.44" width="134.50" height="3.37" fill="#ffffff" opacity="0.211"/>
<rect x="1474.30" y="838.81" width="134.50" height="3.15" fill="#ffffff" opacity="0.076"/>
<rect x="1474.30" y="841.96" width="134.50" height="3.29" fill="#ffffff" opacity="0.187"/>
<rect x="1474.30" y="845.25" width="134.50" height="2.70" fill="#ffffff" opacity="0.103"/>
<rect x="1474.30" y="847.95" width="134.50" height="2.17" fill="#ff2a2a" opacity="0.004"/>
<rect x="1474.30" y="850.12" width="134.50" height="2.32" fill="#ff2a2a" opacity="0.026"/>
<rect x="1474.30" y="852.44" width="134.50" height="3.12" fill="#ffffff" opacity="0.084"/>
<rect x="1474.30" y="855.56" width="134.50" height="3.04" fill="#ff2a2a" opacity="0.023"/>
<rect x="1474.30" y="858.60" width="134.50" height="3.21" fill="#ff2a2a" opacity="0.009"/>
<rect x="1474.30" y="861.81" width="134.50" height="3.44" fill="#ffffff" opacity="0.067"/>
<rect x="1474.30" y="865.25" width="134.50" height="2.59" fill="#ffffff" opacity="0.106"/>
<rect x="1474.30" y="867.84" width="134.50" height="2.36" fill="#ff2a2a" opacity="0.009"/>
<rect x="1474.30" y="870.20" width="134.50" height="3.25" fill="#ff2a2a" opacity="0.020"/>
<rect x="1474.30" y="873.45" width="134.50" height="2.31" fill="#ff2a2a" opacity="0.007"/>
<rect x="1474.30" y="875.77" width="134.50" height="2.65" fill="#ff2a2a" opacity="0.001"/>
<rect x="1474.30" y="878.41" width="134.50" height="2.18" fill="#ff2a2a" opacity="0.020"/>
<rect x="1474.30" y="880.59" width="134.50" height="2.10" fill="#ff2a2a" opacity="0.018"/>
<rect x="1474.30" y="882.68" width="134.50" height="2.65" fill="#ffffff" opacity="0.008"/>
<rect x="1474.30" y="885.34" width="134.50" height="2.65" fill="#ff2a2a" opacity="0.001"/>
<rect x="1474.30" y="887.98" width="134.50" height="3.54" fill="#ff2a2a" opacity="0.003"/>
<rect x="1474.30" y="891.53" width="134.50" height="2.76" fill="#ff2a2a" opacity="0.022"/>
<rect x="1474.30" y="894.28" width="134.50" height="2.55" fill="#ff2a2a" opacity="0.002"/>
<rect x="1474.30" y="896.84" width="134.50" height="3.16" fill="#ff2a2a" opacity="0.025"/>
<rect x="1474.30" y="900.00" width="134.50" height="2.74" fill="#ffffff" opacity="0.036"/>
<rect x="1474.30" y="902.75" width="134.50" height="2.40" fill="#ff2a2a" opacity="0.024"/>
<rect x="1474.30" y="905.15" width="134.50" height="3.01" fill="#ff2a2a" opacity="0.003"/>
<rect x="1474.30" y="908.15" width="134.50" height="3.09" fill="#ffffff" opacity="0.063"/>
<rect x="1474.30" y="911.25" width="134.50" height="2.01" fill="#ff2a2a" opacity="0.002"/>
<rect x="1474.30" y="913.25" width="134.50" height="2.27" fill="#ff2a2a" opacity="0.001"/>
<rect x="1474.30" y="915.52" width="134.50" height="3.05" fill="#ffffff" opacity="0.019"/>
<rect x="1474.30" y="918.57" width="134.50" height="3.56" fill="#ff2a2a" opacity="0.019"/>
<rect x="1474.30" y="922.13" width="134.50" height="3.47" fill="#ffffff" opacity="0.003"/>
<rect x="1474.30" y="925.60" width="134.50" height="2.49" fill="#ffffff" opacity="0.074"/>
<rect x="1474.30" y="928.09" width="134.50" height="2.14" fill="#ff2a2a" opacity="0.016"/>
<rect x="1474.30" y="930.23" width="134.50" height="2.18" fill="#ff2a2a" opacity="0.006"/>
<rect x="1474.30" y="932.41" width="134.50" height="3.09" fill="#ffffff" opacity="0.012"/>
<rect x="1474.30" y="935.50" width="134.50" height="3.18" fill="#ffffff" opacity="0.051"/>
<rect x="1474.30" y="938.68" width="134.50" height="2.89" fill="#ffffff" opacity="0.020"/>
<rect x="1474.30" y="941.57" width="134.50" height="2.66" fill="#ff2a2a" opacity="0.010"/>
<rect x="1474.30" y="944.23" width="134.50" height="2.77" fill="#ff2a2a" opacity="0.002"/>
<rect x="1474.30" y="947.00" width="134.50" height="3.15" fill="#ffffff" opacity="0.030"/>
<rect x="1474.30" y="950.15" width="134.50" height="2.62" fill="#ff2a2a" opacity="0.001"/>
<rect x="1474.30" y="952.77" width="134.50" height="3.14" fill="#ff2a2a" opacity="0.004"/>
<rect x="1474.30" y="955.91" width="134.50" height="3.21" fill="#ffffff" opacity="0.003"/>
<rect x="1474.30" y="959.12" width="134.50" height="2.38" fill="#ffffff" opacity="0.014"/>
<rect x="1474.30" y="961.50" width="134.50" height="3.41" fill="#ffffff" opacity="0.008"/>
<rect x="1474.30" y="964.91" width="134.50" height="3.44" fill="#ffffff" opacity="0.004"/>
<rect x="1474.30" y="968.34" width="134.50" height="2.59" fill="#ff2a2a" opacity="0.001"/>
<rect x="1474.30" y="970.93" width="134.50" height="3.53" fill="#ff2a2a" opacity="0.000"/>
<rect x="1482.75" y="784.25" width="45.97" height="2.36" fill="#ff3030" opacity="0.105"/>
<rect x="1489.25" y="952.52" width="59.41" height="2.17" fill="#ffffff" opacity="0.011"/>
<rect x="1533.08" y="806.67" width="36.78" height="3.17" fill="#ffffff" opacity="0.079"/>
<rect x="1493.96" y="870.92" width="27.10" height="2.12" fill="#ff3030" opacity="0.040"/>
<rect x="1484.90" y="936.91" width="57.73" height="2.38" fill="#ff3030" opacity="0.012"/>
<rect x="1560.98" y="807.21" width="44.62" height="2.96" fill="#ffffff" opacity="0.052"/>
<rect x="1555.58" y="896.58" width="31.67" height="3.42" fill="#ffffff" opacity="0.037"/>
<rect x="1530.64" y="803.80" width="38.57" height="3.09" fill="#ff3030" opacity="0.049"/>
<rect x="1553.05" y="800.94" width="56.96" height="3.03" fill="#ffffff" opacity="0.055"/>
<rect x="1537.61" y="894.00" width="28.57" height="2.53" fill="#ff3030" opacity="0.022"/>
<rect x="1483.10" y="849.64" width="28.72" height="2.25" fill="#ff3030" opacity="0.056"/>
<rect x="1577.40" y="940.14" width="44.49" height="3.40" fill="#ffffff" opacity="0.010"/>
<rect x="1539.48" y="800.77" width="36.37" height="3.34" fill="#ffffff" opacity="0.059"/>
<rect x="1477.95" y="881.59" width="58.30" height="2.03" fill="#ff3030" opacity="0.014"/>
<rect x="1526.92" y="792.52" width="22.45" height="2.71" fill="#ff3030" opacity="0.083"/>
<rect x="1519.49" y="818.07" width="33.79" height="3.11" fill="#ffffff" opacity="0.031"/>
<rect x="1569.24" y="852.34" width="37.75" height="2.31" fill="#ffffff" opacity="0.056"/>
<rect x="1576.33" y="904.60" width="59.19" height="3.31" fill="#ffffff" opacity="0.037"/>
<rect x="1572.53" y="849.73" width="38.96" height="3.50" fill="#ff3030" opacity="0.036"/>
<rect x="1504.10" y="935.65" width="38.53" height="3.33" fill="#ffffff" opacity="0.017"/>
<rect x="1528.59" y="951.43" width="20.57" height="2.94" fill="#ff3030" opacity="0.008"/>
<rect x="1479.55" y="795.59" width="28.16" height="3.15" fill="#ffffff" opacity="0.052"/>
<rect x="1512.22" y="958.67" width="42.11" height="2.74" fill="#ff3030" opacity="0.002"/>
<rect x="1509.65" y="849.95" width="22.05" height="2.82" fill="#ff3030" opacity="0.041"/>
<rect x="1544.52" y="815.16" width="39.94" height="3.08" fill="#ffffff" opacity="0.025"/>
<rect x="1539.87" y="849.38" width="47.01" height="3.37" fill="#ff3030" opacity="0.068"/>
<rect x="1562.22" y="913.42" width="36.50" height="3.13" fill="#ffffff" opacity="0.022"/>
<rect x="1491.93" y="818.80" width="20.68" height="2.96" fill="#ffffff" opacity="0.053"/>
<rect x="1571.34" y="897.48" width="52.56" height="2.90" fill="#ffffff" opacity="0.023"/>
<rect x="1505.00" y="890.68" width="22.95" height="2.21" fill="#ff3030" opacity="0.026"/>
<rect x="1521.84" y="833.55" width="52.12" height="2.68" fill="#ff3030" opacity="0.054"/>
<rect x="1478.25" y="790.27" width="39.42" height="2.35" fill="#ffffff" opacity="0.098"/>
<rect x="1477.50" y="886.67" width="42.98" height="2.82" fill="#ffffff" opacity="0.017"/>
<rect x="1553.07" y="921.95" width="30.71" height="2.65" fill="#ff3030" opacity="0.015"/>
<rect x="1567.90" y="866.76" width="58.41" height="2.97" fill="#ff3030" opacity="0.029"/>
<rect x="1542.63" y="832.30" width="57.66" height="2.59" fill="#ff3030" opacity="0.036"/>
<rect x="1572.93" y="955.47" width="32.70" height="2.59" fill="#ffffff" opacity="0.003"/>
<rect x="1517.49" y="846.89" width="55.97" height="2.74" fill="#ff3030" opacity="0.057"/>
<rect x="1486.33" y="904.15" width="45.29" height="2.19" fill="#ff3030" opacity="0.037"/>
<rect x="1546.62" y="960.45" width="37.25" height="3.48" fill="#ffffff" opacity="0.003"/>
</g>
<path d="M1532.2 756.8 L1554.2 756.8 L1547.7 1106.6 L1538.7 1106.6 Z" fill="url(#fst2)" filter="url(#ff2)"/>
<path d="M1539.2 756.8 L1547.2 756.8 L1545.6000000000001 1106.6 L1540.8 1106.6 Z" fill="url(#fst)" filter="url(#ff1)"/>
<ellipse cx="1543.20" cy="763.80" rx="26" ry="5" fill="#ff1010" opacity="0.7" filter="url(#ff2)"/>
</g>
<rect x="1474.30" y="761.80" width="134.50" height="339.80" fill="none" stroke="#000" stroke-width="4"/>
<rect x="1621.30" y="762.30" width="16.00" height="172.00" fill="url(#fcb)" stroke="#555" stroke-width="1.1"/>
<line x1="1637.50" y1="813.90" x2="1643.50" y2="813.90" stroke="#333" stroke-width="1.6"/>
<line x1="1637.50" y1="881.50" x2="1643.50" y2="881.50" stroke="#333" stroke-width="1.6"/>
<text x="1646.50" y="822.50" font-size="24" xml:space="preserve">400</text>
<text x="1645.50" y="890.50" font-size="24" xml:space="preserve">200</text>
<text x="1397.00" y="713.50" font-size="25.2" text-anchor="middle" xml:space="preserve"><tspan font-style="italic">BRM-GFP</tspan></text>
<text x="1396.00" y="743.50" font-size="25.2" text-anchor="middle" xml:space="preserve"><tspan font-style="italic">brm-1</tspan></text>
<text x="1549.00" y="684.50" font-size="25.2" text-anchor="middle" xml:space="preserve"><tspan font-style="italic">BRM-GFP</tspan></text>
<text x="1548.00" y="714.50" font-size="25.2" text-anchor="middle" xml:space="preserve"><tspan font-style="italic">brm-1</tspan></text>
<text x="1549.00" y="745.50" font-size="25.2" text-anchor="middle" xml:space="preserve"><tspan font-style="italic">bcl7a bcl7b</tspan></text>
<text x="1327.00" y="1134.00" font-size="24" text-anchor="middle" xml:space="preserve">-3</text>
<text x="1397.00" y="1134.00" font-size="24" text-anchor="middle" xml:space="preserve">0</text>
<text x="1461.50" y="1134.00" font-size="24" text-anchor="middle" xml:space="preserve">3</text>
<text x="1480.00" y="1170.00" font-size="30.5" text-anchor="middle" xml:space="preserve">Distance to BRM peak summits (kb)</text>
<text transform="translate(1274.50 918.00) rotate(-90)" font-size="30.5" text-anchor="middle" xml:space="preserve">Sort by BRM binding sites</text>
<text transform="translate(1311.00 922.00) rotate(-90)" font-size="30.5" text-anchor="middle" xml:space="preserve"><tspan font-style="italic">n</tspan> = 7,465</text>
</g>
<g id="panel_g">
<text x="4.50" y="1229.50" font-size="32" font-weight="bold" xml:space="preserve">g</text>
<rect x="148.60" y="1238.60" width="245.10" height="347.10" fill="#fff" stroke="#222" stroke-width="1.3"/>
<line x1="138.00" y1="1303.40" x2="148.60" y2="1303.40" stroke="#000" stroke-width="2.6"/>
<text x="130.80" y="1309.80" font-size="25" text-anchor="end" xml:space="preserve">12</text>
<line x1="138.00" y1="1387.40" x2="148.60" y2="1387.40" stroke="#000" stroke-width="2.6"/>
<text x="130.80" y="1393.80" font-size="25" text-anchor="end" xml:space="preserve">10</text>
<line x1="138.00" y1="1471.70" x2="148.60" y2="1471.70" stroke="#000" stroke-width="2.6"/>
<text x="130.80" y="1478.10" font-size="25" text-anchor="end" xml:space="preserve">8</text>
<line x1="138.00" y1="1556.00" x2="148.60" y2="1556.00" stroke="#000" stroke-width="2.6"/>
<text x="130.80" y="1562.40" font-size="25" text-anchor="end" xml:space="preserve">6</text>
<line x1="212.30" y1="1251.10" x2="212.30" y2="1375.10" stroke="#000" stroke-width="2.0" stroke-dasharray="2.3 3.9"/>
<line x1="212.30" y1="1466.30" x2="212.30" y2="1573.10" stroke="#000" stroke-width="2.0" stroke-dasharray="2.3 3.9"/>
<line x1="194.30" y1="1251.10" x2="230.30" y2="1251.10" stroke="#000" stroke-width="2.5"/>
<line x1="194.30" y1="1573.10" x2="230.30" y2="1573.10" stroke="#000" stroke-width="2.5"/>
<path d="M177.7 1375.1 L247.1 1375.1 L247.1 1414.6000000000001 L233.6 1419.4 L247.1 1424.2 L247.1 1466.3 L177.7 1466.3 L177.7 1424.2 L191.2 1419.4 L177.7 1414.6000000000001 Z" fill="#e8000f" stroke="#000" stroke-width="2.4" stroke-linejoin="miter"/>
<line x1="191.20" y1="1419.40" x2="233.60" y2="1419.40" stroke="#000" stroke-width="2.4"/>
<line x1="323.10" y1="1257.40" x2="323.10" y2="1377.10" stroke="#000" stroke-width="2.0" stroke-dasharray="2.3 3.9"/>
<line x1="323.10" y1="1464.30" x2="323.10" y2="1564.00" stroke="#000" stroke-width="2.0" stroke-dasharray="2.3 3.9"/>
<line x1="305.10" y1="1257.40" x2="341.10" y2="1257.40" stroke="#000" stroke-width="2.5"/>
<line x1="305.10" y1="1564.00" x2="341.10" y2="1564.00" stroke="#000" stroke-width="2.5"/>
<path d="M288.6 1377.1 L358.3 1377.1 L358.3 1416.6000000000001 L344.8 1421.4 L358.3 1426.2 L358.3 1464.3 L288.6 1464.3 L288.6 1426.2 L302.1 1421.4 L288.6 1416.6000000000001 Z" fill="#2000c8" stroke="#000" stroke-width="2.4" stroke-linejoin="miter"/>
<line x1="302.10" y1="1421.40" x2="344.80" y2="1421.40" stroke="#000" stroke-width="2.4"/>
<line x1="212.30" y1="1585.70" x2="212.30" y2="1596.20" stroke="#000" stroke-width="2.6"/>
<line x1="323.10" y1="1585.70" x2="323.10" y2="1596.20" stroke="#000" stroke-width="2.6"/>
<text x="225.50" y="1295.50" font-size="25.5" xml:space="preserve"><tspan font-style="italic">p</tspan> = 0.21</text>
<text x="200.00" y="1629.50" font-size="25.3" text-anchor="middle" xml:space="preserve"><tspan font-style="italic">BRM-GFP</tspan></text>
<text x="199.50" y="1658.50" font-size="25.3" text-anchor="middle" xml:space="preserve"><tspan font-style="italic">brm-1</tspan></text>
<text x="364.50" y="1632.00" font-size="25.3" text-anchor="middle" xml:space="preserve"><tspan font-style="italic">BRM-GFP</tspan></text>
<text x="364.00" y="1659.50" font-size="25.3" text-anchor="middle" xml:space="preserve"><tspan font-style="italic">brm-1 bcl7a bcl7b</tspan></text>
<text transform="translate(46.20 1432.50) rotate(-90)" font-size="30.5" text-anchor="middle" xml:space="preserve">log<tspan font-size="21" dy="7.3">2</tspan><tspan dy="-7.3"> normalized reads in</tspan></text>
<text transform="translate(82.00 1431.00) rotate(-90)" font-size="30.5" text-anchor="middle" xml:space="preserve">binding sites, <tspan font-style="italic">n</tspan> = 7,465</text>
</g>
<g id="panel_h">
<text x="438.50" y="1231.00" font-size="32" font-weight="bold" xml:space="preserve">h</text>
<rect x="582.50" y="1254.00" width="511.50" height="355.50" fill="#f9f9f9"/>
<path d="M583.5 1416.0 L583.5 1409.2 L584.9 1408.4 L586.3 1409.3 L587.7 1406.9 L589.1 1406.0 L590.5 1407.1 L591.9 1401.9 L593.3 1403.1 L594.7 1402.3 L596.1 1405.9 L597.5 1408.1 L598.9 1407.6 L600.3 1403.8 L601.7 1403.1 L603.1 1401.6 L604.5 1400.2 L605.9 1403.4 L607.3 1404.7 L608.7 1405.0 L610.1 1402.7 L611.5 1402.3 L612.9 1406.3 L614.3 1408.0 L615.7 1410.6 L617.1 1407.2 L618.5 1404.4 L619.9 1406.2 L621.3 1405.0 L622.7 1407.4 L624.1 1408.1 L625.5 1406.3 L626.9 1411.2 L628.3 1407.4 L629.7 1407.6 L631.1 1402.2 L632.5 1400.7 L633.9 1404.8 L635.3 1407.8 L636.7 1407.2 L638.1 1407.3 L639.5 1404.4 L640.9 1402.1 L642.3 1406.5 L643.7 1407.1 L645.1 1404.7 L646.5 1407.5 L647.9 1409.4 L649.3 1407.6 L650.7 1409.6 L652.1 1408.7 L653.5 1409.3 L654.9 1408.2 L656.3 1407.6 L657.7 1407.7 L659.1 1404.9 L660.5 1403.7 L661.9 1401.2 L663.3 1407.0 L664.7 1411.5 L666.1 1411.5 L667.5 1411.2 L668.9 1409.6 L670.3 1411.3 L671.7 1411.5 L673.1 1407.8 L674.5 1406.3 L675.9 1400.6 L677.3 1404.7 L678.7 1405.4 L680.1 1403.6 L681.5 1405.6 L682.9 1404.3 L684.3 1405.9 L685.7 1411.0 L687.1 1409.3 L688.5 1407.8 L689.9 1407.5 L691.3 1404.1 L692.7 1406.5 L694.1 1406.7 L695.5 1410.2 L696.9 1406.1 L698.3 1407.1 L699.7 1408.0 L701.1 1405.2 L702.5 1408.0 L703.9 1407.1 L705.3 1407.1 L706.7 1405.4 L708.1 1409.4 L709.5 1411.2 L710.9 1408.8 L712.3 1410.8 L713.7 1411.5 L715.1 1409.7 L716.5 1411.3 L717.9 1409.6 L719.3 1400.0 L720.7 1397.1 L722.1 1393.2 L723.5 1401.2 L724.9 1408.2 L726.3 1410.8 L727.7 1406.0 L729.1 1407.9 L730.5 1406.5 L731.9 1406.2 L733.3 1404.9 L734.7 1405.2 L736.1 1407.4 L737.5 1406.4 L738.9 1410.3 L740.3 1407.9 L741.7 1408.3 L743.1 1405.1 L744.5 1403.2 L745.9 1404.1 L747.3 1406.9 L748.7 1406.5 L750.1 1407.8 L750.5 1407.8 L750.5 1416.0 Z" fill="#fb0000"/>
<path d="M754.5 1416.0 L754.5 1399.6 L755.9 1401.0 L757.3 1394.2 L758.7 1391.4 L760.1 1389.0 L761.5 1377.7 L762.9 1376.9 L764.3 1366.9 L765.7 1370.6 L767.1 1372.0 L768.5 1369.1 L769.9 1360.8 L771.3 1368.6 L772.7 1373.3 L774.1 1377.8 L775.5 1384.5 L776.9 1385.0 L778.3 1388.0 L779.7 1390.7 L781.1 1387.0 L782.5 1386.6 L783.9 1392.4 L785.3 1398.3 L786.7 1400.2 L788.1 1391.9 L789.5 1387.6 L790.9 1388.1 L792.3 1381.4 L793.7 1386.2 L795.1 1385.8 L796.5 1386.9 L797.9 1388.5 L799.3 1390.1 L800.7 1390.8 L802.1 1394.8 L803.5 1394.9 L804.9 1396.2 L806.3 1397.8 L807.7 1398.7 L809.1 1399.5 L810.5 1395.6 L811.9 1402.6 L813.3 1394.3 L814.7 1389.4 L816.1 1385.9 L817.5 1383.4 L818.9 1390.9 L820.3 1383.2 L821.7 1375.0 L823.1 1361.0 L824.5 1360.3 L825.9 1352.2 L827.3 1346.5 L828.7 1343.7 L830.1 1337.4 L831.5 1339.3 L832.9 1335.9 L834.3 1325.6 L835.7 1327.4 L837.1 1324.8 L838.5 1325.0 L839.9 1320.9 L841.3 1325.0 L842.7 1314.0 L844.1 1317.7 L845.5 1310.2 L846.9 1314.0 L848.3 1308.1 L849.7 1299.9 L851.1 1292.0 L852.5 1273.1 L853.9 1293.9 L855.3 1306.2 L856.7 1316.8 L858.1 1341.3 L859.5 1360.1 L860.9 1370.1 L862.3 1376.0 L863.7 1385.2 L865.1 1389.5 L866.5 1391.0 L867.9 1385.6 L869.3 1382.7 L870.7 1386.9 L872.1 1391.8 L873.5 1393.7 L874.9 1394.6 L876.3 1397.1 L877.7 1397.6 L879.1 1398.3 L880.5 1396.6 L881.9 1396.3 L883.3 1390.5 L884.7 1395.5 L886.1 1393.1 L887.5 1386.3 L888.9 1388.3 L890.3 1386.3 L891.7 1390.3 L893.1 1390.6 L894.5 1391.8 L895.9 1394.7 L897.3 1394.7 L898.7 1386.5 L900.1 1386.5 L901.5 1386.1 L902.9 1384.5 L904.3 1384.3 L905.7 1382.5 L907.1 1384.8 L908.5 1385.5 L909.9 1383.1 L911.3 1386.1 L912.7 1390.2 L914.1 1389.1 L915.5 1389.8 L916.9 1379.4 L918.3 1374.9 L919.7 1370.2 L921.1 1371.2 L922.5 1369.7 L923.0 1369.7 L923.0 1416.0 Z" fill="#fb0000"/>
<path d="M926.5 1416.0 L926.5 1404.2 L927.9 1396.5 L929.3 1398.0 L930.7 1399.6 L932.1 1399.4 L933.5 1394.6 L934.9 1393.6 L936.3 1391.1 L937.7 1392.5 L939.1 1390.6 L940.5 1395.6 L941.9 1396.9 L943.3 1401.1 L944.7 1399.1 L946.1 1397.2 L947.5 1394.7 L948.9 1392.0 L950.3 1395.6 L951.7 1391.1 L953.1 1388.0 L954.5 1392.7 L955.9 1392.6 L957.3 1399.1 L958.7 1396.5 L960.1 1394.6 L961.5 1398.9 L962.9 1396.4 L964.3 1396.0 L965.7 1396.9 L967.1 1398.6 L968.5 1395.3 L969.9 1395.6 L971.3 1397.0 L972.7 1399.0 L974.1 1400.2 L975.5 1400.3 L976.9 1399.3 L978.3 1401.8 L979.7 1399.2 L981.1 1396.4 L982.5 1396.4 L983.9 1399.2 L985.3 1393.1 L986.7 1387.9 L988.1 1382.9 L989.5 1365.3 L990.9 1363.8 L992.3 1361.5 L993.7 1357.6 L995.1 1353.2 L996.5 1339.0 L997.9 1335.9 L999.3 1322.0 L1000.7 1308.8 L1002.1 1305.9 L1003.5 1304.9 L1004.9 1312.1 L1006.3 1318.1 L1007.7 1331.2 L1009.1 1340.2 L1010.5 1353.8 L1011.9 1361.0 L1013.3 1365.9 L1014.7 1370.7 L1016.1 1373.1 L1017.5 1382.1 L1018.9 1389.4 L1020.3 1391.1 L1021.7 1393.8 L1023.1 1401.1 L1024.5 1399.1 L1025.9 1397.2 L1027.3 1396.7 L1028.7 1394.3 L1030.1 1392.8 L1031.5 1393.2 L1032.9 1393.8 L1034.3 1397.5 L1035.7 1402.2 L1037.1 1401.9 L1038.5 1401.0 L1039.9 1402.7 L1041.3 1402.4 L1042.7 1404.0 L1044.1 1406.9 L1045.5 1410.3 L1046.9 1409.8 L1048.3 1410.5 L1049.7 1408.9 L1051.1 1404.3 L1052.5 1407.9 L1053.9 1407.5 L1055.3 1403.3 L1056.7 1400.9 L1058.1 1402.3 L1059.5 1401.6 L1060.9 1400.3 L1062.3 1397.3 L1063.7 1401.1 L1065.1 1403.5 L1066.5 1400.9 L1067.9 1403.4 L1069.3 1403.1 L1070.7 1399.1 L1072.1 1399.9 L1073.5 1399.3 L1074.9 1398.1 L1076.3 1399.4 L1077.7 1396.8 L1079.1 1394.3 L1080.5 1397.4 L1081.9 1398.7 L1083.3 1400.4 L1084.7 1400.6 L1086.1 1401.7 L1087.5 1404.3 L1088.9 1401.7 L1090.3 1408.0 L1091.7 1408.6 L1093.0 1408.6 L1093.0 1416.0 Z" fill="#fb0000"/>
<path d="M583.5 1596.0 L583.5 1591.5 L584.9 1590.0 L586.3 1589.2 L587.7 1583.8 L589.1 1583.0 L590.5 1580.4 L591.9 1581.4 L593.3 1584.6 L594.7 1586.6 L596.1 1590.2 L597.5 1587.8 L598.9 1585.0 L600.3 1584.4 L601.7 1584.1 L603.1 1585.3 L604.5 1587.3 L605.9 1586.7 L607.3 1588.8 L608.7 1586.9 L610.1 1585.7 L611.5 1587.1 L612.9 1590.6 L614.3 1591.5 L615.7 1589.1 L617.1 1583.1 L618.5 1589.4 L619.9 1587.0 L621.3 1585.4 L622.7 1584.7 L624.1 1589.9 L625.5 1590.5 L626.9 1590.3 L628.3 1588.2 L629.7 1588.7 L631.1 1588.5 L632.5 1587.9 L633.9 1589.0 L635.3 1588.9 L636.7 1589.0 L638.1 1586.1 L639.5 1584.4 L640.9 1583.1 L642.3 1584.9 L643.7 1587.1 L645.1 1584.1 L646.5 1584.8 L647.9 1586.0 L649.3 1590.5 L650.7 1591.5 L652.1 1591.1 L653.5 1591.5 L654.9 1586.8 L656.3 1585.4 L657.7 1587.7 L659.1 1588.3 L660.5 1585.9 L661.9 1583.7 L663.3 1586.3 L664.7 1583.5 L666.1 1586.7 L667.5 1585.9 L668.9 1587.0 L670.3 1583.2 L671.7 1582.2 L673.1 1586.0 L674.5 1584.5 L675.9 1586.4 L677.3 1586.6 L678.7 1585.6 L680.1 1584.7 L681.5 1583.4 L682.9 1583.1 L684.3 1581.0 L685.7 1580.8 L687.1 1582.3 L688.5 1589.0 L689.9 1588.1 L691.3 1589.0 L692.7 1587.6 L694.1 1589.1 L695.5 1585.1 L696.9 1590.6 L698.3 1588.4 L699.7 1585.5 L701.1 1581.6 L702.5 1585.5 L703.9 1589.2 L705.3 1591.3 L706.7 1581.5 L708.1 1586.7 L709.5 1586.5 L710.9 1590.6 L712.3 1591.0 L713.7 1587.1 L715.1 1588.2 L716.5 1588.0 L717.9 1588.6 L719.3 1589.3 L720.7 1587.5 L722.1 1586.9 L723.5 1588.2 L724.9 1588.0 L726.3 1586.0 L727.7 1588.7 L729.1 1589.8 L730.5 1588.3 L731.9 1588.3 L733.3 1588.7 L734.7 1587.6 L736.1 1586.4 L737.5 1586.5 L738.9 1581.5 L740.3 1582.9 L741.7 1585.0 L743.1 1586.4 L744.5 1585.5 L745.9 1588.2 L747.3 1587.2 L748.7 1587.6 L750.1 1586.3 L750.5 1586.3 L750.5 1596.0 Z" fill="#fb0000"/>
<path d="M754.5 1596.0 L754.5 1578.4 L755.9 1574.1 L757.3 1580.3 L758.7 1575.4 L760.1 1566.4 L761.5 1563.1 L762.9 1561.4 L764.3 1559.8 L765.7 1558.7 L767.1 1558.3 L768.5 1550.0 L769.9 1561.2 L771.3 1564.9 L772.7 1569.6 L774.1 1565.1 L775.5 1568.3 L776.9 1570.2 L778.3 1570.2 L779.7 1570.7 L781.1 1575.3 L782.5 1573.9 L783.9 1573.2 L785.3 1575.8 L786.7 1569.0 L788.1 1569.7 L789.5 1567.9 L790.9 1561.6 L792.3 1554.9 L793.7 1554.9 L795.1 1562.3 L796.5 1572.3 L797.9 1573.3 L799.3 1566.8 L800.7 1572.7 L802.1 1569.1 L803.5 1566.4 L804.9 1570.1 L806.3 1575.1 L807.7 1578.3 L809.1 1579.6 L810.5 1579.5 L811.9 1576.0 L813.3 1573.2 L814.7 1576.4 L816.1 1574.9 L817.5 1570.3 L818.9 1567.5 L820.3 1556.5 L821.7 1545.7 L823.1 1537.9 L824.5 1533.1 L825.9 1525.2 L827.3 1527.1 L828.7 1523.2 L830.1 1530.5 L831.5 1534.2 L832.9 1528.2 L834.3 1513.0 L835.7 1505.9 L837.1 1499.6 L838.5 1488.1 L839.9 1496.3 L841.3 1507.5 L842.7 1512.2 L844.1 1504.3 L845.5 1507.9 L846.9 1503.1 L848.3 1489.0 L849.7 1481.4 L851.1 1466.7 L852.5 1461.3 L853.9 1472.6 L855.3 1474.1 L856.7 1499.2 L858.1 1506.1 L859.5 1521.7 L860.9 1539.4 L862.3 1555.7 L863.7 1558.4 L865.1 1561.4 L866.5 1562.4 L867.9 1568.4 L869.3 1574.9 L870.7 1571.8 L872.1 1574.0 L873.5 1572.4 L874.9 1573.4 L876.3 1571.6 L877.7 1574.4 L879.1 1577.8 L880.5 1577.8 L881.9 1574.3 L883.3 1575.8 L884.7 1581.8 L886.1 1577.7 L887.5 1576.8 L888.9 1573.3 L890.3 1573.9 L891.7 1574.3 L893.1 1580.4 L894.5 1575.2 L895.9 1572.7 L897.3 1565.8 L898.7 1567.3 L900.1 1563.7 L901.5 1566.9 L902.9 1564.0 L904.3 1568.7 L905.7 1564.1 L907.1 1569.3 L908.5 1566.9 L909.9 1560.4 L911.3 1564.1 L912.7 1564.1 L914.1 1560.7 L915.5 1557.3 L916.9 1558.7 L918.3 1550.6 L919.7 1553.8 L921.1 1543.8 L922.5 1537.6 L923.0 1537.6 L923.0 1596.0 Z" fill="#fb0000"/>
<path d="M926.5 1596.0 L926.5 1583.4 L927.9 1583.4 L929.3 1582.0 L930.7 1585.4 L932.1 1583.9 L933.5 1580.4 L934.9 1581.3 L936.3 1579.0 L937.7 1580.3 L939.1 1580.5 L940.5 1578.6 L941.9 1576.3 L943.3 1573.8 L944.7 1575.4 L946.1 1572.8 L947.5 1577.2 L948.9 1573.1 L950.3 1578.8 L951.7 1579.3 L953.1 1573.8 L954.5 1568.3 L955.9 1566.7 L957.3 1564.5 L958.7 1565.0 L960.1 1567.7 L961.5 1566.5 L962.9 1567.0 L964.3 1567.6 L965.7 1572.1 L967.1 1572.1 L968.5 1573.3 L969.9 1574.7 L971.3 1576.4 L972.7 1580.7 L974.1 1577.3 L975.5 1576.9 L976.9 1573.8 L978.3 1567.5 L979.7 1562.4 L981.1 1561.6 L982.5 1559.6 L983.9 1558.4 L985.3 1560.4 L986.7 1556.1 L988.1 1549.3 L989.5 1538.1 L990.9 1530.7 L992.3 1518.1 L993.7 1506.1 L995.1 1510.4 L996.5 1485.9 L997.9 1477.4 L999.3 1470.1 L1000.7 1450.6 L1002.1 1439.3 L1003.5 1454.5 L1004.9 1463.9 L1006.3 1477.5 L1007.7 1491.9 L1009.1 1505.9 L1010.5 1533.1 L1011.9 1540.6 L1013.3 1547.9 L1014.7 1548.6 L1016.1 1549.8 L1017.5 1565.7 L1018.9 1566.7 L1020.3 1570.4 L1021.7 1577.0 L1023.1 1578.1 L1024.5 1575.3 L1025.9 1574.9 L1027.3 1575.9 L1028.7 1574.2 L1030.1 1568.6 L1031.5 1575.3 L1032.9 1579.4 L1034.3 1580.9 L1035.7 1581.7 L1037.1 1585.4 L1038.5 1586.7 L1039.9 1585.0 L1041.3 1582.7 L1042.7 1582.9 L1044.1 1582.6 L1045.5 1581.8 L1046.9 1581.3 L1048.3 1581.8 L1049.7 1580.6 L1051.1 1580.8 L1052.5 1580.2 L1053.9 1581.4 L1055.3 1581.5 L1056.7 1581.9 L1058.1 1580.6 L1059.5 1575.7 L1060.9 1574.7 L1062.3 1574.9 L1063.7 1579.8 L1065.1 1576.7 L1066.5 1576.3 L1067.9 1573.0 L1069.3 1572.8 L1070.7 1576.7 L1072.1 1578.9 L1073.5 1585.0 L1074.9 1582.5 L1076.3 1586.5 L1077.7 1583.3 L1079.1 1578.6 L1080.5 1581.9 L1081.9 1578.2 L1083.3 1577.4 L1084.7 1573.5 L1086.1 1579.0 L1087.5 1579.2 L1088.9 1582.8 L1090.3 1578.7 L1091.7 1580.8 L1093.0 1580.8 L1093.0 1596.0 Z" fill="#fb0000"/>
<rect x="583.50" y="1412.00" width="509.50" height="4.00" fill="#fb0000"/>
<rect x="583.50" y="1592.00" width="509.50" height="4.00" fill="#fb0000"/>
<rect x="624.50" y="1599.90" width="85.50" height="6.20" fill="#1616b8"/>
<rect x="643.00" y="1602.40" width="1.60" height="1.20" fill="#cfd0ff"/>
<rect x="669.00" y="1602.40" width="1.60" height="1.20" fill="#cfd0ff"/>
<rect x="696.00" y="1602.40" width="1.60" height="1.20" fill="#cfd0ff"/>
<rect x="765.50" y="1598.50" width="4.50" height="9.00" fill="#1616b8"/>
<rect x="813.50" y="1601.70" width="13.50" height="2.60" fill="#1616b8"/>
<rect x="826.00" y="1599.50" width="34.00" height="7.00" fill="#1616b8"/>
<rect x="860.00" y="1601.70" width="5.00" height="2.60" fill="#1616b8"/>
<rect x="838.00" y="1602.40" width="1.60" height="1.20" fill="#cfd0ff"/>
<rect x="846.00" y="1602.40" width="1.60" height="1.20" fill="#cfd0ff"/>
<rect x="903.50" y="1601.70" width="11.50" height="2.60" fill="#1616b8"/>
<rect x="914.00" y="1599.50" width="7.50" height="7.00" fill="#1616b8"/>
<rect x="996.50" y="1601.70" width="5.50" height="2.60" fill="#1616b8"/>
<rect x="1001.00" y="1599.50" width="26.00" height="7.00" fill="#1616b8"/>
<rect x="1029.70" y="1599.50" width="4.30" height="7.00" fill="#1616b8"/>
<rect x="1036.50" y="1599.50" width="35.00" height="7.00" fill="#1616b8"/>
<rect x="1071.00" y="1601.70" width="4.50" height="2.60" fill="#1616b8"/>
<line x1="752.60" y1="1256.00" x2="752.60" y2="1616.50" stroke="#808080" stroke-width="2.8"/>
<line x1="924.80" y1="1256.00" x2="924.80" y2="1616.50" stroke="#808080" stroke-width="2.8"/>
<rect x="582.50" y="1254.00" width="511.50" height="355.50" fill="none" stroke="#000" stroke-width="2.2"/>
<text x="591.50" y="1285.80" font-size="25.3" xml:space="preserve">[0 – 1,500]</text>
<text x="591.50" y="1449.80" font-size="25.3" xml:space="preserve">[0 – 1,500]</text>
<line x1="490.20" y1="1252.50" x2="490.20" y2="1620.50" stroke="#000" stroke-width="2.2"/>
<text transform="translate(468.90 1411.50) rotate(-90) scale(0.955 1)" font-size="32" text-anchor="middle" xml:space="preserve">BRM GFP ChIP-seq</text>
<text transform="translate(520.50 1358.80) scale(0.97 1)" font-size="31" xml:space="preserve">WT</text>
<text x="499.50" y="1502.00" font-size="30.4" xml:space="preserve"><tspan font-style="italic">bcl7a</tspan></text>
<text x="499.50" y="1538.00" font-size="30.4" xml:space="preserve"><tspan font-style="italic">bcl7b</tspan></text>
<text x="673.00" y="1652.70" font-size="30.5" text-anchor="middle" letter-spacing="0.5" xml:space="preserve"><tspan font-style="italic">TA3</tspan></text>
<text x="830.20" y="1652.70" font-size="30" text-anchor="middle" letter-spacing="0.7" xml:space="preserve"><tspan font-style="italic">AT2G29660</tspan></text>
<text x="1012.20" y="1652.70" font-size="30" text-anchor="middle" letter-spacing="0.7" xml:space="preserve"><tspan font-style="italic">AT2G29970</tspan></text>
</g>
<g id="panel_i">
<text x="1121.50" y="1236.30" font-size="32" font-weight="bold" xml:space="preserve">i</text>
<line x1="1251.50" y1="1279.50" x2="1251.50" y2="1607.00" stroke="#000" stroke-width="2"/>
<line x1="1236.00" y1="1606.00" x2="1742.00" y2="1606.00" stroke="#000" stroke-width="2"/>
<line x1="1236.00" y1="1606.00" x2="1251.50" y2="1606.00" stroke="#000" stroke-width="2"/>
<text x="1224.50" y="1618.50" font-size="30.3" text-anchor="end" xml:space="preserve">0.00</text>
<line x1="1236.00" y1="1540.90" x2="1251.50" y2="1540.90" stroke="#000" stroke-width="2"/>
<text x="1224.50" y="1554.20" font-size="30.3" text-anchor="end" xml:space="preserve">0.05</text>
<line x1="1236.00" y1="1475.80" x2="1251.50" y2="1475.80" stroke="#000" stroke-width="2"/>
<text x="1224.50" y="1489.90" font-size="30.3" text-anchor="end" xml:space="preserve">0.10</text>
<line x1="1236.00" y1="1410.70" x2="1251.50" y2="1410.70" stroke="#000" stroke-width="2"/>
<text x="1224.50" y="1425.60" font-size="30.3" text-anchor="end" xml:space="preserve">0.15</text>
<line x1="1236.00" y1="1345.60" x2="1251.50" y2="1345.60" stroke="#000" stroke-width="2"/>
<text x="1224.50" y="1361.30" font-size="30.3" text-anchor="end" xml:space="preserve">0.20</text>
<line x1="1236.00" y1="1280.50" x2="1251.50" y2="1280.50" stroke="#000" stroke-width="2"/>
<text x="1224.50" y="1297.00" font-size="30.3" text-anchor="end" xml:space="preserve">0.25</text>
<line x1="1330.90" y1="1606.00" x2="1330.90" y2="1618.00" stroke="#000" stroke-width="2"/>
<line x1="1489.30" y1="1606.00" x2="1489.30" y2="1618.00" stroke="#000" stroke-width="2"/>
<line x1="1658.60" y1="1606.00" x2="1658.60" y2="1618.00" stroke="#000" stroke-width="2"/>
<text transform="translate(1151.80 1423.50) rotate(-90)" font-size="32.3" text-anchor="middle" xml:space="preserve">% Input</text>
<rect x="1270.00" y="1605.61" width="36.00" height="0.39" fill="#a0a0a4"/>
<ellipse cx="1275.00" cy="1605.35" rx="5.6" ry="3.6" fill="#000"/>
<ellipse cx="1288.00" cy="1605.09" rx="5.6" ry="3.6" fill="#000"/>
<ellipse cx="1300.00" cy="1605.22" rx="5.6" ry="3.6" fill="#000"/>
<rect x="1313.40" y="1600.14" width="36.20" height="5.86" fill="#ff0000"/>
<ellipse cx="1319.50" cy="1600.79" rx="5.6" ry="3.6" fill="#000"/>
<ellipse cx="1332.00" cy="1599.49" rx="5.6" ry="3.6" fill="#000"/>
<ellipse cx="1344.00" cy="1599.88" rx="5.6" ry="3.6" fill="#000"/>
<rect x="1358.00" y="1600.79" width="36.20" height="5.21" fill="#0000ff"/>
<line x1="1376.10" y1="1599.23" x2="1376.10" y2="1600.79" stroke="#0000ff" stroke-width="2.0"/>
<line x1="1367.60" y1="1599.23" x2="1384.60" y2="1599.23" stroke="#0000ff" stroke-width="2.0"/>
<ellipse cx="1365.10" cy="1603.14" rx="5.6" ry="3.6" fill="#000"/>
<ellipse cx="1376.10" cy="1599.75" rx="5.6" ry="3.6" fill="#000"/>
<ellipse cx="1388.60" cy="1599.75" rx="5.6" ry="3.6" fill="#000"/>
<rect x="1427.00" y="1600.79" width="36.50" height="5.21" fill="#a0a0a4"/>
<line x1="1445.25" y1="1599.23" x2="1445.25" y2="1600.79" stroke="#a0a0a4" stroke-width="2.0"/>
<line x1="1436.75" y1="1599.23" x2="1453.75" y2="1599.23" stroke="#a0a0a4" stroke-width="2.0"/>
<ellipse cx="1433.25" cy="1603.14" rx="5.6" ry="3.6" fill="#000"/>
<ellipse cx="1446.25" cy="1598.84" rx="5.6" ry="3.6" fill="#000"/>
<ellipse cx="1458.25" cy="1600.79" rx="5.6" ry="3.6" fill="#000"/>
<rect x="1471.40" y="1487.52" width="35.80" height="118.48" fill="#ff0000"/>
<rect x="1470.40" y="1487.02" width="37.80" height="5.50" fill="#ff0000"/>
<line x1="1489.30" y1="1455.62" x2="1489.30" y2="1487.52" stroke="#ff0000" stroke-width="2.0"/>
<line x1="1480.80" y1="1455.62" x2="1497.80" y2="1455.62" stroke="#ff0000" stroke-width="2.0"/>
<ellipse cx="1489.80" cy="1451.06" rx="5.6" ry="3.6" fill="#000"/>
<ellipse cx="1489.80" cy="1501.19" rx="5.6" ry="3.6" fill="#000"/>
<ellipse cx="1489.80" cy="1509.00" rx="5.6" ry="3.6" fill="#000"/>
<rect x="1516.70" y="1481.66" width="35.10" height="124.34" fill="#0000ff"/>
<rect x="1515.70" y="1481.16" width="37.10" height="5.50" fill="#0000ff"/>
<line x1="1534.25" y1="1453.02" x2="1534.25" y2="1481.66" stroke="#0000ff" stroke-width="2.0"/>
<line x1="1525.75" y1="1453.02" x2="1542.75" y2="1453.02" stroke="#0000ff" stroke-width="2.0"/>
<ellipse cx="1534.75" cy="1447.81" rx="5.6" ry="3.6" fill="#000"/>
<ellipse cx="1521.75" cy="1500.54" rx="5.6" ry="3.6" fill="#000"/>
<ellipse cx="1546.75" cy="1497.28" rx="5.6" ry="3.6" fill="#000"/>
<rect x="1598.00" y="1605.61" width="36.00" height="0.39" fill="#a0a0a4"/>
<ellipse cx="1604.00" cy="1605.61" rx="5.6" ry="3.6" fill="#000"/>
<ellipse cx="1616.00" cy="1605.48" rx="5.6" ry="3.6" fill="#000"/>
<ellipse cx="1628.00" cy="1605.35" rx="5.6" ry="3.6" fill="#000"/>
<rect x="1642.20" y="1338.83" width="35.50" height="267.17" fill="#ff0000"/>
<rect x="1641.20" y="1338.33" width="37.50" height="5.50" fill="#ff0000"/>
<line x1="1659.95" y1="1326.85" x2="1659.95" y2="1338.83" stroke="#ff0000" stroke-width="2.0"/>
<line x1="1651.45" y1="1326.85" x2="1668.45" y2="1326.85" stroke="#ff0000" stroke-width="2.0"/>
<ellipse cx="1660.45" cy="1328.02" rx="5.6" ry="3.6" fill="#000"/>
<ellipse cx="1660.45" cy="1336.49" rx="5.6" ry="3.6" fill="#000"/>
<ellipse cx="1660.45" cy="1352.76" rx="5.6" ry="3.6" fill="#000"/>
<rect x="1686.80" y="1346.25" width="35.10" height="259.75" fill="#0000ff"/>
<rect x="1685.80" y="1345.75" width="37.10" height="5.50" fill="#0000ff"/>
<line x1="1704.35" y1="1310.45" x2="1704.35" y2="1346.25" stroke="#0000ff" stroke-width="2.0"/>
<line x1="1695.85" y1="1310.45" x2="1712.85" y2="1310.45" stroke="#0000ff" stroke-width="2.0"/>
<ellipse cx="1704.85" cy="1305.24" rx="5.6" ry="3.6" fill="#000"/>
<ellipse cx="1704.85" cy="1359.27" rx="5.6" ry="3.6" fill="#000"/>
<ellipse cx="1704.85" cy="1374.89" rx="5.6" ry="3.6" fill="#000"/>
<path d="M1337 1581 Q1337 1563 1340 1563 L1366.5 1563 Q1369.5 1563 1370.0 1581" fill="none" stroke="#000" stroke-width="2.2"/>
<path d="M1495 1438 Q1495 1420.5 1498 1420.5 L1525.5 1420.5 Q1528.5 1420.5 1529.0 1438" fill="none" stroke="#000" stroke-width="2.2"/>
<path d="M1667.5 1293 Q1667.5 1275.5 1670.5 1275.5 L1697 1275.5 Q1700 1275.5 1700.5 1293" fill="none" stroke="#000" stroke-width="2.2"/>
<text x="1311.00" y="1546.00" font-size="25" xml:space="preserve"><tspan font-style="italic">p</tspan> = 0.46</text>
<text x="1465.50" y="1406.50" font-size="25" xml:space="preserve"><tspan font-style="italic">p</tspan> = 0.85</text>
<text x="1643.50" y="1263.50" font-size="25" xml:space="preserve"><tspan font-style="italic">p</tspan> = 0.77</text>
<rect x="1260.20" y="1236.90" width="31.80" height="7.80" fill="#a0a0a4"/>
<rect x="1260.20" y="1267.00" width="31.80" height="7.80" fill="#ff0000"/>
<rect x="1260.20" y="1307.40" width="31.80" height="7.80" fill="#0000ff"/>
<text x="1311.00" y="1246.60" font-size="25.4" xml:space="preserve">WT</text>
<text x="1310.00" y="1275.80" font-size="25.4" xml:space="preserve"><tspan font-style="italic">pBRM:BRM-GFP brm-1</tspan></text>
<text x="1310.00" y="1318.00" font-size="25.4" xml:space="preserve"><tspan font-style="italic">pBRM:BRM-GFP brm-1</tspan></text>
<text x="1309.50" y="1349.30" font-size="25.4" xml:space="preserve"><tspan font-style="italic">bcl7a bcl7b</tspan></text>
<text x="1325.00" y="1659.00" font-size="30.5" text-anchor="middle" letter-spacing="0.5" xml:space="preserve"><tspan font-style="italic">TA3</tspan></text>
<text x="1479.00" y="1659.00" font-size="30" text-anchor="middle" letter-spacing="0.7" xml:space="preserve"><tspan font-style="italic">AT2G29660</tspan></text>
<text x="1668.00" y="1659.00" font-size="30" text-anchor="middle" letter-spacing="0.7" xml:space="preserve"><tspan font-style="italic">AT2G29970</tspan></text>
</g>
</svg>
</body></html>
